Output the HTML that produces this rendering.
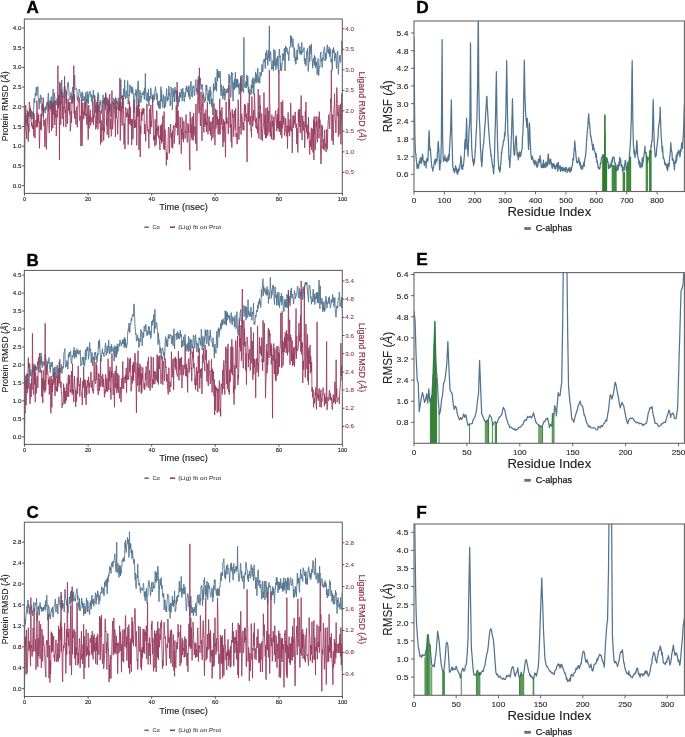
<!DOCTYPE html>
<html><head><meta charset="utf-8"><style>
html,body{margin:0;padding:0;background:#fff;}
svg{display:block;font-family:"Liberation Sans", sans-serif;will-change:transform;}
</style></head><body>
<svg width="685" height="737" viewBox="0 0 685 737">
<rect width="685" height="737" fill="#fff"/>
<defs>
<clipPath id="cl0"><rect x="24.35" y="19.0" width="317.95" height="174.40"/></clipPath>
<clipPath id="cl1"><rect x="24.35" y="270.4" width="317.95" height="174.00"/></clipPath>
<clipPath id="cl2"><rect x="24.35" y="522.2" width="317.95" height="174.30"/></clipPath>
<clipPath id="cr0"><rect x="414.0" y="21.0" width="270.40" height="170.50"/></clipPath>
<clipPath id="cr1"><rect x="414.0" y="272.6" width="270.40" height="170.70"/></clipPath>
<clipPath id="cr2"><rect x="414.0" y="524.0" width="270.40" height="171.30"/></clipPath>
</defs>
<g clip-path="url(#cl0)">
<polyline points="24.50,185.60 24.82,116.64 25.14,113.43 25.45,120.79 25.77,122.60 26.09,124.25 26.41,118.80 26.73,119.28 27.04,114.87 27.36,126.25 27.68,112.90 28.00,115.33 28.32,111.92 28.63,114.34 28.95,116.33 29.27,112.39 29.59,108.32 29.91,111.55 30.22,112.36 30.54,107.90 30.86,113.77 31.18,119.15 31.50,110.90 31.81,112.30 32.13,119.02 32.45,115.64 32.77,111.73 33.09,113.28 33.40,115.03 33.72,107.16 34.04,98.50 34.36,100.07 34.68,102.94 34.99,97.70 35.31,93.03 35.63,95.80 35.95,92.01 36.27,87.12 36.58,91.01 36.90,95.45 37.22,90.73 37.54,90.57 37.86,86.51 38.17,97.90 38.49,100.26 38.81,102.80 39.13,109.25 39.45,102.80 39.76,98.30 40.08,103.56 40.40,95.16 40.72,94.92 41.04,96.39 41.35,98.80 41.67,97.47 41.99,109.59 42.31,105.23 42.63,103.87 42.94,116.42 43.26,111.35 43.58,112.79 43.90,107.21 44.22,111.03 44.53,110.35 44.85,107.95 45.17,113.21 45.49,107.55 45.81,108.59 46.12,105.72 46.44,109.67 46.76,102.71 47.08,101.98 47.40,105.66 47.71,102.84 48.03,98.06 48.35,92.91 48.67,108.38 48.99,102.07 49.30,101.30 49.62,103.77 49.94,109.59 50.26,100.07 50.58,109.11 50.89,103.32 51.21,96.68 51.53,109.07 51.85,107.62 52.17,112.23 52.48,105.90 52.80,96.16 53.12,88.95 53.44,105.90 53.76,106.99 54.07,100.55 54.39,92.86 54.71,95.48 55.03,102.79 55.35,100.39 55.66,100.88 55.98,102.00 56.30,105.23 56.62,100.44 56.94,98.53 57.25,99.64 57.57,100.64 57.89,106.60 58.21,104.83 58.53,94.80 58.84,97.58 59.16,105.33 59.48,93.79 59.80,92.72 60.12,83.62 60.43,90.29 60.75,95.91 61.07,103.54 61.39,91.96 61.71,79.89 62.02,92.44 62.34,96.97 62.66,92.17 62.98,97.48 63.30,96.68 63.61,96.57 63.93,93.44 64.25,87.01 64.57,89.68 64.89,85.90 65.20,91.19 65.52,89.38 65.84,101.61 66.16,103.64 66.48,92.54 66.79,95.02 67.11,89.89 67.43,87.82 67.75,82.74 68.07,83.23 68.38,82.39 68.70,88.10 69.02,93.86 69.34,96.66 69.66,96.65 69.97,100.13 70.29,98.61 70.61,95.51 70.93,92.31 71.25,94.08 71.56,103.42 71.88,97.72 72.20,93.59 72.52,87.15 72.84,87.01 73.15,93.54 73.47,96.95 73.79,83.83 74.11,84.69 74.43,79.34 74.74,75.37 75.06,89.46 75.38,89.37 75.70,89.01 76.02,88.35 76.33,88.20 76.65,90.02 76.97,91.04 77.29,100.58 77.61,97.73 77.92,99.64 78.24,95.85 78.56,97.39 78.88,92.29 79.20,88.97 79.51,90.28 79.83,90.88 80.15,92.41 80.47,96.06 80.79,96.24 81.10,98.15 81.42,94.31 81.74,94.65 82.06,91.80 82.38,100.86 82.69,93.05 83.01,98.48 83.33,100.83 83.65,99.05 83.97,100.27 84.28,96.27 84.60,99.19 84.92,103.23 85.24,103.90 85.56,92.61 85.87,94.42 86.19,101.83 86.51,98.88 86.83,106.04 87.15,91.26 87.46,102.56 87.78,96.88 88.10,94.03 88.42,103.60 88.74,98.52 89.05,92.55 89.37,92.79 89.69,94.09 90.01,91.03 90.33,93.98 90.64,94.43 90.96,97.21 91.28,94.43 91.60,101.76 91.92,95.76 92.23,100.14 92.55,105.35 92.87,99.90 93.19,90.34 93.51,90.06 93.82,98.00 94.14,95.08 94.46,100.07 94.78,100.60 95.10,99.76 95.41,112.47 95.73,104.69 96.05,107.87 96.37,107.58 96.69,111.72 97.00,113.89 97.32,111.84 97.64,101.40 97.96,92.39 98.28,97.66 98.59,94.14 98.91,100.07 99.23,111.82 99.55,106.11 99.87,102.09 100.18,105.19 100.50,102.78 100.82,100.40 101.14,107.27 101.46,113.85 101.77,110.17 102.09,108.62 102.41,108.85 102.73,101.85 103.05,94.86 103.36,103.49 103.68,101.49 104.00,99.44 104.32,99.55 104.64,97.75 104.95,104.70 105.27,101.67 105.59,93.29 105.91,96.11 106.23,105.07 106.54,102.40 106.86,97.61 107.18,100.27 107.50,106.49 107.82,97.82 108.13,109.05 108.45,104.54 108.77,105.30 109.09,112.00 109.41,101.87 109.72,102.01 110.04,110.27 110.36,104.34 110.68,107.25 111.00,116.53 111.31,114.06 111.63,107.74 111.95,102.83 112.27,103.15 112.59,103.90 112.90,101.90 113.22,104.67 113.54,98.32 113.86,100.85 114.18,101.06 114.49,99.67 114.81,107.61 115.13,109.15 115.45,97.53 115.77,98.66 116.08,102.40 116.40,100.55 116.72,104.06 117.04,101.37 117.36,105.16 117.67,101.60 117.99,109.97 118.31,97.75 118.63,102.16 118.95,109.83 119.26,105.75 119.58,104.58 119.90,101.07 120.22,106.43 120.54,100.29 120.85,79.80 121.17,97.18 121.49,96.05 121.81,98.94 122.13,97.36 122.44,107.45 122.76,108.25 123.08,99.69 123.40,98.42 123.72,88.57 124.03,96.78 124.35,95.54 124.67,79.89 124.99,92.80 125.31,99.23 125.62,97.25 125.94,96.27 126.26,90.84 126.58,92.41 126.90,97.96 127.21,95.16 127.53,80.64 127.85,81.58 128.17,104.16 128.49,99.89 128.80,101.97 129.12,94.72 129.44,95.81 129.76,84.79 130.08,85.30 130.39,85.75 130.71,89.81 131.03,92.87 131.35,92.17 131.67,86.63 131.98,88.30 132.30,93.89 132.62,87.51 132.94,90.57 133.26,93.42 133.57,98.61 133.89,99.71 134.21,100.59 134.53,112.80 134.85,97.43 135.16,92.98 135.48,95.25 135.80,89.37 136.12,90.06 136.44,90.73 136.75,106.63 137.07,101.50 137.39,95.00 137.71,86.16 138.03,80.92 138.34,80.84 138.66,94.98 138.98,107.03 139.30,97.33 139.62,95.96 139.93,90.24 140.25,93.67 140.57,93.34 140.89,102.66 141.21,96.19 141.52,98.20 141.84,94.78 142.16,92.66 142.48,94.90 142.80,93.55 143.11,94.79 143.43,91.13 143.75,90.92 144.07,96.61 144.39,99.43 144.70,87.91 145.02,92.89 145.34,73.31 145.66,90.79 145.98,96.81 146.29,100.57 146.61,97.51 146.93,95.41 147.25,92.52 147.57,101.59 147.88,102.01 148.20,99.47 148.52,89.03 148.84,106.15 149.16,98.48 149.47,100.44 149.79,96.01 150.11,99.12 150.43,95.83 150.75,87.78 151.06,90.84 151.38,91.81 151.70,92.61 152.02,99.18 152.34,95.04 152.65,97.34 152.97,101.73 153.29,99.47 153.61,99.52 153.93,94.17 154.24,96.17 154.56,99.78 154.88,90.50 155.20,88.92 155.52,86.68 155.83,89.35 156.15,94.54 156.47,98.60 156.79,99.69 157.11,93.44 157.42,95.26 157.74,104.91 158.06,101.31 158.38,107.31 158.70,101.32 159.01,106.20 159.33,108.76 159.65,102.31 159.97,100.52 160.29,108.48 160.60,98.79 160.92,86.64 161.24,101.33 161.56,89.73 161.88,98.39 162.19,101.24 162.51,100.81 162.83,107.64 163.15,95.58 163.47,94.64 163.78,101.11 164.10,101.43 164.42,108.45 164.74,105.03 165.06,96.34 165.37,107.04 165.69,104.72 166.01,100.40 166.33,93.42 166.65,88.56 166.96,96.31 167.28,101.31 167.60,96.92 167.92,99.39 168.24,100.15 168.55,92.75 168.87,85.99 169.19,90.77 169.51,95.41 169.83,93.21 170.14,105.78 170.46,101.03 170.78,104.62 171.10,87.07 171.42,88.36 171.73,92.10 172.05,95.58 172.37,109.95 172.69,98.48 173.01,88.19 173.32,96.57 173.64,92.46 173.96,90.34 174.28,101.92 174.60,93.30 174.91,87.05 175.23,90.42 175.55,93.51 175.87,90.12 176.19,101.46 176.50,97.44 176.82,90.25 177.14,99.70 177.46,91.53 177.78,95.65 178.09,106.69 178.41,100.66 178.73,102.72 179.05,96.45 179.37,101.86 179.68,91.93 180.00,97.35 180.32,93.68 180.64,97.27 180.96,97.34 181.27,88.92 181.59,90.52 181.91,94.60 182.23,101.15 182.55,90.67 182.86,88.29 183.18,93.07 183.50,92.02 183.82,98.58 184.14,101.42 184.45,101.61 184.77,95.10 185.09,92.46 185.41,97.02 185.73,90.79 186.04,87.69 186.36,89.66 186.68,85.70 187.00,91.12 187.32,92.48 187.63,89.73 187.95,91.20 188.27,87.15 188.59,96.61 188.91,85.84 189.22,93.18 189.54,92.94 189.86,99.48 190.18,91.30 190.50,83.76 190.81,81.38 191.13,81.53 191.45,94.80 191.77,96.35 192.09,95.16 192.40,97.15 192.72,86.47 193.04,86.78 193.36,87.98 193.68,85.56 193.99,92.38 194.31,95.10 194.63,96.07 194.95,88.71 195.27,86.15 195.58,83.58 195.90,79.52 196.22,91.17 196.54,91.86 196.86,88.11 197.17,94.67 197.49,92.96 197.81,83.44 198.13,78.56 198.45,76.40 198.76,81.09 199.08,84.51 199.40,78.74 199.72,84.73 200.04,83.67 200.35,77.90 200.67,84.97 200.99,89.73 201.31,88.73 201.63,85.10 201.94,84.33 202.26,86.03 202.58,84.77 202.90,96.47 203.22,97.82 203.53,92.92 203.85,97.04 204.17,101.42 204.49,102.86 204.81,102.11 205.12,97.85 205.44,100.87 205.76,95.41 206.08,84.80 206.40,90.44 206.71,85.13 207.03,88.37 207.35,97.82 207.67,97.35 207.99,101.31 208.30,93.40 208.62,100.71 208.94,90.24 209.26,89.80 209.58,104.28 209.89,95.19 210.21,86.89 210.53,96.40 210.85,90.84 211.17,104.04 211.48,98.60 211.80,106.99 212.12,98.85 212.44,106.94 212.76,114.84 213.07,100.92 213.39,83.56 213.71,91.43 214.03,86.48 214.35,87.81 214.66,90.35 214.98,85.74 215.30,77.42 215.62,89.33 215.94,84.11 216.25,82.50 216.57,91.22 216.89,77.59 217.21,69.09 217.53,81.08 217.84,70.87 218.16,75.24 218.48,77.95 218.80,70.99 219.12,75.46 219.43,77.37 219.75,71.95 220.07,71.23 220.39,73.56 220.71,87.93 221.02,95.80 221.34,84.61 221.66,91.54 221.98,89.05 222.30,95.24 222.61,93.45 222.93,99.24 223.25,85.92 223.57,95.25 223.89,94.84 224.20,95.47 224.52,88.33 224.84,100.33 225.16,96.99 225.48,96.14 225.79,91.28 226.11,89.09 226.43,93.05 226.75,90.55 227.07,92.55 227.38,88.39 227.70,89.40 228.02,92.64 228.34,90.24 228.66,86.63 228.97,73.97 229.29,83.47 229.61,82.93 229.93,75.85 230.25,92.29 230.56,97.48 230.88,96.36 231.20,89.48 231.52,72.15 231.84,75.85 232.15,72.85 232.47,79.51 232.79,95.10 233.11,101.21 233.43,85.12 233.74,82.52 234.06,89.67 234.38,79.20 234.70,89.42 235.02,78.88 235.33,72.29 235.65,81.78 235.97,87.94 236.29,79.63 236.61,86.79 236.92,78.91 237.24,86.92 237.56,79.16 237.88,80.14 238.20,83.77 238.51,88.24 238.83,84.06 239.15,94.44 239.47,90.19 239.79,89.17 240.10,82.86 240.42,91.16 240.74,78.33 241.06,84.23 241.38,91.77 241.69,81.11 242.01,74.96 242.33,82.88 242.65,90.63 242.97,89.21 243.28,92.78 243.60,92.47 243.92,37.46 244.24,83.65 244.56,85.81 244.87,85.64 245.19,87.86 245.51,83.76 245.83,81.70 246.15,87.85 246.46,87.92 246.78,74.89 247.10,80.30 247.42,86.18 247.74,76.16 248.05,83.20 248.37,92.65 248.69,86.86 249.01,93.17 249.33,93.73 249.64,89.32 249.96,89.90 250.28,93.77 250.60,94.31 250.92,94.79 251.23,85.03 251.55,91.34 251.87,93.34 252.19,79.43 252.51,87.87 252.82,80.08 253.14,77.56 253.46,84.76 253.78,94.40 254.10,87.67 254.41,82.97 254.73,78.74 255.05,81.49 255.37,75.87 255.69,71.84 256.00,83.48 256.32,74.18 256.64,76.69 256.96,81.59 257.28,81.96 257.59,69.21 257.91,68.12 258.23,82.95 258.55,78.55 258.87,77.41 259.18,76.67 259.50,77.82 259.82,83.26 260.14,72.00 260.46,76.69 260.77,75.07 261.09,75.18 261.41,75.46 261.73,66.72 262.05,64.35 262.36,68.81 262.68,71.88 263.00,70.06 263.32,60.58 263.64,60.62 263.95,59.53 264.27,61.75 264.59,61.87 264.91,58.73 265.23,68.56 265.54,52.82 265.86,58.91 266.18,59.92 266.50,49.91 266.82,51.76 267.13,53.62 267.45,58.02 267.77,65.58 268.09,59.02 268.41,50.32 268.72,58.34 269.04,49.05 269.36,26.03 269.68,61.34 270.00,55.29 270.31,55.45 270.63,51.58 270.95,58.01 271.27,62.56 271.59,69.37 271.90,68.65 272.22,67.60 272.54,69.13 272.86,60.31 273.18,62.11 273.49,70.70 273.81,49.25 274.13,58.76 274.45,65.66 274.77,54.73 275.08,50.45 275.40,61.98 275.72,69.22 276.04,69.99 276.36,58.39 276.67,61.62 276.99,66.13 277.31,63.92 277.63,56.09 277.95,67.61 278.26,67.27 278.58,73.04 278.90,55.53 279.22,49.00 279.54,50.75 279.85,57.47 280.17,55.69 280.49,70.41 280.81,63.16 281.13,68.85 281.44,71.08 281.76,68.26 282.08,64.69 282.40,57.53 282.72,53.31 283.03,53.65 283.35,60.43 283.67,53.94 283.99,55.31 284.31,48.21 284.62,56.75 284.94,70.90 285.26,63.90 285.58,45.85 285.90,47.33 286.21,51.76 286.53,47.54 286.85,47.78 287.17,48.10 287.49,53.79 287.80,52.94 288.12,51.80 288.44,56.09 288.76,60.71 289.08,55.55 289.39,48.43 289.71,47.03 290.03,47.24 290.35,47.25 290.67,35.28 290.98,43.19 291.30,42.23 291.62,36.50 291.94,44.82 292.26,47.31 292.57,43.92 292.89,38.67 293.21,44.15 293.53,46.30 293.85,48.79 294.16,57.33 294.48,47.79 294.80,51.33 295.12,61.50 295.44,57.11 295.75,64.30 296.07,63.46 296.39,57.26 296.71,59.93 297.03,49.76 297.34,59.84 297.66,54.49 297.98,50.46 298.30,43.53 298.62,43.57 298.93,47.62 299.25,50.39 299.57,52.51 299.89,46.65 300.21,54.41 300.52,51.19 300.84,53.35 301.16,52.47 301.48,55.04 301.80,42.47 302.11,52.96 302.43,52.51 302.75,52.24 303.07,50.28 303.39,50.38 303.70,50.64 304.02,47.62 304.34,60.66 304.66,58.04 304.98,64.18 305.29,58.66 305.61,64.49 305.93,66.00 306.25,61.65 306.57,51.47 306.88,51.76 307.20,53.67 307.52,48.32 307.84,59.61 308.16,71.46 308.47,67.34 308.79,64.81 309.11,55.11 309.43,45.68 309.75,61.62 310.06,46.98 310.38,45.83 310.70,49.66 311.02,53.90 311.34,43.89 311.65,52.89 311.97,60.10 312.29,59.77 312.61,68.29 312.93,61.46 313.24,61.71 313.56,59.25 313.88,57.93 314.20,65.49 314.52,55.15 314.83,63.92 315.15,56.83 315.47,67.95 315.79,61.56 316.11,65.53 316.42,62.30 316.74,64.82 317.06,74.77 317.38,73.04 317.70,65.38 318.01,58.68 318.33,67.74 318.65,75.57 318.97,71.81 319.29,66.27 319.60,66.17 319.92,67.12 320.24,57.90 320.56,52.98 320.88,51.99 321.19,61.20 321.51,59.40 321.83,60.08 322.15,67.45 322.47,57.33 322.78,57.30 323.10,60.53 323.42,50.89 323.74,50.27 324.06,49.38 324.37,46.92 324.69,48.53 325.01,60.67 325.33,60.99 325.65,52.99 325.96,59.59 326.28,57.82 326.60,54.86 326.92,47.41 327.24,44.81 327.55,45.89 327.87,52.59 328.19,49.15 328.51,49.77 328.83,53.98 329.14,46.99 329.46,48.78 329.78,56.77 330.10,48.64 330.42,53.79 330.73,51.15 331.05,62.23 331.37,58.46 331.69,62.11 332.01,63.89 332.32,70.11 332.64,49.34 332.96,53.29 333.28,52.78 333.60,47.48 333.91,52.21 334.23,50.62 334.55,60.76 334.87,56.26 335.19,57.75 335.50,53.08 335.82,52.81 336.14,61.77 336.46,68.49 336.78,66.62 337.09,55.57 337.41,52.38 337.73,51.05 338.05,64.51 338.37,74.44 338.68,66.87 339.00,61.75 339.32,60.99 339.64,55.05 339.96,55.41 340.27,61.46 340.59,62.37 340.91,56.80 341.23,54.68 341.55,54.56 341.86,40.84 342.18,49.38 342.50,50.96" fill="none" stroke="#52748f" stroke-width="1.0" stroke-opacity="0.9" stroke-linejoin="round"/>
<polyline points="24.50,192.80 24.82,133.23 25.14,127.59 25.45,121.78 25.77,105.09 26.09,129.83 26.41,130.61 26.73,138.97 27.04,126.60 27.36,110.32 27.68,118.30 28.00,114.09 28.32,141.54 28.63,123.91 28.95,131.96 29.27,102.07 29.59,105.08 29.91,105.03 30.22,116.91 30.54,111.86 30.86,110.00 31.18,121.37 31.50,125.97 31.81,122.51 32.13,127.41 32.45,128.44 32.77,124.95 33.09,129.30 33.40,112.58 33.72,136.38 34.04,113.55 34.36,125.40 34.68,127.68 34.99,138.06 35.31,126.59 35.63,125.20 35.95,119.90 36.27,127.44 36.58,122.13 36.90,100.58 37.22,112.19 37.54,127.01 37.86,112.85 38.17,122.41 38.49,116.48 38.81,115.03 39.13,126.83 39.45,148.31 39.76,135.15 40.08,121.45 40.40,129.33 40.72,121.84 41.04,113.81 41.35,130.14 41.67,113.40 41.99,104.84 42.31,109.40 42.63,109.77 42.94,110.93 43.26,97.74 43.58,119.25 43.90,126.01 44.22,120.03 44.53,135.93 44.85,147.02 45.17,141.29 45.49,124.43 45.81,118.48 46.12,140.31 46.44,149.35 46.76,132.47 47.08,126.19 47.40,122.43 47.71,112.40 48.03,102.74 48.35,111.63 48.67,108.78 48.99,127.81 49.30,132.99 49.62,116.98 49.94,107.35 50.26,104.08 50.58,104.62 50.89,102.25 51.21,101.13 51.53,131.02 51.85,126.18 52.17,110.63 52.48,104.83 52.80,128.18 53.12,101.91 53.44,114.25 53.76,114.65 54.07,108.51 54.39,101.10 54.71,124.92 55.03,101.89 55.35,106.73 55.66,117.78 55.98,114.43 56.30,136.04 56.62,123.19 56.94,110.08 57.25,117.33 57.57,114.57 57.89,65.70 58.21,108.58 58.53,96.22 58.84,105.49 59.16,110.54 59.48,160.00 59.80,81.90 60.12,105.47 60.43,101.16 60.75,124.84 61.07,96.02 61.39,96.90 61.71,89.08 62.02,103.59 62.34,118.85 62.66,99.71 62.98,96.45 63.30,114.82 63.61,126.56 63.93,106.62 64.25,108.95 64.57,76.45 64.89,106.56 65.20,113.03 65.52,109.63 65.84,127.18 66.16,122.44 66.48,91.24 66.79,104.56 67.11,113.61 67.43,123.80 67.75,104.41 68.07,98.69 68.38,102.08 68.70,110.64 69.02,104.59 69.34,102.22 69.66,114.29 69.97,101.90 70.29,131.34 70.61,128.95 70.93,116.71 71.25,111.38 71.56,122.63 71.88,107.77 72.20,95.48 72.52,99.63 72.84,103.41 73.15,97.24 73.47,100.78 73.79,65.70 74.11,113.80 74.43,94.55 74.74,118.62 75.06,110.44 75.38,113.81 75.70,121.08 76.02,124.56 76.33,112.53 76.65,107.28 76.97,106.36 77.29,127.26 77.61,119.06 77.92,109.79 78.24,100.64 78.56,101.92 78.88,100.66 79.20,97.50 79.51,100.26 79.83,120.71 80.15,115.77 80.47,123.99 80.79,146.16 81.10,143.69 81.42,98.64 81.74,125.74 82.06,145.81 82.38,131.20 82.69,102.59 83.01,114.06 83.33,111.59 83.65,119.06 83.97,118.75 84.28,102.69 84.60,104.29 84.92,115.21 85.24,106.37 85.56,102.02 85.87,116.33 86.19,114.14 86.51,113.82 86.83,124.73 87.15,105.90 87.46,116.88 87.78,125.03 88.10,139.64 88.42,138.46 88.74,105.08 89.05,128.41 89.37,115.65 89.69,121.96 90.01,113.14 90.33,109.90 90.64,125.49 90.96,123.68 91.28,118.62 91.60,117.21 91.92,118.60 92.23,122.36 92.55,112.15 92.87,101.48 93.19,108.06 93.51,124.95 93.82,115.72 94.14,117.43 94.46,113.14 94.78,95.64 95.10,115.70 95.41,118.31 95.73,129.35 96.05,125.02 96.37,127.26 96.69,102.08 97.00,111.16 97.32,123.83 97.64,97.31 97.96,129.34 98.28,111.36 98.59,105.03 98.91,108.69 99.23,119.52 99.55,120.67 99.87,123.49 100.18,110.79 100.50,144.59 100.82,131.47 101.14,120.31 101.46,126.23 101.77,142.38 102.09,127.73 102.41,130.15 102.73,112.29 103.05,100.74 103.36,113.61 103.68,140.61 104.00,126.73 104.32,131.90 104.64,114.13 104.95,97.71 105.27,109.91 105.59,92.57 105.91,94.42 106.23,104.59 106.54,125.61 106.86,118.17 107.18,134.69 107.50,109.26 107.82,113.73 108.13,99.89 108.45,109.24 108.77,137.97 109.09,114.39 109.41,105.09 109.72,94.05 110.04,122.56 110.36,129.10 110.68,119.01 111.00,129.79 111.31,136.32 111.63,134.64 111.95,90.51 112.27,117.81 112.59,129.28 112.90,125.51 113.22,119.29 113.54,102.49 113.86,102.41 114.18,104.26 114.49,113.57 114.81,114.57 115.13,124.26 115.45,136.98 115.77,98.10 116.08,118.01 116.40,105.55 116.72,118.22 117.04,118.72 117.36,119.61 117.67,134.36 117.99,122.64 118.31,114.27 118.63,106.87 118.95,109.00 119.26,103.30 119.58,110.50 119.90,78.00 120.22,140.51 120.54,129.70 120.85,102.21 121.17,112.34 121.49,106.86 121.81,117.47 122.13,125.61 122.44,95.34 122.76,107.84 123.08,97.46 123.40,106.32 123.72,118.34 124.03,144.48 124.35,123.30 124.67,137.69 124.99,149.06 125.31,110.81 125.62,107.40 125.94,107.51 126.26,114.58 126.58,117.36 126.90,112.61 127.21,114.60 127.53,116.11 127.85,108.54 128.17,144.64 128.49,113.88 128.80,124.33 129.12,109.29 129.44,101.75 129.76,123.86 130.08,109.99 130.39,106.71 130.71,123.73 131.03,125.99 131.35,119.01 131.67,145.14 131.98,130.59 132.30,119.47 132.62,124.25 132.94,139.20 133.26,128.65 133.57,103.40 133.89,99.40 134.21,115.62 134.53,127.87 134.85,121.60 135.16,119.71 135.48,127.51 135.80,125.44 136.12,113.58 136.44,106.96 136.75,145.42 137.07,114.49 137.39,116.80 137.71,105.36 138.03,116.44 138.34,113.79 138.66,98.91 138.98,149.99 139.30,108.63 139.62,114.96 139.93,140.49 140.25,156.94 140.57,125.72 140.89,133.86 141.21,111.81 141.52,115.70 141.84,120.86 142.16,108.79 142.48,115.32 142.80,110.48 143.11,108.24 143.43,113.78 143.75,109.65 144.07,108.67 144.39,134.08 144.70,127.47 145.02,124.04 145.34,126.28 145.66,141.47 145.98,133.36 146.29,120.77 146.61,119.57 146.93,103.67 147.25,125.19 147.57,128.71 147.88,131.46 148.20,129.31 148.52,132.39 148.84,148.41 149.16,126.31 149.47,113.35 149.79,108.75 150.11,134.01 150.43,129.92 150.75,104.85 151.06,122.03 151.38,121.11 151.70,127.03 152.02,114.97 152.34,112.61 152.65,96.09 152.97,113.86 153.29,119.11 153.61,140.36 153.93,136.34 154.24,139.01 154.56,135.45 154.88,146.43 155.20,119.30 155.52,139.63 155.83,129.11 156.15,144.84 156.47,129.84 156.79,110.69 157.11,135.47 157.42,127.75 157.74,131.10 158.06,127.93 158.38,125.67 158.70,137.79 159.01,135.57 159.33,140.03 159.65,144.09 159.97,150.05 160.29,125.66 160.60,139.93 160.92,126.99 161.24,125.22 161.56,143.37 161.88,123.77 162.19,141.68 162.51,128.63 162.83,115.68 163.15,138.40 163.47,146.77 163.78,149.17 164.10,111.48 164.42,133.93 164.74,150.15 165.06,129.60 165.37,136.33 165.69,136.40 166.01,147.94 166.33,165.50 166.65,152.23 166.96,152.75 167.28,159.79 167.60,155.30 167.92,152.62 168.24,131.22 168.55,127.12 168.87,128.43 169.19,141.30 169.51,153.21 169.83,137.79 170.14,132.08 170.46,124.29 170.78,134.64 171.10,137.90 171.42,133.13 171.73,146.22 172.05,147.66 172.37,130.46 172.69,148.35 173.01,138.42 173.32,125.32 173.64,128.13 173.96,126.14 174.28,143.52 174.60,135.77 174.91,135.18 175.23,124.25 175.55,123.30 175.87,127.28 176.19,105.65 176.50,115.94 176.82,127.95 177.14,82.10 177.46,129.71 177.78,135.17 178.09,110.62 178.41,117.45 178.73,129.87 179.05,137.37 179.37,144.50 179.68,137.11 180.00,116.73 180.32,117.51 180.64,128.63 180.96,129.39 181.27,153.67 181.59,128.88 181.91,134.62 182.23,117.41 182.55,131.85 182.86,139.39 183.18,133.27 183.50,142.14 183.82,120.95 184.14,128.32 184.45,129.33 184.77,130.12 185.09,138.60 185.41,130.96 185.73,132.83 186.04,114.65 186.36,130.36 186.68,130.70 187.00,140.77 187.32,142.40 187.63,142.12 187.95,123.16 188.27,132.89 188.59,124.85 188.91,137.58 189.22,142.11 189.54,161.90 189.86,170.25 190.18,111.76 190.50,132.59 190.81,117.34 191.13,119.76 191.45,137.88 191.77,124.51 192.09,140.18 192.40,136.30 192.72,116.59 193.04,123.55 193.36,140.40 193.68,113.23 193.99,135.56 194.31,129.33 194.63,129.27 194.95,126.37 195.27,133.14 195.58,143.44 195.90,103.92 196.22,126.58 196.54,131.45 196.86,150.88 197.17,125.52 197.49,104.71 197.81,97.96 198.13,79.84 198.45,90.09 198.76,105.33 199.08,113.43 199.40,67.75 199.72,111.97 200.04,112.33 200.35,125.90 200.67,116.51 200.99,91.71 201.31,109.54 201.63,108.20 201.94,140.89 202.26,104.35 202.58,106.53 202.90,95.08 203.22,106.27 203.53,122.23 203.85,132.47 204.17,113.14 204.49,114.79 204.81,126.67 205.12,119.09 205.44,124.17 205.76,109.63 206.08,119.61 206.40,131.97 206.71,121.82 207.03,125.12 207.35,102.04 207.67,119.50 207.99,134.22 208.30,123.18 208.62,123.01 208.94,116.98 209.26,116.33 209.58,131.16 209.89,123.48 210.21,122.38 210.53,135.28 210.85,131.27 211.17,121.31 211.48,140.29 211.80,139.21 212.12,131.85 212.44,125.78 212.76,117.32 213.07,137.58 213.39,123.21 213.71,115.94 214.03,103.38 214.35,123.71 214.66,134.85 214.98,145.12 215.30,123.11 215.62,108.82 215.94,128.67 216.25,120.17 216.57,113.03 216.89,110.04 217.21,125.27 217.53,116.58 217.84,122.49 218.16,134.48 218.48,123.05 218.80,118.93 219.12,133.50 219.43,120.41 219.75,98.69 220.07,134.62 220.39,117.49 220.71,110.66 221.02,119.17 221.34,118.03 221.66,124.75 221.98,107.26 222.30,130.13 222.61,126.39 222.93,146.89 223.25,125.24 223.57,119.29 223.89,142.13 224.20,138.36 224.52,121.49 224.84,128.80 225.16,139.23 225.48,157.20 225.79,127.98 226.11,101.84 226.43,123.77 226.75,118.68 227.07,117.62 227.38,123.34 227.70,122.63 228.02,122.25 228.34,133.86 228.66,96.78 228.97,84.87 229.29,110.48 229.61,99.36 229.93,127.52 230.25,127.51 230.56,111.37 230.88,134.45 231.20,141.99 231.52,124.35 231.84,147.48 232.15,109.28 232.47,111.25 232.79,117.67 233.11,114.15 233.43,131.96 233.74,136.76 234.06,116.84 234.38,110.58 234.70,118.43 235.02,122.63 235.33,129.47 235.65,108.24 235.97,137.09 236.29,136.85 236.61,132.99 236.92,143.77 237.24,144.08 237.56,140.61 237.88,115.42 238.20,99.66 238.51,112.93 238.83,139.57 239.15,134.15 239.47,127.16 239.79,126.93 240.10,128.03 240.42,117.72 240.74,75.95 241.06,134.64 241.38,122.78 241.69,113.80 242.01,116.58 242.33,120.36 242.65,123.10 242.97,129.97 243.28,122.65 243.60,124.20 243.92,130.44 244.24,109.27 244.56,104.10 244.87,121.23 245.19,113.69 245.51,104.85 245.83,113.61 246.15,117.39 246.46,113.89 246.78,138.40 247.10,162.05 247.42,119.50 247.74,116.80 248.05,103.11 248.37,121.76 248.69,107.45 249.01,104.29 249.33,92.64 249.64,122.57 249.96,124.70 250.28,117.72 250.60,116.04 250.92,130.56 251.23,129.06 251.55,137.34 251.87,96.54 252.19,114.47 252.51,118.24 252.82,126.31 253.14,120.70 253.46,110.22 253.78,120.84 254.10,119.87 254.41,93.49 254.73,101.66 255.05,111.81 255.37,122.11 255.69,119.92 256.00,127.88 256.32,117.82 256.64,126.47 256.96,129.28 257.28,126.21 257.59,133.31 257.91,120.08 258.23,89.25 258.55,118.78 258.87,138.47 259.18,112.38 259.50,118.47 259.82,95.31 260.14,108.59 260.46,105.48 260.77,125.01 261.09,139.68 261.41,126.73 261.73,113.50 262.05,128.39 262.36,140.85 262.68,132.25 263.00,128.40 263.32,126.15 263.64,122.17 263.95,92.52 264.27,113.18 264.59,124.64 264.91,134.54 265.23,114.76 265.54,138.08 265.86,108.10 266.18,117.88 266.50,138.09 266.82,123.22 267.13,123.09 267.45,107.24 267.77,135.58 268.09,122.58 268.41,121.97 268.72,110.79 269.04,132.37 269.36,69.80 269.68,101.42 270.00,110.13 270.31,136.42 270.63,121.71 270.95,131.25 271.27,132.50 271.59,139.15 271.90,114.77 272.22,126.72 272.54,121.04 272.86,121.11 273.18,140.05 273.49,135.64 273.81,116.71 274.13,139.65 274.45,123.93 274.77,124.21 275.08,115.43 275.40,112.79 275.72,110.52 276.04,119.04 276.36,118.85 276.67,130.21 276.99,131.16 277.31,114.35 277.63,127.90 277.95,112.12 278.26,108.50 278.58,128.89 278.90,69.80 279.22,131.49 279.54,121.25 279.85,131.95 280.17,121.49 280.49,120.87 280.81,135.07 281.13,102.03 281.44,106.69 281.76,138.21 282.08,123.04 282.40,128.44 282.72,100.50 283.03,118.49 283.35,117.65 283.67,124.28 283.99,116.33 284.31,128.19 284.62,135.49 284.94,132.58 285.26,131.02 285.58,118.22 285.90,121.44 286.21,128.57 286.53,129.94 286.85,136.33 287.17,125.60 287.49,148.55 287.80,132.87 288.12,112.33 288.44,125.54 288.76,132.34 289.08,125.80 289.39,135.74 289.71,136.22 290.03,119.30 290.35,130.71 290.67,102.91 290.98,112.79 291.30,122.89 291.62,131.57 291.94,129.48 292.26,152.83 292.57,128.94 292.89,115.37 293.21,115.76 293.53,127.78 293.85,118.42 294.16,115.85 294.48,124.35 294.80,120.82 295.12,111.82 295.44,116.49 295.75,127.60 296.07,125.77 296.39,123.69 296.71,144.01 297.03,128.59 297.34,127.82 297.66,151.82 297.98,152.46 298.30,111.31 298.62,121.36 298.93,109.38 299.25,126.98 299.57,108.98 299.89,116.15 300.21,133.01 300.52,126.04 300.84,109.23 301.16,95.49 301.48,114.49 301.80,130.86 302.11,140.12 302.43,124.26 302.75,115.68 303.07,125.02 303.39,130.53 303.70,121.14 304.02,122.91 304.34,124.68 304.66,147.97 304.98,139.69 305.29,111.42 305.61,127.04 305.93,102.06 306.25,120.14 306.57,132.73 306.88,129.26 307.20,124.68 307.52,139.37 307.84,131.70 308.16,137.73 308.47,117.15 308.79,134.77 309.11,132.49 309.43,151.27 309.75,154.47 310.06,140.26 310.38,146.60 310.70,140.95 311.02,133.38 311.34,127.74 311.65,149.79 311.97,140.93 312.29,128.76 312.61,141.72 312.93,152.51 313.24,148.07 313.56,119.59 313.88,160.00 314.20,116.51 314.52,134.96 314.83,121.93 315.15,150.05 315.47,143.05 315.79,137.37 316.11,116.25 316.42,126.36 316.74,121.30 317.06,138.41 317.38,142.53 317.70,123.45 318.01,116.81 318.33,117.45 318.65,117.87 318.97,138.37 319.29,111.65 319.60,128.47 319.92,119.56 320.24,123.46 320.56,154.11 320.88,163.97 321.19,162.33 321.51,143.43 321.83,124.81 322.15,136.31 322.47,126.19 322.78,148.28 323.10,146.48 323.42,149.27 323.74,138.87 324.06,150.25 324.37,140.61 324.69,129.89 325.01,139.68 325.33,147.21 325.65,143.82 325.96,152.04 326.28,151.83 326.60,129.90 326.92,129.01 327.24,149.25 327.55,139.85 327.87,128.08 328.19,120.30 328.51,119.57 328.83,114.66 329.14,124.85 329.46,126.43 329.78,128.86 330.10,112.80 330.42,110.96 330.73,98.79 331.05,102.93 331.37,69.80 331.69,139.26 332.01,140.84 332.32,134.64 332.64,114.45 332.96,132.70 333.28,144.82 333.60,125.82 333.91,109.21 334.23,105.33 334.55,93.68 334.87,110.97 335.19,121.44 335.50,120.96 335.82,133.03 336.14,128.07 336.46,103.48 336.78,87.55 337.09,93.33 337.41,106.27 337.73,115.84 338.05,112.34 338.37,136.76 338.68,113.45 339.00,105.07 339.32,113.80 339.64,114.06 339.96,134.46 340.27,109.91 340.59,103.66 340.91,144.31 341.23,128.38 341.55,113.26 341.86,93.62 342.18,118.76 342.50,115.12" fill="none" stroke="#963a5c" stroke-width="1.0" stroke-opacity="0.85" stroke-linejoin="round"/>
</g>
<g clip-path="url(#cl1)">
<polyline points="24.50,436.80 24.82,375.11 25.14,387.63 25.45,375.98 25.77,379.07 26.09,383.97 26.41,385.99 26.73,388.07 27.04,384.59 27.36,377.62 27.68,375.51 28.00,374.10 28.32,384.75 28.63,388.73 28.95,374.95 29.27,371.43 29.59,363.68 29.91,364.78 30.22,376.07 30.54,369.59 30.86,369.71 31.18,371.51 31.50,377.16 31.81,375.41 32.13,375.11 32.45,369.62 32.77,370.68 33.09,363.72 33.40,371.95 33.72,369.28 34.04,367.70 34.36,373.44 34.68,377.34 34.99,368.05 35.31,366.06 35.63,368.26 35.95,366.27 36.27,370.39 36.58,367.50 36.90,370.10 37.22,367.12 37.54,361.70 37.86,365.58 38.17,361.28 38.49,368.42 38.81,367.76 39.13,372.57 39.45,368.31 39.76,365.31 40.08,365.13 40.40,365.19 40.72,357.11 41.04,352.87 41.35,363.75 41.67,356.69 41.99,367.57 42.31,367.40 42.63,364.37 42.94,361.41 43.26,365.57 43.58,365.65 43.90,361.92 44.22,364.03 44.53,364.72 44.85,358.60 45.17,354.54 45.49,357.59 45.81,358.58 46.12,359.21 46.44,361.63 46.76,363.00 47.08,367.11 47.40,361.15 47.71,362.57 48.03,363.97 48.35,363.43 48.67,362.05 48.99,357.55 49.30,364.35 49.62,368.54 49.94,367.95 50.26,372.52 50.58,364.21 50.89,362.22 51.21,362.51 51.53,366.70 51.85,364.41 52.17,361.89 52.48,363.52 52.80,368.14 53.12,377.18 53.44,368.35 53.76,370.82 54.07,374.39 54.39,367.52 54.71,367.20 55.03,375.74 55.35,373.15 55.66,372.86 55.98,366.58 56.30,378.01 56.62,375.80 56.94,373.66 57.25,365.10 57.57,373.62 57.89,386.66 58.21,384.94 58.53,376.12 58.84,369.53 59.16,362.09 59.48,365.36 59.80,372.82 60.12,367.94 60.43,370.22 60.75,372.25 61.07,372.15 61.39,364.43 61.71,370.87 62.02,373.58 62.34,369.30 62.66,366.58 62.98,368.25 63.30,368.53 63.61,361.68 63.93,353.08 64.25,351.50 64.57,351.45 64.89,348.60 65.20,363.18 65.52,367.31 65.84,365.14 66.16,366.51 66.48,366.05 66.79,360.56 67.11,364.69 67.43,362.34 67.75,369.09 68.07,366.81 68.38,354.30 68.70,357.89 69.02,355.18 69.34,352.03 69.66,356.47 69.97,353.15 70.29,353.40 70.61,351.09 70.93,356.56 71.25,362.93 71.56,363.69 71.88,361.68 72.20,355.36 72.52,356.11 72.84,357.36 73.15,356.79 73.47,350.19 73.79,355.41 74.11,347.44 74.43,357.29 74.74,358.54 75.06,351.93 75.38,350.57 75.70,356.40 76.02,355.15 76.33,357.34 76.65,350.45 76.97,348.69 77.29,353.86 77.61,350.53 77.92,352.59 78.24,351.87 78.56,350.67 78.88,354.65 79.20,352.26 79.51,351.71 79.83,352.32 80.15,349.94 80.47,356.34 80.79,365.87 81.10,365.96 81.42,363.30 81.74,363.67 82.06,359.99 82.38,356.92 82.69,359.79 83.01,360.75 83.33,365.20 83.65,356.96 83.97,359.34 84.28,364.15 84.60,366.17 84.92,363.34 85.24,351.54 85.56,349.48 85.87,360.10 86.19,356.56 86.51,352.47 86.83,348.25 87.15,347.15 87.46,350.91 87.78,346.83 88.10,349.15 88.42,359.25 88.74,356.40 89.05,355.16 89.37,346.68 89.69,342.51 90.01,351.12 90.33,349.14 90.64,348.81 90.96,356.32 91.28,362.89 91.60,356.34 91.92,352.42 92.23,354.40 92.55,365.85 92.87,357.96 93.19,357.26 93.51,358.62 93.82,356.60 94.14,359.80 94.46,353.08 94.78,352.57 95.10,355.12 95.41,352.09 95.73,352.24 96.05,359.59 96.37,356.10 96.69,356.04 97.00,362.29 97.32,359.72 97.64,353.22 97.96,355.41 98.28,346.39 98.59,340.86 98.91,348.21 99.23,347.25 99.55,339.70 99.87,347.71 100.18,354.07 100.50,354.56 100.82,359.43 101.14,361.46 101.46,354.68 101.77,354.67 102.09,351.37 102.41,348.67 102.73,353.58 103.05,352.95 103.36,353.00 103.68,354.96 104.00,356.63 104.32,351.68 104.64,351.67 104.95,349.30 105.27,344.91 105.59,342.84 105.91,352.34 106.23,355.32 106.54,353.68 106.86,351.03 107.18,345.80 107.50,352.77 107.82,353.29 108.13,350.12 108.45,343.83 108.77,340.23 109.09,350.31 109.41,350.91 109.72,354.08 110.04,347.32 110.36,346.22 110.68,349.65 111.00,352.41 111.31,349.16 111.63,344.29 111.95,350.67 112.27,351.32 112.59,349.44 112.90,349.02 113.22,347.23 113.54,352.97 113.86,353.50 114.18,361.09 114.49,353.85 114.81,345.55 115.13,357.16 115.45,355.32 115.77,346.91 116.08,348.20 116.40,357.35 116.72,346.35 117.04,354.11 117.36,343.80 117.67,348.73 117.99,351.50 118.31,349.08 118.63,348.19 118.95,344.68 119.26,343.53 119.58,346.16 119.90,340.06 120.22,340.17 120.54,342.29 120.85,343.82 121.17,345.55 121.49,346.14 121.81,342.65 122.13,341.92 122.44,343.64 122.76,339.51 123.08,343.84 123.40,342.25 123.72,339.35 124.03,347.67 124.35,347.12 124.67,337.27 124.99,345.65 125.31,338.95 125.62,346.72 125.94,342.91 126.26,348.32 126.58,347.44 126.90,345.20 127.21,344.38 127.53,335.70 127.85,331.99 128.17,329.48 128.49,331.03 128.80,323.96 129.12,323.11 129.44,325.54 129.76,332.73 130.08,326.77 130.39,323.60 130.71,324.25 131.03,320.85 131.35,317.98 131.67,321.06 131.98,317.32 132.30,315.83 132.62,314.45 132.94,316.18 133.26,316.67 133.57,313.15 133.89,304.23 134.21,303.86 134.53,312.72 134.85,323.69 135.16,326.88 135.48,332.50 135.80,334.73 136.12,333.48 136.44,341.13 136.75,338.83 137.07,338.34 137.39,336.13 137.71,335.23 138.03,340.44 138.34,338.13 138.66,347.61 138.98,347.07 139.30,346.35 139.62,343.72 139.93,338.67 140.25,342.05 140.57,332.55 140.89,329.45 141.21,331.60 141.52,331.00 141.84,336.80 142.16,345.87 142.48,338.97 142.80,333.87 143.11,332.02 143.43,337.70 143.75,337.07 144.07,325.96 144.39,325.99 144.70,326.56 145.02,331.35 145.34,328.37 145.66,324.34 145.98,325.11 146.29,331.17 146.61,330.50 146.93,335.91 147.25,335.53 147.57,330.96 147.88,334.42 148.20,334.49 148.52,326.37 148.84,329.84 149.16,326.43 149.47,329.72 149.79,334.90 150.11,331.24 150.43,330.99 150.75,338.55 151.06,337.60 151.38,332.96 151.70,321.20 152.02,325.54 152.34,324.44 152.65,320.32 152.97,319.73 153.29,322.14 153.61,315.02 153.93,314.38 154.24,333.33 154.56,326.05 154.88,309.25 155.20,324.05 155.52,328.50 155.83,327.70 156.15,322.75 156.47,322.36 156.79,322.60 157.11,327.09 157.42,330.54 157.74,332.78 158.06,344.64 158.38,332.96 158.70,337.74 159.01,339.56 159.33,341.48 159.65,340.71 159.97,353.13 160.29,347.34 160.60,352.14 160.92,353.03 161.24,357.79 161.56,359.35 161.88,348.90 162.19,349.55 162.51,348.06 162.83,347.82 163.15,352.65 163.47,352.71 163.78,355.54 164.10,352.28 164.42,360.24 164.74,354.37 165.06,345.12 165.37,339.26 165.69,336.69 166.01,338.45 166.33,346.34 166.65,340.30 166.96,339.23 167.28,339.74 167.60,346.96 167.92,342.12 168.24,334.71 168.55,334.40 168.87,338.76 169.19,336.69 169.51,338.16 169.83,337.72 170.14,334.02 170.46,334.56 170.78,335.88 171.10,335.06 171.42,340.53 171.73,343.81 172.05,337.99 172.37,340.60 172.69,336.09 173.01,345.74 173.32,335.18 173.64,336.73 173.96,328.74 174.28,345.35 174.60,348.89 174.91,335.34 175.23,335.29 175.55,334.50 175.87,334.96 176.19,334.95 176.50,333.04 176.82,339.70 177.14,338.53 177.46,331.22 177.78,333.61 178.09,338.79 178.41,337.82 178.73,332.94 179.05,337.03 179.37,338.95 179.68,336.75 180.00,334.20 180.32,330.18 180.64,336.42 180.96,337.09 181.27,334.19 181.59,347.48 181.91,343.65 182.23,340.56 182.55,342.04 182.86,346.65 183.18,341.89 183.50,336.73 183.82,340.81 184.14,344.61 184.45,345.03 184.77,336.59 185.09,334.34 185.41,339.24 185.73,347.05 186.04,351.42 186.36,348.80 186.68,347.61 187.00,344.26 187.32,349.62 187.63,347.14 187.95,342.84 188.27,351.80 188.59,336.36 188.91,337.86 189.22,338.81 189.54,348.23 189.86,351.14 190.18,342.46 190.50,339.23 190.81,354.09 191.13,343.20 191.45,340.43 191.77,339.72 192.09,347.94 192.40,344.95 192.72,347.88 193.04,343.49 193.36,335.09 193.68,337.13 193.99,336.13 194.31,342.13 194.63,348.25 194.95,345.85 195.27,339.67 195.58,334.70 195.90,339.90 196.22,340.63 196.54,344.10 196.86,352.07 197.17,346.73 197.49,342.97 197.81,344.96 198.13,344.60 198.45,352.36 198.76,346.67 199.08,337.53 199.40,340.25 199.72,338.37 200.04,338.20 200.35,343.96 200.67,341.74 200.99,345.72 201.31,329.10 201.63,334.87 201.94,343.76 202.26,349.88 202.58,337.71 202.90,336.24 203.22,336.44 203.53,344.98 203.85,344.69 204.17,347.57 204.49,337.31 204.81,340.47 205.12,329.65 205.44,331.50 205.76,336.27 206.08,330.05 206.40,343.94 206.71,343.78 207.03,341.40 207.35,332.90 207.67,329.68 207.99,332.04 208.30,343.83 208.62,343.28 208.94,346.11 209.26,336.10 209.58,340.16 209.89,337.19 210.21,329.89 210.53,336.35 210.85,335.73 211.17,341.03 211.48,341.56 211.80,342.08 212.12,342.72 212.44,343.60 212.76,346.86 213.07,337.81 213.39,346.70 213.71,346.89 214.03,348.33 214.35,358.17 214.66,346.25 214.98,344.07 215.30,350.52 215.62,349.79 215.94,353.36 216.25,345.17 216.57,334.76 216.89,331.30 217.21,341.64 217.53,347.95 217.84,339.26 218.16,329.20 218.48,332.26 218.80,327.66 219.12,336.83 219.43,333.85 219.75,329.02 220.07,330.24 220.39,329.10 220.71,323.32 221.02,326.37 221.34,328.77 221.66,320.50 221.98,319.73 222.30,325.38 222.61,320.80 222.93,323.53 223.25,318.76 223.57,319.70 223.89,321.40 224.20,324.45 224.52,320.94 224.84,320.48 225.16,310.64 225.48,315.64 225.79,324.20 226.11,311.15 226.43,325.38 226.75,313.54 227.07,320.48 227.38,312.43 227.70,316.46 228.02,314.59 228.34,316.27 228.66,317.67 228.97,315.15 229.29,319.69 229.61,316.17 229.93,322.21 230.25,323.16 230.56,322.45 230.88,320.07 231.20,312.48 231.52,319.11 231.84,322.17 232.15,324.80 232.47,322.40 232.79,316.52 233.11,320.26 233.43,319.66 233.74,320.80 234.06,317.96 234.38,326.96 234.70,319.65 235.02,315.53 235.33,323.13 235.65,323.57 235.97,328.69 236.29,322.38 236.61,322.15 236.92,311.68 237.24,323.04 237.56,332.23 237.88,332.32 238.20,335.40 238.51,328.78 238.83,324.50 239.15,318.77 239.47,317.94 239.79,320.80 240.10,312.89 240.42,312.05 240.74,309.64 241.06,318.96 241.38,321.44 241.69,321.55 242.01,320.32 242.33,328.54 242.65,315.51 242.97,316.54 243.28,311.74 243.60,309.89 243.92,305.45 244.24,307.93 244.56,309.95 244.87,316.29 245.19,314.84 245.51,306.09 245.83,319.40 246.15,320.13 246.46,315.58 246.78,306.87 247.10,316.24 247.42,317.48 247.74,315.15 248.05,299.67 248.37,312.33 248.69,314.62 249.01,311.31 249.33,317.03 249.64,314.33 249.96,313.07 250.28,316.40 250.60,314.49 250.92,306.97 251.23,311.53 251.55,316.39 251.87,320.25 252.19,317.27 252.51,312.04 252.82,314.17 253.14,314.42 253.46,303.12 253.78,316.17 254.10,324.39 254.41,322.22 254.73,324.44 255.05,322.35 255.37,315.33 255.69,315.32 256.00,316.85 256.32,312.84 256.64,310.02 256.96,310.39 257.28,311.75 257.59,305.07 257.91,305.15 258.23,308.65 258.55,301.49 258.87,303.79 259.18,304.53 259.50,298.62 259.82,302.62 260.14,301.05 260.46,303.90 260.77,307.48 261.09,299.76 261.41,289.68 261.73,296.70 262.05,289.46 262.36,286.28 262.68,282.30 263.00,278.71 263.32,295.81 263.64,285.92 263.95,289.84 264.27,291.41 264.59,288.62 264.91,287.87 265.23,293.26 265.54,294.05 265.86,290.27 266.18,290.40 266.50,295.39 266.82,287.80 267.13,286.52 267.45,291.71 267.77,295.21 268.09,289.59 268.41,303.46 268.72,297.36 269.04,298.08 269.36,298.83 269.68,291.55 270.00,291.13 270.31,277.46 270.63,287.39 270.95,289.02 271.27,298.45 271.59,290.90 271.90,295.39 272.22,293.44 272.54,287.31 272.86,285.35 273.18,287.99 273.49,285.46 273.81,292.92 274.13,298.82 274.45,304.52 274.77,297.03 275.08,286.90 275.40,293.73 275.72,295.31 276.04,297.77 276.36,295.09 276.67,305.38 276.99,297.01 277.31,292.28 277.63,298.95 277.95,303.72 278.26,305.38 278.58,299.25 278.90,292.25 279.22,301.05 279.54,307.77 279.85,302.76 280.17,299.75 280.49,296.29 280.81,301.66 281.13,297.14 281.44,293.35 281.76,305.15 282.08,303.94 282.40,298.98 282.72,296.05 283.03,301.27 283.35,310.51 283.67,309.02 283.99,311.57 284.31,308.36 284.62,299.35 284.94,303.52 285.26,301.93 285.58,307.45 285.90,299.38 286.21,303.35 286.53,307.15 286.85,294.51 287.17,296.30 287.49,295.35 287.80,308.03 288.12,296.89 288.44,290.39 288.76,296.53 289.08,300.06 289.39,302.98 289.71,296.10 290.03,305.96 290.35,301.04 290.67,290.57 290.98,294.95 291.30,287.85 291.62,294.18 291.94,298.33 292.26,294.02 292.57,296.73 292.89,296.90 293.21,299.26 293.53,304.07 293.85,301.62 294.16,295.33 294.48,290.47 294.80,293.74 295.12,293.15 295.44,298.76 295.75,297.39 296.07,296.47 296.39,295.77 296.71,294.28 297.03,291.98 297.34,286.48 297.66,286.02 297.98,286.86 298.30,295.80 298.62,297.73 298.93,294.33 299.25,292.47 299.57,288.48 299.89,298.83 300.21,293.91 300.52,291.90 300.84,293.19 301.16,295.93 301.48,292.10 301.80,292.20 302.11,289.09 302.43,299.78 302.75,299.11 303.07,287.09 303.39,288.12 303.70,293.56 304.02,293.86 304.34,298.86 304.66,287.86 304.98,282.94 305.29,283.49 305.61,282.24 305.93,285.35 306.25,282.67 306.57,284.88 306.88,282.14 307.20,288.00 307.52,291.02 307.84,294.77 308.16,296.08 308.47,302.16 308.79,290.77 309.11,285.36 309.43,286.28 309.75,285.47 310.06,288.94 310.38,289.30 310.70,298.52 311.02,296.56 311.34,304.25 311.65,302.29 311.97,299.59 312.29,298.61 312.61,301.92 312.93,292.07 313.24,289.16 313.56,295.36 313.88,301.67 314.20,301.00 314.52,293.85 314.83,304.61 315.15,296.33 315.47,297.26 315.79,299.09 316.11,293.10 316.42,295.38 316.74,298.32 317.06,291.98 317.38,303.01 317.70,292.46 318.01,299.80 318.33,303.15 318.65,292.95 318.97,279.98 319.29,284.45 319.60,296.64 319.92,308.77 320.24,285.89 320.56,300.96 320.88,303.22 321.19,302.12 321.51,304.40 321.83,298.12 322.15,299.92 322.47,301.42 322.78,311.90 323.10,304.77 323.42,309.99 323.74,301.67 324.06,301.74 324.37,311.54 324.69,307.76 325.01,310.28 325.33,302.95 325.65,300.23 325.96,296.10 326.28,303.20 326.60,300.29 326.92,308.14 327.24,303.44 327.55,304.09 327.87,302.16 328.19,302.55 328.51,297.75 328.83,302.30 329.14,303.61 329.46,296.54 329.78,300.56 330.10,304.50 330.42,308.03 330.73,305.10 331.05,303.98 331.37,300.12 331.69,302.30 332.01,299.05 332.32,302.18 332.64,294.48 332.96,298.97 333.28,297.40 333.60,298.07 333.91,306.62 334.23,298.97 334.55,302.56 334.87,297.59 335.19,309.54 335.50,314.16 335.82,316.91 336.14,317.13 336.46,310.52 336.78,305.88 337.09,308.46 337.41,306.57 337.73,307.43 338.05,300.94 338.37,298.21 338.68,299.04 339.00,297.77 339.32,292.05 339.64,294.73 339.96,306.55 340.27,305.53 340.59,305.56 340.91,300.19 341.23,299.48 341.55,297.33 341.86,308.14 342.18,298.74 342.50,302.09" fill="none" stroke="#52748f" stroke-width="1.0" stroke-opacity="0.9" stroke-linejoin="round"/>
<polyline points="24.50,444.60 24.82,410.34 25.14,413.04 25.45,405.41 25.77,380.52 26.09,405.33 26.41,383.54 26.73,373.59 27.04,387.04 27.36,392.92 27.68,380.87 28.00,370.32 28.32,357.70 28.63,367.82 28.95,362.89 29.27,383.17 29.59,392.66 29.91,403.90 30.22,400.68 30.54,391.48 30.86,383.24 31.18,397.03 31.50,377.94 31.81,382.82 32.13,389.67 32.45,333.40 32.77,363.90 33.09,376.20 33.40,390.49 33.72,394.59 34.04,366.10 34.36,384.42 34.68,370.29 34.99,364.22 35.31,402.21 35.63,372.85 35.95,381.92 36.27,393.37 36.58,390.47 36.90,378.03 37.22,376.84 37.54,375.94 37.86,387.80 38.17,369.56 38.49,362.58 38.81,357.28 39.13,364.70 39.45,357.06 39.76,352.99 40.08,366.58 40.40,368.05 40.72,371.70 41.04,373.01 41.35,370.12 41.67,396.62 41.99,388.70 42.31,378.23 42.63,403.08 42.94,402.35 43.26,370.30 43.58,390.26 43.90,389.05 44.22,379.97 44.53,386.75 44.85,392.59 45.17,323.40 45.49,389.10 45.81,390.44 46.12,382.80 46.44,365.90 46.76,374.98 47.08,363.94 47.40,370.60 47.71,371.32 48.03,374.21 48.35,384.35 48.67,379.36 48.99,379.44 49.30,394.47 49.62,378.67 49.94,376.60 50.26,378.37 50.58,388.69 50.89,413.25 51.21,376.19 51.53,383.24 51.85,407.33 52.17,383.60 52.48,391.99 52.80,379.54 53.12,384.84 53.44,373.20 53.76,379.89 54.07,381.16 54.39,382.93 54.71,372.05 55.03,396.08 55.35,376.08 55.66,376.31 55.98,389.58 56.30,387.15 56.62,391.32 56.94,387.11 57.25,376.84 57.57,391.45 57.89,380.18 58.21,375.36 58.53,377.44 58.84,368.28 59.16,383.33 59.48,379.10 59.80,359.29 60.12,380.28 60.43,387.38 60.75,387.72 61.07,381.75 61.39,393.06 61.71,392.03 62.02,407.80 62.34,404.38 62.66,403.31 62.98,404.56 63.30,397.37 63.61,383.62 63.93,391.60 64.25,403.58 64.57,390.11 64.89,387.56 65.20,403.57 65.52,391.26 65.84,401.14 66.16,399.01 66.48,399.65 66.79,383.42 67.11,396.80 67.43,394.87 67.75,389.15 68.07,378.80 68.38,374.69 68.70,396.95 69.02,379.31 69.34,384.13 69.66,375.80 69.97,375.13 70.29,391.63 70.61,389.65 70.93,392.59 71.25,386.20 71.56,371.01 71.88,384.02 72.20,394.77 72.52,363.64 72.84,393.01 73.15,389.78 73.47,389.06 73.79,402.06 74.11,383.46 74.43,375.88 74.74,385.99 75.06,386.97 75.38,389.47 75.70,406.89 76.02,390.00 76.33,401.40 76.65,401.15 76.97,386.72 77.29,377.47 77.61,393.99 77.92,376.86 78.24,365.89 78.56,379.91 78.88,385.96 79.20,384.45 79.51,390.38 79.83,396.56 80.15,382.23 80.47,377.79 80.79,389.47 81.10,391.31 81.42,393.99 81.74,395.42 82.06,398.53 82.38,404.91 82.69,381.04 83.01,388.22 83.33,385.53 83.65,366.64 83.97,385.84 84.28,379.39 84.60,397.99 84.92,394.96 85.24,380.25 85.56,386.57 85.87,400.39 86.19,404.87 86.51,386.27 86.83,394.88 87.15,380.06 87.46,380.55 87.78,386.84 88.10,385.69 88.42,376.77 88.74,382.01 89.05,393.53 89.37,382.92 89.69,387.39 90.01,387.16 90.33,378.65 90.64,378.99 90.96,371.81 91.28,382.51 91.60,387.93 91.92,388.00 92.23,380.48 92.55,390.83 92.87,388.72 93.19,393.16 93.51,393.48 93.82,387.27 94.14,358.73 94.46,380.55 94.78,379.35 95.10,380.70 95.41,383.80 95.73,382.41 96.05,362.09 96.37,379.94 96.69,365.10 97.00,371.23 97.32,388.41 97.64,390.40 97.96,388.92 98.28,394.98 98.59,373.41 98.91,375.57 99.23,374.89 99.55,390.72 99.87,379.26 100.18,386.70 100.50,357.97 100.82,376.73 101.14,377.54 101.46,376.35 101.77,385.18 102.09,386.50 102.41,386.83 102.73,374.07 103.05,387.11 103.36,384.49 103.68,378.78 104.00,384.92 104.32,396.26 104.64,397.29 104.95,389.53 105.27,393.24 105.59,374.30 105.91,379.29 106.23,380.94 106.54,391.43 106.86,378.27 107.18,384.02 107.50,391.53 107.82,390.18 108.13,358.81 108.45,381.63 108.77,389.98 109.09,371.32 109.41,370.88 109.72,381.24 110.04,366.74 110.36,392.25 110.68,388.50 111.00,399.44 111.31,371.34 111.63,377.87 111.95,353.38 112.27,369.06 112.59,372.80 112.90,390.18 113.22,395.05 113.54,389.18 113.86,373.50 114.18,389.51 114.49,407.25 114.81,378.62 115.13,370.84 115.45,387.66 115.77,377.98 116.08,368.60 116.40,365.75 116.72,393.10 117.04,383.23 117.36,389.34 117.67,373.09 117.99,377.96 118.31,392.52 118.63,382.71 118.95,375.23 119.26,395.38 119.58,398.41 119.90,392.25 120.22,386.87 120.54,388.23 120.85,401.57 121.17,402.17 121.49,386.60 121.81,378.04 122.13,389.26 122.44,381.16 122.76,361.42 123.08,377.97 123.40,384.43 123.72,388.71 124.03,377.59 124.35,377.22 124.67,376.83 124.99,383.12 125.31,376.51 125.62,374.76 125.94,380.01 126.26,367.84 126.58,392.72 126.90,375.47 127.21,379.74 127.53,370.77 127.85,357.51 128.17,373.24 128.49,379.59 128.80,379.36 129.12,364.72 129.44,359.36 129.76,372.16 130.08,370.34 130.39,357.91 130.71,367.75 131.03,391.24 131.35,389.99 131.67,386.18 131.98,376.09 132.30,383.41 132.62,364.96 132.94,379.65 133.26,362.11 133.57,380.76 133.89,364.63 134.21,372.56 134.53,361.72 134.85,353.38 135.16,353.43 135.48,360.75 135.80,381.14 136.12,386.87 136.44,412.90 136.75,371.01 137.07,362.65 137.39,363.06 137.71,385.56 138.03,350.65 138.34,377.61 138.66,368.28 138.98,391.85 139.30,387.23 139.62,366.86 139.93,363.80 140.25,385.07 140.57,379.98 140.89,366.11 141.21,393.58 141.52,373.21 141.84,392.34 142.16,374.36 142.48,379.19 142.80,367.43 143.11,380.21 143.43,381.75 143.75,382.22 144.07,388.71 144.39,383.31 144.70,389.74 145.02,386.64 145.34,372.88 145.66,379.91 145.98,367.00 146.29,367.55 146.61,366.36 146.93,386.64 147.25,375.37 147.57,361.74 147.88,363.87 148.20,360.98 148.52,357.13 148.84,387.90 149.16,373.70 149.47,370.31 149.79,377.21 150.11,390.59 150.43,378.59 150.75,378.75 151.06,356.57 151.38,357.70 151.70,375.98 152.02,387.26 152.34,387.85 152.65,379.58 152.97,384.52 153.29,357.34 153.61,383.74 153.93,378.70 154.24,374.90 154.56,371.05 154.88,384.10 155.20,379.93 155.52,374.54 155.83,371.59 156.15,380.33 156.47,379.54 156.79,373.76 157.11,354.48 157.42,382.27 157.74,369.21 158.06,356.59 158.38,384.55 158.70,361.64 159.01,356.23 159.33,368.85 159.65,362.49 159.97,355.37 160.29,370.59 160.60,370.32 160.92,383.78 161.24,383.07 161.56,374.82 161.88,374.35 162.19,356.30 162.51,370.92 162.83,384.86 163.15,366.30 163.47,361.22 163.78,365.38 164.10,371.94 164.42,380.35 164.74,380.90 165.06,358.25 165.37,360.29 165.69,367.84 166.01,366.36 166.33,373.94 166.65,381.85 166.96,379.04 167.28,373.93 167.60,389.25 167.92,390.99 168.24,394.43 168.55,381.91 168.87,367.67 169.19,384.53 169.51,386.71 169.83,392.14 170.14,381.59 170.46,386.55 170.78,385.88 171.10,386.66 171.42,351.69 171.73,367.43 172.05,377.20 172.37,377.45 172.69,363.59 173.01,358.96 173.32,365.10 173.64,389.95 173.96,365.17 174.28,358.01 174.60,359.18 174.91,362.55 175.23,367.45 175.55,356.83 175.87,369.81 176.19,358.87 176.50,371.98 176.82,374.16 177.14,375.24 177.46,376.61 177.78,376.17 178.09,362.93 178.41,351.13 178.73,371.80 179.05,380.41 179.37,358.50 179.68,369.52 180.00,365.80 180.32,366.10 180.64,358.16 180.96,374.86 181.27,357.73 181.59,356.99 181.91,388.10 182.23,374.46 182.55,373.28 182.86,364.93 183.18,367.41 183.50,375.17 183.82,372.86 184.14,364.98 184.45,366.21 184.77,368.55 185.09,344.27 185.41,355.84 185.73,375.93 186.04,368.00 186.36,363.82 186.68,376.53 187.00,368.11 187.32,375.98 187.63,392.37 187.95,369.59 188.27,360.88 188.59,358.78 188.91,366.22 189.22,372.71 189.54,365.64 189.86,361.84 190.18,355.73 190.50,349.76 190.81,353.78 191.13,369.23 191.45,367.58 191.77,381.24 192.09,362.44 192.40,359.14 192.72,351.89 193.04,357.38 193.36,347.40 193.68,368.54 193.99,363.06 194.31,367.72 194.63,368.56 194.95,384.94 195.27,378.35 195.58,389.70 195.90,375.22 196.22,375.43 196.54,366.94 196.86,385.32 197.17,376.43 197.49,371.53 197.81,391.81 198.13,355.86 198.45,359.02 198.76,372.91 199.08,348.80 199.40,348.41 199.72,388.31 200.04,375.66 200.35,375.96 200.67,369.13 200.99,377.88 201.31,372.92 201.63,368.22 201.94,394.01 202.26,373.15 202.58,354.59 202.90,363.37 203.22,354.89 203.53,348.24 203.85,360.14 204.17,362.06 204.49,362.41 204.81,371.20 205.12,345.19 205.44,357.84 205.76,359.81 206.08,356.21 206.40,349.84 206.71,378.01 207.03,381.60 207.35,370.32 207.67,363.59 207.99,380.10 208.30,385.99 208.62,365.10 208.94,360.45 209.26,369.88 209.58,372.35 209.89,376.79 210.21,383.93 210.53,382.64 210.85,370.83 211.17,371.85 211.48,359.10 211.80,382.05 212.12,392.41 212.44,368.77 212.76,380.60 213.07,376.29 213.39,371.15 213.71,385.52 214.03,396.16 214.35,379.41 214.66,414.96 214.98,384.95 215.30,410.34 215.62,386.56 215.94,389.48 216.25,390.49 216.57,387.51 216.89,391.49 217.21,412.77 217.53,388.89 217.84,392.35 218.16,388.77 218.48,411.27 218.80,399.93 219.12,384.54 219.43,380.45 219.75,389.48 220.07,412.41 220.39,408.24 220.71,416.40 221.02,385.94 221.34,383.55 221.66,386.70 221.98,387.99 222.30,394.40 222.61,370.28 222.93,389.14 223.25,388.36 223.57,363.65 223.89,360.44 224.20,369.81 224.52,389.75 224.84,394.54 225.16,364.20 225.48,363.43 225.79,346.54 226.11,371.18 226.43,371.39 226.75,384.06 227.07,348.56 227.38,389.09 227.70,364.88 228.02,343.89 228.34,376.66 228.66,391.93 228.97,389.24 229.29,394.60 229.61,369.49 229.93,369.64 230.25,381.69 230.56,375.25 230.88,346.85 231.20,365.83 231.52,372.61 231.84,339.36 232.15,373.09 232.47,375.10 232.79,346.67 233.11,360.82 233.43,393.24 233.74,385.78 234.06,404.47 234.38,385.19 234.70,365.34 235.02,389.19 235.33,347.28 235.65,340.33 235.97,344.94 236.29,368.46 236.61,362.45 236.92,352.59 237.24,343.56 237.56,335.98 237.88,384.93 238.20,374.99 238.51,378.69 238.83,366.83 239.15,355.15 239.47,320.51 239.79,347.07 240.10,338.20 240.42,347.34 240.74,351.29 241.06,325.09 241.38,360.77 241.69,342.42 242.01,316.37 242.33,289.07 242.65,340.68 242.97,359.28 243.28,368.32 243.60,357.36 243.92,320.37 244.24,345.88 244.56,328.91 244.87,346.52 245.19,341.68 245.51,370.29 245.83,362.83 246.15,353.59 246.46,384.70 246.78,355.44 247.10,336.92 247.42,344.59 247.74,344.64 248.05,348.20 248.37,367.16 248.69,353.53 249.01,359.47 249.33,351.35 249.64,349.88 249.96,349.02 250.28,370.61 250.60,357.34 250.92,327.13 251.23,331.99 251.55,350.98 251.87,363.44 252.19,341.01 252.51,350.54 252.82,379.78 253.14,367.42 253.46,332.62 253.78,374.55 254.10,358.80 254.41,367.22 254.73,359.07 255.05,362.34 255.37,370.22 255.69,397.74 256.00,369.27 256.32,358.49 256.64,358.36 256.96,372.38 257.28,369.17 257.59,325.83 257.91,365.29 258.23,363.21 258.55,376.59 258.87,364.55 259.18,354.46 259.50,337.44 259.82,348.08 260.14,354.05 260.46,350.15 260.77,346.12 261.09,354.16 261.41,355.96 261.73,337.68 262.05,362.31 262.36,359.00 262.68,370.79 263.00,320.37 263.32,336.85 263.64,362.14 263.95,350.22 264.27,323.20 264.59,340.34 264.91,354.97 265.23,367.94 265.54,397.79 265.86,381.41 266.18,376.92 266.50,347.49 266.82,344.05 267.13,373.14 267.45,351.59 267.77,365.10 268.09,331.39 268.41,328.10 268.72,339.31 269.04,357.99 269.36,330.02 269.68,336.23 270.00,333.39 270.31,341.78 270.63,355.67 270.95,343.25 271.27,364.34 271.59,345.14 271.90,349.46 272.22,378.11 272.54,418.24 272.86,354.96 273.18,360.46 273.49,357.28 273.81,343.51 274.13,368.84 274.45,374.20 274.77,348.46 275.08,350.24 275.40,379.44 275.72,358.99 276.04,381.23 276.36,350.82 276.67,349.49 276.99,346.10 277.31,375.60 277.63,371.89 277.95,346.26 278.26,373.86 278.58,352.01 278.90,357.61 279.22,353.37 279.54,366.78 279.85,348.59 280.17,346.91 280.49,339.43 280.81,312.93 281.13,346.49 281.44,350.34 281.76,367.94 282.08,311.28 282.40,351.94 282.72,340.27 283.03,365.76 283.35,358.64 283.67,343.80 283.99,341.72 284.31,352.27 284.62,337.02 284.94,344.68 285.26,332.24 285.58,348.27 285.90,338.73 286.21,352.92 286.53,330.04 286.85,343.21 287.17,345.45 287.49,355.25 287.80,333.75 288.12,340.98 288.44,290.07 288.76,326.84 289.08,352.55 289.39,332.64 289.71,319.78 290.03,364.76 290.35,336.56 290.67,334.66 290.98,339.27 291.30,337.96 291.62,361.10 291.94,341.24 292.26,340.36 292.57,365.88 292.89,352.88 293.21,364.85 293.53,348.37 293.85,359.03 294.16,346.78 294.48,366.77 294.80,358.51 295.12,354.58 295.44,350.66 295.75,329.50 296.07,308.67 296.39,358.77 296.71,336.01 297.03,346.94 297.34,349.85 297.66,350.84 297.98,348.77 298.30,347.25 298.62,333.08 298.93,322.89 299.25,334.00 299.57,341.34 299.89,335.30 300.21,336.29 300.52,315.48 300.84,351.51 301.16,280.98 301.48,354.34 301.80,342.77 302.11,347.76 302.43,342.52 302.75,382.99 303.07,366.34 303.39,360.74 303.70,369.55 304.02,360.89 304.34,285.52 304.66,343.44 304.98,361.29 305.29,377.53 305.61,351.91 305.93,323.87 306.25,343.89 306.57,350.15 306.88,368.93 307.20,356.69 307.52,334.29 307.84,380.99 308.16,350.78 308.47,384.83 308.79,347.67 309.11,348.45 309.43,363.68 309.75,360.86 310.06,345.02 310.38,373.19 310.70,355.92 311.02,361.40 311.34,371.27 311.65,362.17 311.97,391.66 312.29,387.06 312.61,397.54 312.93,392.82 313.24,389.67 313.56,407.30 313.88,400.32 314.20,397.85 314.52,403.27 314.83,401.11 315.15,392.48 315.47,395.67 315.79,387.35 316.11,403.83 316.42,409.37 316.74,393.81 317.06,321.88 317.38,393.17 317.70,398.11 318.01,394.59 318.33,400.73 318.65,392.67 318.97,388.62 319.29,388.42 319.60,393.31 319.92,407.05 320.24,394.65 320.56,397.48 320.88,389.77 321.19,407.39 321.51,398.27 321.83,402.09 322.15,400.20 322.47,393.47 322.78,392.12 323.10,387.61 323.42,393.08 323.74,393.86 324.06,395.62 324.37,406.15 324.69,393.46 325.01,403.35 325.33,403.71 325.65,397.26 325.96,403.29 326.28,403.35 326.60,341.58 326.92,409.77 327.24,409.56 327.55,406.21 327.87,397.35 328.19,400.75 328.51,400.68 328.83,398.96 329.14,392.28 329.46,390.11 329.78,394.09 330.10,399.63 330.42,393.21 330.73,399.72 331.05,400.55 331.37,397.39 331.69,402.05 332.01,407.37 332.32,409.64 332.64,403.80 332.96,398.77 333.28,394.50 333.60,403.08 333.91,398.33 334.23,398.31 334.55,401.48 334.87,381.88 335.19,399.18 335.50,404.08 335.82,398.57 336.14,359.76 336.46,397.67 336.78,388.50 337.09,402.18 337.41,401.29 337.73,399.60 338.05,399.54 338.37,397.33 338.68,397.73 339.00,398.43 339.32,403.88 339.64,392.21 339.96,390.13 340.27,386.06 340.59,376.45 340.91,343.10 341.23,376.04 341.55,365.78 341.86,373.61 342.18,380.99 342.50,373.97" fill="none" stroke="#963a5c" stroke-width="1.0" stroke-opacity="0.85" stroke-linejoin="round"/>
</g>
<g clip-path="url(#cl2)">
<polyline points="24.50,688.60 24.82,622.96 25.14,619.10 25.45,624.33 25.77,617.20 26.09,615.67 26.41,611.50 26.73,611.29 27.04,605.92 27.36,613.05 27.68,601.95 28.00,599.98 28.32,607.73 28.63,604.69 28.95,604.10 29.27,614.41 29.59,607.15 29.91,609.45 30.22,608.54 30.54,609.59 30.86,608.91 31.18,606.49 31.50,605.35 31.81,613.11 32.13,610.29 32.45,614.42 32.77,615.98 33.09,612.18 33.40,604.58 33.72,602.35 34.04,607.54 34.36,610.47 34.68,612.44 34.99,608.59 35.31,603.00 35.63,605.10 35.95,602.78 36.27,603.67 36.58,598.26 36.90,613.29 37.22,620.75 37.54,614.33 37.86,607.24 38.17,609.16 38.49,605.81 38.81,612.16 39.13,615.37 39.45,614.05 39.76,605.66 40.08,602.54 40.40,608.04 40.72,606.02 41.04,609.14 41.35,607.16 41.67,611.82 41.99,608.56 42.31,610.43 42.63,607.78 42.94,609.52 43.26,611.08 43.58,607.07 43.90,608.03 44.22,606.94 44.53,608.90 44.85,604.91 45.17,610.47 45.49,605.37 45.81,600.55 46.12,606.57 46.44,599.55 46.76,595.25 47.08,601.43 47.40,613.40 47.71,620.32 48.03,616.56 48.35,605.45 48.67,606.67 48.99,606.56 49.30,611.77 49.62,616.82 49.94,613.82 50.26,619.08 50.58,616.63 50.89,611.74 51.21,611.60 51.53,608.83 51.85,612.11 52.17,608.12 52.48,607.00 52.80,616.38 53.12,617.31 53.44,615.86 53.76,608.08 54.07,606.05 54.39,604.94 54.71,604.70 55.03,602.01 55.35,598.98 55.66,604.76 55.98,612.21 56.30,604.08 56.62,605.01 56.94,604.14 57.25,604.86 57.57,609.83 57.89,614.04 58.21,603.67 58.53,598.37 58.84,596.78 59.16,599.65 59.48,600.64 59.80,604.50 60.12,603.82 60.43,605.84 60.75,607.46 61.07,604.47 61.39,595.73 61.71,609.54 62.02,603.44 62.34,600.33 62.66,608.30 62.98,604.23 63.30,603.41 63.61,605.80 63.93,606.99 64.25,611.99 64.57,598.77 64.89,589.61 65.20,589.21 65.52,598.28 65.84,599.47 66.16,599.51 66.48,605.39 66.79,605.24 67.11,601.21 67.43,604.08 67.75,611.96 68.07,613.03 68.38,605.92 68.70,605.61 69.02,605.23 69.34,596.77 69.66,599.19 69.97,604.19 70.29,603.13 70.61,591.56 70.93,602.56 71.25,593.00 71.56,590.34 71.88,597.01 72.20,600.81 72.52,593.75 72.84,596.32 73.15,601.25 73.47,591.73 73.79,595.54 74.11,596.41 74.43,598.18 74.74,600.59 75.06,599.49 75.38,601.38 75.70,598.06 76.02,593.93 76.33,591.99 76.65,590.67 76.97,588.64 77.29,591.44 77.61,599.53 77.92,595.49 78.24,606.68 78.56,607.15 78.88,602.46 79.20,610.20 79.51,598.12 79.83,605.09 80.15,610.68 80.47,609.62 80.79,609.23 81.10,605.46 81.42,604.50 81.74,598.24 82.06,601.64 82.38,601.66 82.69,607.64 83.01,603.14 83.33,607.61 83.65,615.62 83.97,603.30 84.28,609.64 84.60,612.84 84.92,613.41 85.24,606.29 85.56,614.04 85.87,612.14 86.19,606.64 86.51,597.81 86.83,604.86 87.15,606.51 87.46,612.01 87.78,600.56 88.10,606.11 88.42,607.73 88.74,607.23 89.05,612.09 89.37,609.60 89.69,614.49 90.01,602.87 90.33,605.58 90.64,606.69 90.96,600.39 91.28,609.19 91.60,599.99 91.92,595.06 92.23,604.01 92.55,600.62 92.87,602.81 93.19,598.75 93.51,600.91 93.82,606.36 94.14,601.05 94.46,602.67 94.78,601.19 95.10,596.36 95.41,592.78 95.73,593.86 96.05,604.29 96.37,598.29 96.69,600.30 97.00,594.19 97.32,597.50 97.64,590.74 97.96,592.01 98.28,594.90 98.59,594.54 98.91,604.36 99.23,596.97 99.55,595.71 99.87,600.93 100.18,595.61 100.50,593.43 100.82,592.05 101.14,593.29 101.46,589.01 101.77,586.66 102.09,588.76 102.41,590.10 102.73,592.30 103.05,593.62 103.36,587.88 103.68,590.67 104.00,595.87 104.32,589.62 104.64,582.19 104.95,585.32 105.27,580.72 105.59,580.20 105.91,586.99 106.23,583.10 106.54,583.12 106.86,578.85 107.18,593.75 107.50,582.05 107.82,576.79 108.13,582.25 108.45,574.40 108.77,576.48 109.09,575.32 109.41,570.99 109.72,566.23 110.04,569.47 110.36,567.94 110.68,568.03 111.00,573.43 111.31,563.69 111.63,563.16 111.95,565.58 112.27,561.64 112.59,562.07 112.90,567.26 113.22,561.44 113.54,563.04 113.86,561.61 114.18,559.44 114.49,558.65 114.81,553.80 115.13,560.10 115.45,564.88 115.77,569.94 116.08,571.86 116.40,566.45 116.72,542.16 117.04,571.38 117.36,572.98 117.67,572.99 117.99,563.23 118.31,571.31 118.63,568.67 118.95,577.48 119.26,574.65 119.58,565.52 119.90,574.61 120.22,565.64 120.54,576.07 120.85,570.57 121.17,573.26 121.49,568.54 121.81,566.93 122.13,560.41 122.44,559.59 122.76,559.15 123.08,561.90 123.40,557.65 123.72,561.34 124.03,561.64 124.35,561.13 124.67,554.42 124.99,542.43 125.31,547.98 125.62,540.07 125.94,550.48 126.26,552.51 126.58,547.84 126.90,545.01 127.21,542.69 127.53,537.32 127.85,543.42 128.17,539.51 128.49,541.59 128.80,557.46 129.12,555.23 129.44,531.70 129.76,548.39 130.08,545.58 130.39,549.01 130.71,543.43 131.03,552.93 131.35,553.24 131.67,549.42 131.98,558.54 132.30,551.58 132.62,550.67 132.94,556.76 133.26,559.54 133.57,562.10 133.89,563.58 134.21,559.05 134.53,561.49 134.85,572.82 135.16,579.59 135.48,572.90 135.80,586.73 136.12,588.62 136.44,585.59 136.75,582.18 137.07,574.71 137.39,578.03 137.71,563.89 138.03,574.70 138.34,577.26 138.66,578.49 138.98,585.46 139.30,582.91 139.62,583.68 139.93,585.95 140.25,591.41 140.57,593.00 140.89,587.81 141.21,589.73 141.52,588.57 141.84,588.19 142.16,588.78 142.48,590.49 142.80,588.57 143.11,586.65 143.43,583.24 143.75,586.17 144.07,592.90 144.39,596.62 144.70,591.95 145.02,600.68 145.34,599.78 145.66,591.15 145.98,593.83 146.29,596.42 146.61,588.05 146.93,603.27 147.25,597.17 147.57,596.09 147.88,595.54 148.20,588.18 148.52,581.73 148.84,580.42 149.16,582.14 149.47,584.16 149.79,587.66 150.11,587.81 150.43,595.69 150.75,593.58 151.06,586.90 151.38,587.21 151.70,582.46 152.02,591.61 152.34,590.46 152.65,591.76 152.97,581.83 153.29,583.50 153.61,584.05 153.93,588.52 154.24,586.62 154.56,587.91 154.88,585.96 155.20,571.18 155.52,580.60 155.83,580.07 156.15,582.60 156.47,572.52 156.79,578.88 157.11,580.86 157.42,575.31 157.74,566.08 158.06,568.61 158.38,575.57 158.70,589.38 159.01,601.73 159.33,590.66 159.65,586.03 159.97,579.10 160.29,580.37 160.60,585.41 160.92,580.92 161.24,577.56 161.56,588.68 161.88,586.73 162.19,585.40 162.51,595.35 162.83,594.12 163.15,597.38 163.47,593.75 163.78,593.31 164.10,609.94 164.42,608.92 164.74,599.84 165.06,600.03 165.37,607.71 165.69,608.47 166.01,611.73 166.33,606.28 166.65,611.90 166.96,601.93 167.28,599.30 167.60,593.99 167.92,594.58 168.24,595.12 168.55,595.87 168.87,597.89 169.19,611.18 169.51,604.85 169.83,608.62 170.14,618.27 170.46,602.96 170.78,603.91 171.10,612.21 171.42,606.32 171.73,602.96 172.05,602.57 172.37,595.99 172.69,605.74 173.01,600.11 173.32,606.79 173.64,602.55 173.96,599.70 174.28,603.95 174.60,590.91 174.91,606.42 175.23,611.72 175.55,609.00 175.87,609.82 176.19,600.06 176.50,604.12 176.82,596.38 177.14,601.62 177.46,597.33 177.78,595.14 178.09,597.26 178.41,594.95 178.73,595.43 179.05,586.62 179.37,581.05 179.68,591.74 180.00,592.12 180.32,588.71 180.64,589.79 180.96,583.04 181.27,576.39 181.59,596.01 181.91,597.46 182.23,588.49 182.55,588.14 182.86,593.85 183.18,593.79 183.50,591.63 183.82,584.11 184.14,594.10 184.45,593.24 184.77,587.00 185.09,586.75 185.41,592.96 185.73,596.90 186.04,606.59 186.36,611.01 186.68,609.33 187.00,600.47 187.32,597.03 187.63,593.51 187.95,594.28 188.27,595.81 188.59,599.87 188.91,606.93 189.22,600.53 189.54,606.01 189.86,616.04 190.18,609.23 190.50,608.11 190.81,596.12 191.13,604.26 191.45,605.02 191.77,612.97 192.09,607.59 192.40,607.39 192.72,612.81 193.04,610.15 193.36,615.87 193.68,608.95 193.99,610.72 194.31,607.16 194.63,611.58 194.95,612.60 195.27,609.76 195.58,603.24 195.90,603.52 196.22,615.82 196.54,605.93 196.86,605.08 197.17,600.70 197.49,595.88 197.81,595.04 198.13,602.11 198.45,603.18 198.76,599.08 199.08,594.42 199.40,600.89 199.72,602.71 200.04,604.93 200.35,598.64 200.67,601.05 200.99,586.64 201.31,587.19 201.63,585.33 201.94,587.00 202.26,593.38 202.58,605.61 202.90,590.82 203.22,589.52 203.53,599.52 203.85,580.13 204.17,581.43 204.49,577.43 204.81,584.45 205.12,594.86 205.44,594.24 205.76,585.76 206.08,596.97 206.40,594.29 206.71,584.85 207.03,581.13 207.35,584.55 207.67,599.40 207.99,594.76 208.30,585.09 208.62,582.95 208.94,588.45 209.26,587.20 209.58,585.81 209.89,590.15 210.21,593.96 210.53,595.64 210.85,597.24 211.17,594.29 211.48,592.93 211.80,589.35 212.12,587.86 212.44,590.68 212.76,601.91 213.07,593.54 213.39,597.00 213.71,585.46 214.03,590.41 214.35,579.97 214.66,583.25 214.98,579.57 215.30,585.26 215.62,586.24 215.94,591.34 216.25,593.88 216.57,595.02 216.89,589.47 217.21,596.28 217.53,588.68 217.84,591.63 218.16,588.54 218.48,595.16 218.80,590.60 219.12,596.03 219.43,591.92 219.75,586.56 220.07,586.92 220.39,581.91 220.71,576.65 221.02,572.90 221.34,580.73 221.66,574.33 221.98,572.07 222.30,574.21 222.61,575.73 222.93,562.11 223.25,561.36 223.57,560.25 223.89,558.76 224.20,568.66 224.52,569.73 224.84,577.72 225.16,571.61 225.48,579.28 225.79,576.83 226.11,568.45 226.43,565.70 226.75,572.00 227.07,574.42 227.38,564.60 227.70,564.43 228.02,569.06 228.34,568.20 228.66,568.05 228.97,574.08 229.29,574.34 229.61,582.30 229.93,574.40 230.25,571.77 230.56,565.99 230.88,563.58 231.20,569.99 231.52,562.83 231.84,571.31 232.15,566.99 232.47,572.42 232.79,575.51 233.11,580.13 233.43,576.50 233.74,563.52 234.06,568.23 234.38,568.92 234.70,573.41 235.02,571.38 235.33,570.02 235.65,570.28 235.97,566.09 236.29,571.28 236.61,571.56 236.92,566.23 237.24,568.54 237.56,546.34 237.88,570.24 238.20,570.69 238.51,578.21 238.83,581.60 239.15,581.36 239.47,575.34 239.79,575.21 240.10,572.06 240.42,563.44 240.74,563.33 241.06,570.94 241.38,578.06 241.69,570.93 242.01,577.99 242.33,581.37 242.65,579.46 242.97,576.49 243.28,577.67 243.60,575.48 243.92,588.99 244.24,583.42 244.56,578.78 244.87,573.20 245.19,572.33 245.51,574.64 245.83,562.05 246.15,563.73 246.46,566.14 246.78,568.59 247.10,568.82 247.42,575.38 247.74,579.35 248.05,574.92 248.37,581.96 248.69,574.29 249.01,575.71 249.33,570.92 249.64,571.68 249.96,576.71 250.28,578.37 250.60,577.67 250.92,568.85 251.23,564.51 251.55,570.33 251.87,571.34 252.19,576.42 252.51,567.75 252.82,569.64 253.14,574.90 253.46,580.55 253.78,574.31 254.10,564.93 254.41,569.68 254.73,576.85 255.05,580.10 255.37,580.23 255.69,588.87 256.00,577.20 256.32,579.38 256.64,586.75 256.96,595.69 257.28,583.64 257.59,579.01 257.91,571.07 258.23,569.76 258.55,576.28 258.87,585.85 259.18,580.76 259.50,582.49 259.82,580.14 260.14,587.92 260.46,585.39 260.77,584.25 261.09,589.33 261.41,594.30 261.73,599.21 262.05,590.42 262.36,581.23 262.68,583.61 263.00,597.62 263.32,591.76 263.64,597.55 263.95,591.02 264.27,581.05 264.59,583.77 264.91,599.91 265.23,589.52 265.54,588.75 265.86,581.07 266.18,584.81 266.50,585.26 266.82,597.80 267.13,587.47 267.45,596.03 267.77,603.73 268.09,594.70 268.41,589.53 268.72,583.65 269.04,582.45 269.36,585.80 269.68,587.49 270.00,585.62 270.31,587.26 270.63,587.52 270.95,599.98 271.27,596.05 271.59,595.56 271.90,591.00 272.22,595.41 272.54,588.81 272.86,586.40 273.18,594.37 273.49,592.03 273.81,588.19 274.13,594.32 274.45,603.46 274.77,596.62 275.08,590.88 275.40,589.21 275.72,582.95 276.04,583.82 276.36,577.48 276.67,585.23 276.99,577.48 277.31,583.41 277.63,581.94 277.95,592.86 278.26,592.09 278.58,581.78 278.90,582.49 279.22,583.27 279.54,589.66 279.85,582.61 280.17,588.32 280.49,578.69 280.81,578.56 281.13,584.34 281.44,588.21 281.76,588.50 282.08,584.15 282.40,582.83 282.72,591.50 283.03,585.65 283.35,590.07 283.67,577.61 283.99,590.50 284.31,582.27 284.62,589.15 284.94,584.42 285.26,578.32 285.58,579.23 285.90,587.90 286.21,593.68 286.53,581.36 286.85,587.25 287.17,582.06 287.49,577.74 287.80,590.05 288.12,577.61 288.44,582.53 288.76,585.18 289.08,590.35 289.39,586.70 289.71,583.88 290.03,579.85 290.35,578.17 290.67,577.54 290.98,582.99 291.30,585.43 291.62,585.50 291.94,585.16 292.26,579.65 292.57,578.89 292.89,583.94 293.21,589.98 293.53,597.63 293.85,592.65 294.16,589.23 294.48,597.10 294.80,593.12 295.12,588.28 295.44,586.29 295.75,593.49 296.07,593.03 296.39,596.75 296.71,586.95 297.03,585.39 297.34,573.14 297.66,583.54 297.98,577.68 298.30,581.78 298.62,583.00 298.93,578.38 299.25,590.78 299.57,592.33 299.89,579.17 300.21,575.46 300.52,569.13 300.84,572.41 301.16,578.70 301.48,574.54 301.80,578.74 302.11,578.44 302.43,578.21 302.75,581.44 303.07,567.71 303.39,568.11 303.70,570.85 304.02,570.43 304.34,574.67 304.66,575.89 304.98,573.99 305.29,572.12 305.61,583.67 305.93,571.55 306.25,582.84 306.57,582.52 306.88,584.51 307.20,577.95 307.52,584.31 307.84,573.48 308.16,570.09 308.47,567.38 308.79,566.81 309.11,572.16 309.43,571.72 309.75,577.52 310.06,577.51 310.38,573.19 310.70,579.69 311.02,577.56 311.34,577.46 311.65,570.35 311.97,568.79 312.29,572.76 312.61,568.26 312.93,560.43 313.24,560.94 313.56,566.00 313.88,567.96 314.20,574.15 314.52,574.67 314.83,570.68 315.15,568.25 315.47,557.85 315.79,578.42 316.11,579.29 316.42,579.17 316.74,576.42 317.06,572.67 317.38,576.84 317.70,576.69 318.01,583.34 318.33,578.07 318.65,573.72 318.97,576.05 319.29,582.52 319.60,566.15 319.92,575.14 320.24,573.36 320.56,585.85 320.88,584.74 321.19,580.21 321.51,579.62 321.83,578.57 322.15,578.94 322.47,583.46 322.78,586.62 323.10,584.88 323.42,586.78 323.74,587.73 324.06,583.52 324.37,582.90 324.69,586.38 325.01,580.69 325.33,584.18 325.65,586.99 325.96,583.30 326.28,584.88 326.60,595.02 326.92,589.80 327.24,598.06 327.55,595.75 327.87,592.07 328.19,588.97 328.51,595.65 328.83,596.35 329.14,591.37 329.46,583.35 329.78,580.33 330.10,584.48 330.42,582.41 330.73,592.54 331.05,595.67 331.37,592.10 331.69,590.64 332.01,601.67 332.32,593.40 332.64,599.87 332.96,599.23 333.28,604.24 333.60,602.68 333.91,595.11 334.23,603.52 334.55,604.18 334.87,601.44 335.19,597.45 335.50,590.25 335.82,594.98 336.14,592.66 336.46,604.28 336.78,604.36 337.09,613.52 337.41,600.03 337.73,602.47 338.05,597.62 338.37,603.61 338.68,606.46 339.00,607.22 339.32,606.02 339.64,603.40 339.96,609.15 340.27,602.75 340.59,597.42 340.91,606.76 341.23,609.57 341.55,608.79 341.86,607.22 342.18,593.33 342.50,591.91" fill="none" stroke="#52748f" stroke-width="1.0" stroke-opacity="0.9" stroke-linejoin="round"/>
<polyline points="24.50,696.20 24.82,636.22 25.14,644.58 25.45,637.05 25.77,653.66 26.09,674.52 26.41,629.98 26.73,635.90 27.04,673.44 27.36,668.54 27.68,661.08 28.00,645.59 28.32,627.73 28.63,637.73 28.95,650.73 29.27,641.21 29.59,648.61 29.91,644.72 30.22,655.79 30.54,666.23 30.86,597.56 31.18,648.08 31.50,645.50 31.81,655.06 32.13,656.65 32.45,654.34 32.77,639.41 33.09,627.73 33.40,634.39 33.72,651.62 34.04,608.40 34.36,625.35 34.68,628.12 34.99,649.95 35.31,651.10 35.63,639.30 35.95,669.66 36.27,663.56 36.58,645.38 36.90,612.16 37.22,632.19 37.54,657.92 37.86,666.91 38.17,638.00 38.49,656.17 38.81,654.09 39.13,620.83 39.45,639.51 39.76,650.10 40.08,658.79 40.40,631.09 40.72,624.23 41.04,650.79 41.35,667.93 41.67,653.86 41.99,629.10 42.31,635.97 42.63,661.38 42.94,645.75 43.26,635.70 43.58,644.52 43.90,643.94 44.22,646.12 44.53,653.84 44.85,658.03 45.17,669.09 45.49,669.41 45.81,677.16 46.12,648.26 46.44,640.45 46.76,644.56 47.08,640.28 47.40,644.63 47.71,657.36 48.03,647.11 48.35,614.00 48.67,651.44 48.99,678.07 49.30,662.72 49.62,645.38 49.94,682.50 50.26,660.81 50.58,674.06 50.89,663.87 51.21,631.68 51.53,652.54 51.85,633.98 52.17,651.05 52.48,633.53 52.80,651.71 53.12,643.19 53.44,637.28 53.76,636.23 54.07,658.00 54.39,654.89 54.71,661.54 55.03,652.72 55.35,653.20 55.66,652.27 55.98,639.75 56.30,660.11 56.62,661.74 56.94,659.14 57.25,653.67 57.57,660.29 57.89,643.35 58.21,661.77 58.53,625.90 58.84,641.31 59.16,629.19 59.48,658.20 59.80,654.58 60.12,647.34 60.43,622.28 60.75,639.52 61.07,592.08 61.39,651.55 61.71,626.98 62.02,651.83 62.34,673.68 62.66,681.98 62.98,653.22 63.30,652.06 63.61,645.25 63.93,648.12 64.25,640.92 64.57,622.99 64.89,644.51 65.20,643.09 65.52,652.23 65.84,673.54 66.16,658.30 66.48,629.23 66.79,654.87 67.11,617.00 67.43,582.22 67.75,637.47 68.07,631.94 68.38,643.66 68.70,646.19 69.02,628.52 69.34,653.27 69.66,651.30 69.97,665.60 70.29,650.81 70.61,605.43 70.93,620.51 71.25,654.48 71.56,674.81 71.88,646.90 72.20,586.60 72.52,654.33 72.84,630.83 73.15,637.95 73.47,635.54 73.79,634.24 74.11,629.11 74.43,649.77 74.74,658.59 75.06,631.56 75.38,646.23 75.70,665.19 76.02,647.47 76.33,654.87 76.65,645.54 76.97,602.84 77.29,611.74 77.61,645.67 77.92,665.27 78.24,652.90 78.56,663.30 78.88,649.01 79.20,644.68 79.51,638.44 79.83,646.25 80.15,667.84 80.47,655.68 80.79,649.72 81.10,645.99 81.42,631.26 81.74,659.39 82.06,654.02 82.38,659.00 82.69,663.79 83.01,644.19 83.33,657.19 83.65,624.30 83.97,679.09 84.28,636.13 84.60,650.10 84.92,667.79 85.24,652.36 85.56,649.26 85.87,636.48 86.19,629.43 86.51,656.34 86.83,652.22 87.15,646.46 87.46,647.12 87.78,654.93 88.10,632.87 88.42,642.17 88.74,667.44 89.05,650.89 89.37,654.14 89.69,655.39 90.01,639.57 90.33,638.20 90.64,642.83 90.96,641.96 91.28,635.22 91.60,654.54 91.92,649.16 92.23,631.19 92.55,652.96 92.87,656.46 93.19,659.47 93.51,636.47 93.82,652.31 94.14,634.16 94.46,650.64 94.78,645.97 95.10,643.08 95.41,654.19 95.73,663.59 96.05,638.00 96.37,650.77 96.69,640.94 97.00,636.35 97.32,664.91 97.64,633.97 97.96,641.75 98.28,649.75 98.59,652.62 98.91,654.76 99.23,644.76 99.55,616.10 99.87,639.80 100.18,659.91 100.50,652.66 100.82,617.37 101.14,636.91 101.46,615.17 101.77,648.02 102.09,656.31 102.41,663.58 102.73,662.48 103.05,649.61 103.36,643.71 103.68,668.86 104.00,664.85 104.32,660.60 104.64,653.87 104.95,627.44 105.27,618.77 105.59,632.08 105.91,630.80 106.23,653.21 106.54,642.49 106.86,669.58 107.18,652.52 107.50,643.32 107.82,633.36 108.13,644.69 108.45,647.51 108.77,660.93 109.09,682.17 109.41,664.76 109.72,678.63 110.04,660.57 110.36,654.92 110.68,668.96 111.00,678.64 111.31,657.76 111.63,658.37 111.95,643.98 112.27,633.97 112.59,621.00 112.90,626.84 113.22,655.06 113.54,650.00 113.86,617.88 114.18,652.00 114.49,653.24 114.81,629.60 115.13,633.97 115.45,652.27 115.77,643.12 116.08,654.22 116.40,635.70 116.72,645.44 117.04,645.45 117.36,643.25 117.67,673.70 117.99,655.33 118.31,642.65 118.63,644.14 118.95,653.00 119.26,648.70 119.58,625.63 119.90,631.03 120.22,650.97 120.54,631.68 120.85,637.90 121.17,650.67 121.49,672.21 121.81,644.10 122.13,661.18 122.44,644.64 122.76,629.69 123.08,631.84 123.40,659.37 123.72,662.22 124.03,640.40 124.35,628.89 124.67,641.35 124.99,646.73 125.31,619.94 125.62,615.48 125.94,634.26 126.26,647.77 126.58,636.64 126.90,660.67 127.21,646.18 127.53,642.03 127.85,627.04 128.17,632.87 128.49,668.01 128.80,624.57 129.12,631.86 129.44,670.52 129.76,673.78 130.08,642.75 130.39,663.59 130.71,638.57 131.03,659.02 131.35,671.82 131.67,629.73 131.98,617.17 132.30,642.81 132.62,621.92 132.94,634.74 133.26,635.77 133.57,645.85 133.89,636.05 134.21,621.97 134.53,618.11 134.85,608.35 135.16,609.35 135.48,626.13 135.80,646.75 136.12,632.32 136.44,631.50 136.75,646.40 137.07,660.60 137.39,659.36 137.71,669.45 138.03,662.65 138.34,645.53 138.66,626.01 138.98,637.36 139.30,649.49 139.62,651.47 139.93,647.75 140.25,626.90 140.57,637.63 140.89,667.59 141.21,649.75 141.52,670.19 141.84,660.82 142.16,647.09 142.48,657.71 142.80,649.77 143.11,629.05 143.43,652.55 143.75,631.70 144.07,629.03 144.39,631.16 144.70,653.76 145.02,631.58 145.34,636.03 145.66,632.18 145.98,641.06 146.29,625.74 146.61,659.02 146.93,642.51 147.25,632.86 147.57,602.48 147.88,656.24 148.20,664.44 148.52,652.85 148.84,643.03 149.16,655.88 149.47,637.59 149.79,646.64 150.11,644.30 150.43,664.41 150.75,644.64 151.06,644.09 151.38,624.42 151.70,629.40 152.02,620.88 152.34,635.17 152.65,654.15 152.97,638.47 153.29,666.03 153.61,671.33 153.93,662.05 154.24,639.30 154.56,630.36 154.88,667.81 155.20,657.51 155.52,633.48 155.83,650.41 156.15,671.99 156.47,653.55 156.79,630.49 157.11,652.58 157.42,657.54 157.74,621.63 158.06,631.57 158.38,659.91 158.70,639.09 159.01,628.29 159.33,647.34 159.65,644.76 159.97,634.73 160.29,639.76 160.60,623.53 160.92,622.27 161.24,627.52 161.56,619.96 161.88,644.38 162.19,657.53 162.51,668.76 162.83,660.41 163.15,666.08 163.47,655.03 163.78,634.97 164.10,622.27 164.42,630.42 164.74,633.67 165.06,638.63 165.37,636.60 165.69,650.69 166.01,656.10 166.33,665.66 166.65,655.47 166.96,643.82 167.28,647.85 167.60,644.16 167.92,618.95 168.24,633.13 168.55,634.59 168.87,642.86 169.19,637.46 169.51,658.34 169.83,641.17 170.14,635.03 170.46,630.44 170.78,663.26 171.10,653.74 171.42,629.54 171.73,631.72 172.05,662.43 172.37,662.55 172.69,666.71 173.01,646.23 173.32,634.48 173.64,647.52 173.96,670.85 174.28,650.95 174.60,676.34 174.91,640.58 175.23,659.12 175.55,664.64 175.87,667.79 176.19,653.23 176.50,648.00 176.82,641.92 177.14,648.01 177.46,649.11 177.78,633.16 178.09,624.24 178.41,637.14 178.73,635.81 179.05,631.80 179.37,644.65 179.68,653.38 180.00,665.98 180.32,656.78 180.64,624.90 180.96,649.23 181.27,663.18 181.59,651.74 181.91,642.33 182.23,638.01 182.55,654.90 182.86,640.34 183.18,649.25 183.50,650.44 183.82,648.24 184.14,657.42 184.45,654.87 184.77,636.67 185.09,656.88 185.41,652.12 185.73,638.91 186.04,639.41 186.36,639.37 186.68,659.14 187.00,665.77 187.32,652.91 187.63,654.88 187.95,671.92 188.27,652.42 188.59,641.08 188.91,623.79 189.22,641.17 189.54,646.72 189.86,543.86 190.18,644.56 190.50,649.04 190.81,617.83 191.13,648.09 191.45,627.63 191.77,643.15 192.09,660.47 192.40,642.89 192.72,639.65 193.04,621.95 193.36,628.35 193.68,639.59 193.99,649.13 194.31,655.04 194.63,648.45 194.95,642.44 195.27,655.24 195.58,657.98 195.90,643.27 196.22,657.07 196.54,649.69 196.86,650.23 197.17,656.65 197.49,629.47 197.81,627.63 198.13,640.59 198.45,661.50 198.76,645.92 199.08,647.63 199.40,647.13 199.72,645.49 200.04,652.80 200.35,615.40 200.67,629.03 200.99,643.50 201.31,640.21 201.63,649.65 201.94,656.69 202.26,659.88 202.58,643.12 202.90,628.03 203.22,620.50 203.53,634.28 203.85,636.98 204.17,665.47 204.49,675.98 204.81,657.50 205.12,634.91 205.44,623.51 205.76,597.56 206.08,660.37 206.40,652.02 206.71,647.28 207.03,658.39 207.35,651.31 207.67,634.06 207.99,650.13 208.30,647.33 208.62,619.49 208.94,631.68 209.26,634.35 209.58,648.55 209.89,633.18 210.21,662.27 210.53,630.22 210.85,640.83 211.17,655.40 211.48,656.34 211.80,650.07 212.12,678.40 212.44,658.50 212.76,649.90 213.07,667.06 213.39,648.50 213.71,633.11 214.03,666.03 214.35,663.41 214.66,643.93 214.98,617.69 215.30,646.05 215.62,643.50 215.94,654.67 216.25,646.27 216.57,638.31 216.89,651.43 217.21,637.59 217.53,597.83 217.84,610.71 218.16,637.37 218.48,640.31 218.80,663.89 219.12,654.10 219.43,655.75 219.75,662.34 220.07,679.32 220.39,635.01 220.71,638.65 221.02,662.83 221.34,642.08 221.66,637.04 221.98,664.20 222.30,635.31 222.61,677.70 222.93,644.64 223.25,662.93 223.57,647.83 223.89,675.59 224.20,654.27 224.52,635.65 224.84,629.13 225.16,643.36 225.48,645.97 225.79,660.34 226.11,659.67 226.43,653.09 226.75,669.88 227.07,651.37 227.38,655.91 227.70,646.92 228.02,639.32 228.34,651.49 228.66,665.82 228.97,649.20 229.29,659.59 229.61,654.17 229.93,651.12 230.25,667.62 230.56,646.23 230.88,666.51 231.20,655.95 231.52,640.64 231.84,639.94 232.15,642.67 232.47,622.81 232.79,642.17 233.11,642.61 233.43,631.51 233.74,666.30 234.06,656.88 234.38,637.38 234.70,637.33 235.02,652.83 235.33,641.06 235.65,637.13 235.97,643.80 236.29,630.12 236.61,659.30 236.92,641.28 237.24,647.97 237.56,651.11 237.88,674.92 238.20,622.95 238.51,678.04 238.83,654.84 239.15,653.49 239.47,624.86 239.79,651.44 240.10,652.97 240.42,647.82 240.74,611.26 241.06,631.07 241.38,635.64 241.69,676.19 242.01,664.95 242.33,643.34 242.65,638.33 242.97,630.75 243.28,652.86 243.60,652.35 243.92,647.35 244.24,635.61 244.56,627.83 244.87,642.70 245.19,627.88 245.51,639.94 245.83,636.94 246.15,664.73 246.46,666.97 246.78,634.47 247.10,589.34 247.42,627.06 247.74,626.45 248.05,661.50 248.37,653.87 248.69,647.47 249.01,654.08 249.33,681.02 249.64,653.47 249.96,653.21 250.28,670.90 250.60,660.52 250.92,659.83 251.23,623.57 251.55,638.07 251.87,659.44 252.19,653.97 252.51,678.05 252.82,648.06 253.14,650.62 253.46,632.74 253.78,645.78 254.10,628.03 254.41,622.76 254.73,658.60 255.05,655.11 255.37,648.47 255.69,649.39 256.00,660.06 256.32,653.38 256.64,651.03 256.96,636.88 257.28,647.94 257.59,644.95 257.91,628.95 258.23,634.72 258.55,650.77 258.87,663.10 259.18,649.27 259.50,661.41 259.82,643.21 260.14,651.31 260.46,671.98 260.77,644.62 261.09,659.83 261.41,643.62 261.73,644.75 262.05,641.12 262.36,672.09 262.68,662.23 263.00,654.29 263.32,613.76 263.64,626.23 263.95,635.61 264.27,624.62 264.59,641.54 264.91,645.57 265.23,656.42 265.54,644.97 265.86,678.00 266.18,679.78 266.50,640.16 266.82,630.99 267.13,639.71 267.45,650.17 267.77,592.08 268.09,627.63 268.41,657.34 268.72,645.11 269.04,634.26 269.36,648.86 269.68,673.47 270.00,657.30 270.31,642.75 270.63,635.98 270.95,592.08 271.27,643.11 271.59,646.19 271.90,637.98 272.22,661.33 272.54,660.43 272.86,642.01 273.18,631.09 273.49,641.44 273.81,635.69 274.13,639.06 274.45,654.80 274.77,625.72 275.08,652.53 275.40,661.79 275.72,648.36 276.04,635.46 276.36,639.01 276.67,655.50 276.99,667.61 277.31,645.45 277.63,643.65 277.95,658.92 278.26,657.98 278.58,631.63 278.90,630.66 279.22,677.24 279.54,663.90 279.85,633.25 280.17,651.21 280.49,677.59 280.81,670.93 281.13,637.89 281.44,658.07 281.76,640.04 282.08,662.03 282.40,638.02 282.72,649.46 283.03,643.99 283.35,645.78 283.67,653.68 283.99,687.40 284.31,644.19 284.62,633.62 284.94,634.97 285.26,630.07 285.58,652.34 285.90,640.72 286.21,668.08 286.53,675.44 286.85,597.56 287.17,678.06 287.49,645.39 287.80,649.70 288.12,647.08 288.44,658.53 288.76,645.89 289.08,636.67 289.39,662.87 289.71,662.91 290.03,643.85 290.35,664.90 290.67,643.48 290.98,660.42 291.30,656.64 291.62,641.44 291.94,636.72 292.26,660.49 292.57,626.26 292.89,647.35 293.21,656.84 293.53,638.51 293.85,642.48 294.16,618.11 294.48,648.15 294.80,671.83 295.12,685.91 295.44,664.77 295.75,649.13 296.07,638.83 296.39,634.62 296.71,626.12 297.03,644.12 297.34,655.02 297.66,604.65 297.98,598.94 298.30,638.80 298.62,639.62 298.93,646.79 299.25,617.16 299.57,618.90 299.89,667.51 300.21,648.61 300.52,653.50 300.84,641.95 301.16,597.56 301.48,643.69 301.80,655.75 302.11,632.41 302.43,647.59 302.75,629.25 303.07,658.74 303.39,639.88 303.70,633.96 304.02,637.76 304.34,645.99 304.66,659.74 304.98,655.37 305.29,662.37 305.61,636.07 305.93,636.82 306.25,633.06 306.57,628.45 306.88,655.86 307.20,655.54 307.52,654.63 307.84,658.52 308.16,661.40 308.47,665.71 308.79,656.29 309.11,617.54 309.43,632.02 309.75,636.10 310.06,638.28 310.38,660.76 310.70,644.97 311.02,648.99 311.34,645.59 311.65,654.68 311.97,621.79 312.29,662.93 312.61,656.02 312.93,659.60 313.24,656.71 313.56,629.93 313.88,620.41 314.20,633.55 314.52,659.62 314.83,637.32 315.15,646.00 315.47,675.20 315.79,646.85 316.11,651.42 316.42,649.58 316.74,637.21 317.06,624.63 317.38,659.25 317.70,646.83 318.01,641.92 318.33,642.48 318.65,646.81 318.97,626.16 319.29,652.71 319.60,651.02 319.92,620.91 320.24,582.76 320.56,631.27 320.88,614.32 321.19,647.10 321.51,668.43 321.83,691.41 322.15,658.77 322.47,649.15 322.78,654.39 323.10,638.28 323.42,623.03 323.74,633.46 324.06,649.93 324.37,669.39 324.69,652.52 325.01,644.07 325.33,627.85 325.65,658.42 325.96,664.22 326.28,684.60 326.60,665.63 326.92,638.21 327.24,627.46 327.55,643.33 327.87,662.16 328.19,645.20 328.51,660.51 328.83,661.45 329.14,614.17 329.46,652.16 329.78,648.19 330.10,650.37 330.42,637.41 330.73,657.84 331.05,656.03 331.37,633.46 331.69,654.87 332.01,661.50 332.32,663.52 332.64,675.41 332.96,684.83 333.28,651.17 333.60,667.39 333.91,664.55 334.23,639.01 334.55,641.13 334.87,663.67 335.19,642.54 335.50,647.02 335.82,658.30 336.14,622.53 336.46,648.74 336.78,652.95 337.09,644.91 337.41,644.26 337.73,644.47 338.05,651.57 338.37,652.90 338.68,643.38 339.00,653.15 339.32,651.53 339.64,637.18 339.96,634.13 340.27,647.70 340.59,656.38 340.91,627.50 341.23,664.82 341.55,647.73 341.86,643.36 342.18,668.29 342.50,671.65" fill="none" stroke="#963a5c" stroke-width="1.0" stroke-opacity="0.85" stroke-linejoin="round"/>
</g>
<g clip-path="url(#cr0)">
<polyline points="414.00,37.31 414.30,77.80 414.61,117.31 414.91,137.67 415.22,146.90 415.52,153.07 415.82,153.64 416.13,157.73 416.43,161.30 416.74,163.54 417.04,168.49 417.34,164.28 417.65,167.92 417.95,164.61 418.25,165.29 418.56,168.06 418.86,165.69 419.17,161.12 419.47,163.15 419.77,163.21 420.08,160.26 420.38,157.61 420.69,157.79 420.99,159.61 421.29,163.57 421.60,161.66 421.90,159.73 422.21,156.25 422.51,154.03 422.81,155.93 423.12,160.54 423.42,160.67 423.72,162.04 424.03,161.54 424.33,165.41 424.64,161.22 424.94,162.61 425.24,161.91 425.55,162.21 425.85,163.91 426.16,167.99 426.46,159.69 426.76,159.96 427.07,158.39 427.37,160.93 427.68,161.40 427.98,159.32 428.28,151.98 428.59,142.01 428.89,135.44 429.07,130.52 429.19,132.26 429.50,142.49 429.80,150.14 430.11,149.94 430.41,148.42 430.71,154.78 431.02,156.74 431.32,161.99 431.63,165.23 431.93,167.91 432.23,167.63 432.54,167.60 432.84,171.24 433.15,168.92 433.45,168.43 433.75,165.93 434.06,164.09 434.36,162.07 434.67,160.66 434.97,159.89 435.27,159.27 435.58,164.22 435.88,159.10 436.18,161.30 436.49,160.25 436.79,161.45 437.10,159.96 437.40,152.42 437.70,151.52 438.01,144.05 438.31,141.26 438.62,146.99 438.92,151.16 439.22,159.73 439.53,169.06 439.83,170.04 440.14,163.78 440.44,160.49 440.74,162.72 441.05,152.01 441.35,141.45 441.65,97.38 441.96,60.88 442.11,39.59 442.26,69.05 442.57,132.92 442.87,146.81 443.17,157.73 443.48,161.43 443.78,160.97 444.09,159.24 444.39,158.02 444.69,159.10 445.00,155.35 445.30,160.30 445.61,158.48 445.91,161.01 446.21,159.77 446.52,161.49 446.82,161.77 447.13,157.84 447.43,160.94 447.73,156.94 448.04,160.91 448.34,158.96 448.64,154.70 448.95,159.57 449.25,156.67 449.56,148.53 449.86,142.56 450.16,137.24 450.47,133.68 450.77,124.86 451.08,110.03 451.38,99.92 451.68,121.86 451.99,138.84 452.29,147.55 452.60,162.33 452.90,167.13 453.20,168.22 453.51,170.57 453.81,169.67 454.11,169.03 454.42,172.70 454.72,172.56 455.03,168.46 455.33,167.86 455.63,165.65 455.94,169.59 456.24,170.16 456.55,168.11 456.85,173.10 457.15,171.30 457.46,172.47 457.76,174.20 458.07,169.49 458.37,171.42 458.67,171.57 458.98,170.21 459.28,167.51 459.58,168.82 459.89,165.58 460.19,164.17 460.50,163.49 460.80,155.79 461.10,157.62 461.41,160.71 461.71,168.69 462.02,165.77 462.32,166.24 462.62,169.47 462.93,165.02 463.23,166.53 463.54,164.49 463.84,161.11 464.14,157.96 464.45,155.53 464.75,144.05 465.06,139.74 465.36,143.66 465.66,148.98 465.97,134.27 466.27,130.20 466.57,118.13 466.88,128.67 467.18,147.01 467.49,149.32 467.79,151.37 468.09,156.10 468.40,144.66 468.70,140.83 469.01,131.23 469.31,127.25 469.61,123.25 469.92,116.67 470.22,82.11 470.53,42.88 470.83,88.33 471.13,128.54 471.44,133.90 471.74,148.62 472.04,152.87 472.35,156.81 472.65,159.40 472.96,162.03 473.26,159.46 473.56,165.41 473.87,162.18 474.17,163.77 474.48,161.74 474.78,157.50 475.08,152.47 475.39,148.88 475.69,144.62 476.00,135.55 476.30,131.65 476.60,124.99 476.91,118.28 477.21,103.82 477.52,88.66 477.82,59.55 478.12,28.24 478.31,7.96 478.43,29.10 478.73,83.08 479.03,98.83 479.34,117.62 479.64,123.03 479.95,130.85 480.25,141.31 480.55,149.65 480.86,152.30 481.16,161.31 481.47,161.66 481.77,166.73 482.07,162.45 482.38,157.87 482.68,150.74 482.99,148.99 483.29,144.11 483.59,144.23 483.90,138.12 484.20,137.14 484.50,130.89 484.81,126.39 485.11,123.67 485.42,118.18 485.72,113.04 486.02,107.74 486.33,104.13 486.63,97.59 486.94,96.30 487.24,105.87 487.54,109.10 487.85,115.62 488.15,119.85 488.46,126.16 488.76,130.91 489.06,134.87 489.37,138.77 489.67,143.10 489.98,147.03 490.28,149.28 490.58,149.95 490.89,155.75 491.19,154.48 491.49,158.40 491.80,159.76 492.10,163.99 492.41,164.40 492.71,166.88 493.01,166.15 493.32,171.55 493.62,173.88 493.93,167.95 494.23,165.76 494.53,154.14 494.84,139.40 495.14,130.71 495.45,121.17 495.75,102.72 496.05,88.26 496.36,71.70 496.66,93.88 496.96,118.57 497.27,128.50 497.57,145.21 497.88,152.41 498.18,160.20 498.48,163.67 498.79,169.49 499.09,168.17 499.40,167.24 499.70,171.99 500.00,171.50 500.31,169.88 500.61,165.45 500.92,160.91 501.22,157.85 501.52,152.24 501.83,153.44 502.13,147.90 502.43,147.55 502.74,146.83 503.04,144.40 503.35,141.32 503.65,140.10 503.95,140.83 504.26,139.43 504.56,132.78 504.87,136.49 505.17,133.70 505.47,122.64 505.78,117.14 506.08,97.07 506.39,81.95 506.69,60.71 506.99,79.98 507.30,101.69 507.60,120.32 507.91,133.65 508.21,138.41 508.51,143.62 508.82,155.40 509.12,159.64 509.42,160.58 509.73,167.60 510.03,164.36 510.34,156.28 510.64,156.68 510.94,148.05 511.25,138.26 511.55,134.21 511.86,120.76 512.16,113.28 512.46,98.75 512.77,112.83 513.07,124.35 513.38,137.95 513.68,148.45 513.98,152.56 514.29,155.10 514.59,155.22 514.89,151.12 515.20,144.38 515.50,142.13 515.81,137.91 516.11,135.79 516.41,138.35 516.72,146.94 517.02,151.93 517.33,155.38 517.63,152.68 517.93,156.36 518.24,159.78 518.54,157.66 518.85,155.13 519.15,152.73 519.45,156.60 519.76,151.87 520.06,153.10 520.37,156.49 520.67,156.48 520.97,153.24 521.28,152.95 521.58,150.53 521.88,149.70 522.19,148.10 522.49,137.64 522.80,134.76 523.10,127.80 523.40,120.42 523.71,97.95 524.01,77.66 524.32,60.11 524.62,78.23 524.92,97.64 525.23,102.70 525.53,111.39 525.84,115.93 526.14,120.04 526.44,121.83 526.75,127.11 527.05,120.59 527.35,118.36 527.66,124.84 527.96,133.12 528.27,143.40 528.57,149.59 528.87,141.28 529.18,134.59 529.48,122.84 529.79,128.73 530.09,140.52 530.39,145.20 530.70,151.04 531.00,155.31 531.31,157.24 531.61,159.38 531.91,156.67 532.22,156.14 532.52,157.98 532.82,157.82 533.13,160.06 533.43,162.01 533.74,160.78 534.04,163.30 534.34,164.23 534.65,164.96 534.95,160.15 535.26,163.19 535.56,163.04 535.86,162.43 536.17,161.54 536.47,166.78 536.78,163.49 537.08,164.80 537.38,167.05 537.69,166.33 537.99,164.04 538.30,159.72 538.60,162.99 538.90,159.57 539.21,158.76 539.51,162.17 539.81,158.31 540.12,155.50 540.42,160.39 540.73,159.61 541.03,165.93 541.33,167.35 541.64,166.27 541.94,165.07 542.25,167.65 542.55,164.23 542.85,167.48 543.16,164.68 543.46,160.12 543.77,167.62 544.07,163.47 544.37,166.32 544.68,166.80 544.98,165.77 545.28,167.49 545.59,162.96 545.89,163.28 546.20,161.86 546.50,164.21 546.80,166.67 547.11,164.34 547.41,165.50 547.72,162.40 548.02,154.71 548.32,154.16 548.63,157.93 548.93,158.74 549.24,164.52 549.54,161.50 549.84,162.50 550.15,160.18 550.45,160.54 550.75,159.15 551.06,164.13 551.36,162.13 551.67,164.39 551.97,167.85 552.27,168.53 552.58,166.71 552.88,163.94 553.19,165.75 553.49,163.36 553.79,166.63 554.10,164.44 554.40,166.50 554.71,168.56 555.01,165.68 555.31,168.26 555.62,169.15 555.92,167.69 556.23,166.75 556.53,165.32 556.83,163.96 557.14,165.13 557.44,163.23 557.74,171.15 558.05,168.73 558.35,162.45 558.66,166.22 558.96,166.52 559.26,167.00 559.57,168.76 559.87,169.28 560.18,165.63 560.48,171.47 560.78,170.52 561.09,167.07 561.39,169.35 561.70,169.11 562.00,170.19 562.30,167.67 562.61,170.97 562.91,167.29 563.21,169.01 563.52,169.79 563.82,170.65 564.13,168.24 564.43,169.57 564.73,170.74 565.04,169.72 565.34,171.67 565.65,167.42 565.95,167.12 566.25,167.67 566.56,169.29 566.86,169.01 567.17,172.45 567.47,170.80 567.77,170.52 568.08,170.27 568.38,168.85 568.69,170.69 568.99,171.16 569.29,167.43 569.60,169.82 569.90,170.11 570.20,172.25 570.51,170.80 570.81,168.50 571.12,167.32 571.42,170.67 571.72,167.25 572.03,166.34 572.33,165.76 572.64,162.71 572.94,158.25 573.24,160.01 573.55,159.62 573.85,153.69 574.16,150.97 574.46,145.89 574.76,140.97 575.07,144.45 575.37,149.29 575.67,151.21 575.98,155.99 576.28,157.76 576.59,161.90 576.89,161.84 577.19,163.03 577.50,161.93 577.80,162.36 578.11,161.28 578.41,160.04 578.71,157.54 579.02,161.14 579.32,160.69 579.63,165.08 579.93,164.51 580.23,162.11 580.54,164.12 580.84,168.31 581.14,165.53 581.45,166.28 581.75,168.31 582.06,169.69 582.36,168.63 582.66,168.47 582.97,164.95 583.27,164.82 583.58,164.34 583.88,162.09 584.18,166.38 584.49,161.54 584.79,158.98 585.10,158.56 585.40,156.27 585.70,154.37 586.01,150.45 586.31,146.43 586.62,139.74 586.92,136.80 587.22,132.70 587.53,129.19 587.83,126.61 588.13,121.08 588.44,116.60 588.74,113.98 589.05,119.94 589.35,123.96 589.65,123.99 589.96,128.81 590.26,132.56 590.57,136.55 590.87,135.68 591.17,137.68 591.48,140.88 591.78,140.88 592.09,144.99 592.39,144.99 592.69,149.85 593.00,148.29 593.30,144.42 593.60,148.50 593.91,147.68 594.21,150.05 594.52,151.02 594.82,151.41 595.12,152.87 595.43,152.71 595.73,157.13 596.04,157.59 596.34,153.74 596.64,159.72 596.95,162.55 597.25,160.93 597.56,163.15 597.86,165.36 598.16,167.85 598.47,167.15 598.77,168.63 599.08,168.74 599.38,169.13 599.68,167.83 599.99,168.52 600.29,164.47 600.59,162.71 600.90,164.07 601.20,158.93 601.51,158.68 601.81,156.89 602.11,158.52 602.42,156.08 602.72,154.86 603.03,155.55 603.33,154.52 603.63,158.02 603.94,158.87 604.24,160.36 604.55,160.08 604.85,158.67 605.15,162.45 605.46,161.92 605.76,161.81 606.06,158.45 606.37,157.46 606.67,158.18 606.98,159.17 607.28,158.64 607.58,162.48 607.89,161.51 608.19,162.40 608.50,168.54 608.80,164.37 609.10,165.29 609.41,165.44 609.71,167.79 610.02,167.83 610.32,167.06 610.62,164.45 610.93,164.57 611.23,162.00 611.53,166.21 611.84,161.17 612.14,159.04 612.45,161.53 612.75,157.18 613.05,157.62 613.36,157.21 613.66,157.12 613.97,157.06 614.27,159.20 614.57,162.27 614.88,162.36 615.18,164.85 615.49,163.04 615.79,170.03 616.09,170.05 616.40,170.02 616.70,170.62 617.01,170.79 617.31,164.86 617.61,169.11 617.92,166.53 618.22,169.58 618.52,167.16 618.83,163.22 619.13,161.85 619.44,165.51 619.74,157.34 620.04,159.03 620.35,159.84 620.65,159.44 620.96,163.34 621.26,166.70 621.56,164.78 621.87,164.71 622.17,165.36 622.48,171.51 622.78,170.49 623.08,169.39 623.39,167.38 623.69,167.21 623.99,170.66 624.30,169.95 624.60,164.45 624.91,164.18 625.21,160.30 625.51,161.10 625.82,163.87 626.12,168.83 626.43,169.62 626.73,170.49 627.03,166.69 627.34,166.34 627.64,169.63 627.95,167.98 628.25,168.00 628.55,165.79 628.86,164.17 629.16,161.24 629.47,154.38 629.77,151.08 630.07,148.81 630.38,142.83 630.68,137.22 630.98,126.42 631.29,120.19 631.59,99.82 631.90,76.61 632.20,60.62 632.50,89.21 632.81,120.66 633.11,134.07 633.42,144.99 633.72,147.85 634.02,153.72 634.33,149.87 634.63,152.04 634.94,157.54 635.24,156.09 635.54,154.60 635.85,154.10 636.15,153.36 636.45,145.65 636.76,140.71 637.06,142.67 637.37,149.11 637.67,155.79 637.97,157.64 638.28,158.87 638.58,159.49 638.89,164.18 639.19,162.27 639.49,161.07 639.80,166.89 640.10,162.25 640.41,166.54 640.71,166.29 641.01,167.83 641.32,165.27 641.62,164.15 641.92,163.20 642.23,157.90 642.53,166.55 642.84,161.79 643.14,162.18 643.44,158.18 643.75,157.12 644.05,154.33 644.36,151.94 644.66,151.01 644.96,146.24 645.27,152.63 645.57,152.85 645.88,153.78 646.18,152.29 646.48,158.26 646.79,159.04 647.09,158.00 647.40,161.03 647.70,163.32 648.00,158.07 648.31,159.22 648.61,159.31 648.91,158.34 649.22,156.56 649.52,156.43 649.83,154.17 650.13,153.18 650.43,153.83 650.74,152.72 651.04,144.99 651.35,146.90 651.65,140.82 651.95,141.73 652.26,139.50 652.56,126.77 652.87,112.95 653.17,99.55 653.47,111.39 653.78,129.31 654.08,137.98 654.38,145.83 654.69,149.63 654.99,154.10 655.30,157.19 655.60,156.01 655.90,156.20 656.21,155.66 656.51,151.71 656.82,147.70 657.12,146.47 657.42,142.53 657.73,139.12 658.03,137.90 658.34,130.39 658.64,126.04 658.94,124.10 659.25,122.32 659.55,120.31 659.86,117.51 660.16,107.01 660.46,116.41 660.77,125.52 661.07,134.51 661.37,139.49 661.68,141.90 661.98,147.44 662.29,151.86 662.59,146.47 662.89,152.94 663.20,158.15 663.50,157.12 663.81,159.05 664.11,159.19 664.41,160.58 664.72,164.22 665.02,162.01 665.33,164.90 665.63,163.93 665.93,164.99 666.24,164.42 666.54,166.32 666.84,168.43 667.15,164.15 667.45,170.65 667.76,169.22 668.06,166.26 668.36,164.73 668.67,162.85 668.97,166.27 669.28,163.68 669.58,157.72 669.88,156.28 670.19,153.31 670.49,149.49 670.80,142.60 671.10,146.95 671.40,150.49 671.71,151.45 672.01,153.21 672.32,160.22 672.62,157.90 672.92,158.63 673.23,160.49 673.53,161.94 673.83,164.63 674.14,164.83 674.44,169.93 674.75,162.35 675.05,163.33 675.35,160.04 675.66,162.72 675.96,162.89 676.27,155.04 676.57,160.76 676.87,158.32 677.18,153.97 677.48,152.05 677.79,155.13 678.09,153.38 678.39,152.58 678.70,150.25 679.00,151.95 679.30,151.40 679.61,153.04 679.91,156.99 680.22,155.16 680.52,149.68 680.82,151.81 681.13,150.67 681.43,145.50 681.74,142.81 682.04,147.25 682.34,148.72 682.65,145.32 682.95,140.82 683.26,135.73 683.56,130.21 683.86,122.60 684.17,110.80 684.47,103.98 684.77,102.03" fill="none" stroke="#52748f" stroke-width="1.25" stroke-opacity="1.0" stroke-linejoin="round"/>
<line x1="602.72" y1="192" x2="602.72" y2="159.6" stroke="#2f7d2f" stroke-width="0.9"/>
<line x1="603.03" y1="192" x2="603.03" y2="156.66" stroke="#2f7d2f" stroke-width="0.9"/>
<line x1="603.33" y1="192" x2="603.33" y2="158.13" stroke="#2f7d2f" stroke-width="0.9"/>
<line x1="603.63" y1="192" x2="603.63" y2="162.55" stroke="#2f7d2f" stroke-width="0.9"/>
<line x1="603.94" y1="192" x2="603.94" y2="159.6" stroke="#2f7d2f" stroke-width="0.9"/>
<line x1="604.24" y1="192" x2="604.24" y2="156.66" stroke="#2f7d2f" stroke-width="0.9"/>
<line x1="604.55" y1="192" x2="604.55" y2="144.88" stroke="#2f7d2f" stroke-width="0.9"/>
<line x1="604.7" y1="192" x2="604.7" y2="114.84" stroke="#2f7d2f" stroke-width="0.9"/>
<line x1="604.85" y1="192" x2="604.85" y2="114.84" stroke="#2f7d2f" stroke-width="0.9"/>
<line x1="605.06" y1="192" x2="605.06" y2="114.84" stroke="#2f7d2f" stroke-width="0.9"/>
<line x1="605.24" y1="192" x2="605.24" y2="133.1" stroke="#2f7d2f" stroke-width="0.9"/>
<line x1="605.46" y1="192" x2="605.46" y2="156.66" stroke="#2f7d2f" stroke-width="0.9"/>
<line x1="605.76" y1="192" x2="605.76" y2="162.55" stroke="#2f7d2f" stroke-width="0.9"/>
<line x1="606.06" y1="192" x2="606.06" y2="159.6" stroke="#2f7d2f" stroke-width="0.9"/>
<line x1="606.37" y1="192" x2="606.37" y2="159.6" stroke="#2f7d2f" stroke-width="0.9"/>
<line x1="606.67" y1="192" x2="606.67" y2="162.55" stroke="#2f7d2f" stroke-width="0.9"/>
<line x1="612.14" y1="192" x2="612.14" y2="165.5" stroke="#2f7d2f" stroke-width="0.9"/>
<line x1="612.75" y1="192" x2="612.75" y2="164.91" stroke="#2f7d2f" stroke-width="0.9"/>
<line x1="613.36" y1="192" x2="613.36" y2="164.91" stroke="#2f7d2f" stroke-width="0.9"/>
<line x1="613.97" y1="192" x2="613.97" y2="165.5" stroke="#2f7d2f" stroke-width="0.9"/>
<line x1="614.57" y1="192" x2="614.57" y2="166.08" stroke="#2f7d2f" stroke-width="0.9"/>
<line x1="615.18" y1="192" x2="615.18" y2="165.5" stroke="#2f7d2f" stroke-width="0.9"/>
<line x1="615.79" y1="192" x2="615.79" y2="166.08" stroke="#2f7d2f" stroke-width="0.9"/>
<line x1="616.09" y1="192" x2="616.09" y2="166.97" stroke="#2f7d2f" stroke-width="0.9"/>
<line x1="623.08" y1="192" x2="623.08" y2="171.97" stroke="#2f7d2f" stroke-width="0.9"/>
<line x1="623.69" y1="192" x2="623.69" y2="171.97" stroke="#2f7d2f" stroke-width="0.9"/>
<line x1="624.3" y1="192" x2="624.3" y2="171.97" stroke="#2f7d2f" stroke-width="0.9"/>
<line x1="624.6" y1="192" x2="624.6" y2="172.56" stroke="#2f7d2f" stroke-width="0.9"/>
<line x1="626.73" y1="192" x2="626.73" y2="168.44" stroke="#2f7d2f" stroke-width="0.9"/>
<line x1="627.34" y1="192" x2="627.34" y2="162.55" stroke="#2f7d2f" stroke-width="0.9"/>
<line x1="627.95" y1="192" x2="627.95" y2="161.08" stroke="#2f7d2f" stroke-width="0.9"/>
<line x1="628.55" y1="192" x2="628.55" y2="162.55" stroke="#2f7d2f" stroke-width="0.9"/>
<line x1="629.16" y1="192" x2="629.16" y2="159.6" stroke="#2f7d2f" stroke-width="0.9"/>
<line x1="629.77" y1="192" x2="629.77" y2="158.13" stroke="#2f7d2f" stroke-width="0.9"/>
<line x1="630.38" y1="192" x2="630.38" y2="156.66" stroke="#2f7d2f" stroke-width="0.9"/>
<line x1="630.68" y1="192" x2="630.68" y2="156.66" stroke="#2f7d2f" stroke-width="0.9"/>
<line x1="646.18" y1="192" x2="646.18" y2="154.89" stroke="#2f7d2f" stroke-width="0.9"/>
<line x1="646.79" y1="192" x2="646.79" y2="154.89" stroke="#2f7d2f" stroke-width="0.9"/>
<line x1="647.4" y1="192" x2="647.4" y2="156.66" stroke="#2f7d2f" stroke-width="0.9"/>
<line x1="649.52" y1="192" x2="649.52" y2="150.18" stroke="#2f7d2f" stroke-width="0.9"/>
<line x1="650.13" y1="192" x2="650.13" y2="150.18" stroke="#2f7d2f" stroke-width="0.9"/>
<line x1="650.74" y1="192" x2="650.74" y2="150.18" stroke="#2f7d2f" stroke-width="0.9"/>
<line x1="651.04" y1="192" x2="651.04" y2="150.77" stroke="#2f7d2f" stroke-width="0.9"/>
</g>
<g clip-path="url(#cr1)">
<polyline points="414.00,311.00 415.06,320.35 416.12,355.62 417.17,379.68 418.23,383.25 419.29,411.40 420.35,403.93 421.41,397.68 422.46,392.50 423.52,396.95 424.58,402.41 425.64,399.77 426.70,393.57 427.75,403.06 428.81,388.88 429.87,401.79 430.93,399.01 431.99,395.10 433.04,374.26 434.10,342.07 434.84,321.31 435.16,332.00 435.69,352.20 436.22,368.73 437.28,379.57 438.33,400.72 439.39,414.45 440.45,410.76 441.51,400.40 442.57,394.94 443.62,383.14 444.68,381.27 445.74,373.66 446.80,364.10 447.86,341.40 448.91,367.43 449.97,389.40 451.03,391.77 452.09,393.29 453.15,403.38 454.20,409.44 455.26,406.13 456.32,407.91 457.38,414.08 458.44,417.20 459.49,419.89 460.55,417.66 461.61,419.36 462.67,417.39 463.73,413.83 464.78,417.25 465.84,414.89 466.90,420.48 467.96,425.36 469.02,424.75 470.07,423.80 471.13,423.76 472.19,423.54 473.25,419.44 474.31,418.17 475.36,415.47 476.42,410.70 477.48,400.74 478.54,393.35 479.60,360.47 480.65,387.96 481.71,414.09 482.77,416.27 483.83,418.94 484.89,420.85 485.94,422.53 487.00,420.63 488.06,420.12 489.12,417.03 489.75,414.89 490.18,415.76 491.23,417.22 492.29,421.87 492.72,425.73 493.35,423.71 494.41,422.19 495.47,421.74 496.52,423.79 497.58,421.65 498.64,418.34 499.38,416.90 499.70,417.14 500.76,415.92 501.81,414.43 502.87,408.76 503.30,407.37 503.93,408.49 504.99,411.01 506.05,416.82 506.36,418.59 507.10,419.57 508.16,424.14 509.22,425.12 509.54,427.51 510.28,427.01 511.34,427.42 512.39,428.32 513.45,429.32 514.51,429.51 514.72,428.63 515.57,430.33 516.63,429.86 517.68,428.77 518.74,427.45 519.80,427.20 520.86,426.83 521.92,425.02 522.97,424.54 524.03,421.15 524.14,421.60 525.09,419.77 526.15,420.57 527.21,417.71 527.74,416.31 528.26,417.29 529.32,417.05 530.38,416.10 531.44,417.97 532.50,415.80 533.55,412.74 534.61,417.49 535.67,421.10 535.78,421.88 536.73,423.37 537.79,424.23 538.63,424.58 538.84,425.42 539.90,425.62 540.96,426.75 542.02,426.05 543.08,424.30 544.13,421.22 544.45,421.64 545.19,421.03 545.72,419.59 546.25,418.69 547.31,419.33 547.41,417.83 548.37,421.09 549.42,427.56 549.64,426.13 550.48,424.43 551.54,426.28 551.86,425.83 552.60,417.91 553.02,415.12 553.66,414.17 554.08,412.94 554.71,405.64 555.77,410.49 556.41,415.83 556.83,409.80 557.89,396.91 558.21,392.54 558.95,395.40 560.00,395.82 561.06,386.90 561.70,383.23 562.12,356.49 562.65,324.54 563.18,277.13 563.39,257.10 564.24,258.63 565.29,258.77 566.35,258.79 566.88,258.73 567.41,307.83 567.73,336.63 568.47,381.74 568.57,387.01 569.53,397.92 570.37,405.29 570.58,405.78 571.64,417.54 572.07,419.50 572.70,419.41 573.76,422.32 574.82,418.17 575.56,414.75 575.87,414.20 576.93,410.52 577.25,410.06 577.99,406.59 579.05,403.91 580.11,401.09 581.16,405.05 582.22,405.97 582.54,406.02 583.28,409.30 584.23,415.30 584.34,414.61 585.40,417.76 586.45,422.29 586.98,422.89 587.51,424.37 588.57,426.62 589.42,426.95 589.63,425.95 590.69,427.18 591.74,427.98 592.80,427.81 593.86,427.75 594.92,428.01 595.98,429.50 597.03,429.89 597.99,429.02 598.09,426.32 599.15,426.57 600.21,427.85 601.27,425.43 602.32,426.66 603.17,424.95 603.38,424.04 604.44,423.28 605.50,420.94 606.56,419.29 606.66,421.20 607.61,414.91 608.67,408.91 609.73,398.77 610.15,395.09 610.79,394.81 611.85,399.07 612.90,395.46 613.54,393.14 613.96,389.98 615.02,382.78 615.34,382.25 616.08,385.15 617.03,390.06 617.14,391.03 618.19,396.45 618.72,399.22 619.25,402.51 620.31,407.86 620.52,407.15 621.37,404.05 622.21,402.23 622.43,403.79 623.48,405.23 623.91,406.53 624.54,410.48 625.60,415.62 626.66,420.39 627.40,423.10 627.72,423.73 628.77,419.62 629.09,419.80 629.83,418.54 630.89,418.22 631.95,418.37 632.58,418.14 633.01,418.62 634.06,420.23 635.12,421.49 636.07,422.04 636.18,422.99 637.24,422.24 638.30,422.73 639.35,423.77 639.46,423.08 640.41,423.40 641.47,423.70 642.53,425.17 642.95,424.21 643.59,425.25 644.64,424.44 645.70,423.30 646.44,423.35 646.76,422.18 647.82,415.92 648.14,413.34 648.88,412.02 649.93,407.70 650.99,408.14 651.63,407.19 652.05,406.51 653.11,415.01 653.32,415.25 654.17,418.49 655.12,423.48 655.22,423.35 656.28,423.45 657.34,423.90 658.40,426.64 658.50,426.64 659.46,426.23 660.51,425.38 661.57,424.27 662.00,423.34 662.63,423.56 663.69,422.39 664.75,422.44 665.49,422.54 665.80,420.86 666.86,417.12 667.92,413.64 668.98,409.90 670.04,413.43 670.67,417.47 671.09,414.85 672.15,413.91 672.36,413.11 673.21,413.63 674.16,415.70 674.27,418.10 675.33,418.52 675.86,418.80 676.38,417.05 677.44,409.51 677.65,406.66 678.50,379.30 679.35,347.46 679.56,342.61 680.62,305.66 681.04,290.94 681.67,289.45 682.73,286.17 682.84,286.21 683.79,273.78 684.53,263.93 684.85,264.17 685.91,259.33" fill="none" stroke="#52748f" stroke-width="1.25" stroke-opacity="1.0" stroke-linejoin="round"/>
<line x1="430.4" y1="443.5" x2="430.4" y2="401.26" stroke="#2f7d2f" stroke-width="0.9"/>
<line x1="430.93" y1="443.5" x2="430.93" y2="398.62" stroke="#2f7d2f" stroke-width="0.9"/>
<line x1="431.46" y1="443.5" x2="431.46" y2="396.51" stroke="#2f7d2f" stroke-width="0.9"/>
<line x1="431.99" y1="443.5" x2="431.99" y2="394.4" stroke="#2f7d2f" stroke-width="0.9"/>
<line x1="432.51" y1="443.5" x2="432.51" y2="385.42" stroke="#2f7d2f" stroke-width="0.9"/>
<line x1="433.04" y1="443.5" x2="433.04" y2="374.86" stroke="#2f7d2f" stroke-width="0.9"/>
<line x1="433.57" y1="443.5" x2="433.57" y2="359.02" stroke="#2f7d2f" stroke-width="0.9"/>
<line x1="434.1" y1="443.5" x2="434.1" y2="343.18" stroke="#2f7d2f" stroke-width="0.9"/>
<line x1="434.63" y1="443.5" x2="434.63" y2="327.34" stroke="#2f7d2f" stroke-width="0.9"/>
<line x1="434.95" y1="443.5" x2="434.95" y2="321" stroke="#2f7d2f" stroke-width="0.9"/>
<line x1="435.48" y1="443.5" x2="435.48" y2="337.9" stroke="#2f7d2f" stroke-width="0.9"/>
<line x1="436.01" y1="443.5" x2="436.01" y2="364.3" stroke="#2f7d2f" stroke-width="0.9"/>
<line x1="436.43" y1="443.5" x2="436.43" y2="377.5" stroke="#2f7d2f" stroke-width="0.9"/>
<line x1="439.07" y1="443.5" x2="439.07" y2="411.82" stroke="#2f7d2f" stroke-width="0.9"/>
<line x1="469.55" y1="443.5" x2="469.55" y2="423.44" stroke="#2f7d2f" stroke-width="0.9"/>
<line x1="485.31" y1="443.5" x2="485.31" y2="420.53" stroke="#2f7d2f" stroke-width="0.9"/>
<line x1="486.68" y1="443.5" x2="486.68" y2="420.53" stroke="#2f7d2f" stroke-width="0.9"/>
<line x1="487.74" y1="443.5" x2="487.74" y2="419.74" stroke="#2f7d2f" stroke-width="0.9"/>
<line x1="488.27" y1="443.5" x2="488.27" y2="419.74" stroke="#2f7d2f" stroke-width="0.9"/>
<line x1="488.59" y1="443.5" x2="488.59" y2="419.74" stroke="#2f7d2f" stroke-width="0.9"/>
<line x1="492.4" y1="443.5" x2="492.4" y2="424.23" stroke="#2f7d2f" stroke-width="0.9"/>
<line x1="495.25" y1="443.5" x2="495.25" y2="422.64" stroke="#2f7d2f" stroke-width="0.9"/>
<line x1="495.89" y1="443.5" x2="495.89" y2="422.64" stroke="#2f7d2f" stroke-width="0.9"/>
<line x1="496.52" y1="443.5" x2="496.52" y2="422.64" stroke="#2f7d2f" stroke-width="0.9"/>
<line x1="538.84" y1="443.5" x2="538.84" y2="425.02" stroke="#2f7d2f" stroke-width="0.9"/>
<line x1="539.9" y1="443.5" x2="539.9" y2="425.02" stroke="#2f7d2f" stroke-width="0.9"/>
<line x1="540.96" y1="443.5" x2="540.96" y2="426.08" stroke="#2f7d2f" stroke-width="0.9"/>
<line x1="542.02" y1="443.5" x2="542.02" y2="426.08" stroke="#2f7d2f" stroke-width="0.9"/>
<line x1="542.55" y1="443.5" x2="542.55" y2="426.08" stroke="#2f7d2f" stroke-width="0.9"/>
<line x1="552.28" y1="443.5" x2="552.28" y2="413.14" stroke="#2f7d2f" stroke-width="0.9"/>
<line x1="553.13" y1="443.5" x2="553.13" y2="413.14" stroke="#2f7d2f" stroke-width="0.9"/>
<line x1="553.97" y1="443.5" x2="553.97" y2="413.14" stroke="#2f7d2f" stroke-width="0.9"/>
</g>
<g clip-path="url(#cr2)">
<polyline points="414.76,520.24 414.84,529.27 415.52,578.66 415.69,589.97 416.11,610.78 416.53,623.04 417.38,635.88 418.22,646.26 419.06,650.43 419.91,656.26 420.75,655.62 421.60,657.52 422.44,654.55 423.28,655.30 424.13,655.54 424.97,655.03 425.82,651.79 426.66,647.37 427.50,634.62 428.35,635.25 429.19,644.58 430.04,645.12 430.88,655.92 431.72,664.89 432.57,666.32 433.41,665.00 434.26,666.86 435.10,659.47 435.94,653.96 436.79,643.69 437.63,631.21 438.48,636.43 439.32,642.86 440.16,654.01 441.01,662.69 441.85,667.67 442.70,671.72 443.54,672.04 444.38,666.95 445.23,657.41 446.07,644.40 446.92,642.13 447.76,644.51 448.60,655.89 449.45,672.22 450.29,671.72 451.14,669.44 451.98,666.90 452.82,670.27 453.67,668.11 454.51,669.51 455.36,669.46 456.20,666.28 457.04,669.26 457.89,670.99 458.73,672.69 459.58,674.63 460.42,678.25 461.26,672.61 462.11,669.89 462.95,668.05 463.80,670.97 464.64,670.64 465.48,665.42 466.33,664.64 467.17,654.40 468.02,639.13 468.86,589.13 469.70,547.40 470.55,601.06 471.39,648.02 472.24,658.08 473.08,669.04 473.92,674.81 474.77,674.67 475.61,675.17 476.46,672.87 477.30,670.40 478.14,671.55 478.99,675.24 479.83,672.68 480.68,674.59 481.52,671.87 482.36,670.78 483.21,671.37 484.05,667.62 484.90,665.49 485.74,660.08 486.58,654.74 487.43,652.46 488.27,646.07 489.12,636.89 489.96,630.38 490.80,628.72 491.65,630.84 492.49,636.09 493.34,639.44 494.18,648.37 495.02,660.87 495.87,672.30 496.71,674.93 497.56,674.10 498.40,677.24 499.24,676.88 500.09,675.89 500.93,677.87 501.78,678.47 502.62,679.14 503.46,678.09 504.31,679.46 505.15,679.50 506.00,677.53 506.84,675.29 507.68,676.67 508.53,675.37 509.37,675.18 510.22,677.19 511.06,671.73 511.90,667.75 512.75,666.54 513.59,668.83 514.44,674.42 515.28,676.23 516.12,672.82 516.97,671.90 517.81,667.81 518.66,676.01 519.50,677.41 520.34,676.21 521.19,672.07 522.03,675.32 522.88,676.18 523.72,673.73 524.56,667.35 525.41,660.91 526.25,659.52 527.10,663.04 527.94,667.78 528.78,671.63 529.63,674.31 530.22,676.47 530.47,674.69 531.32,676.71 531.91,677.27 532.16,676.99 533.00,678.71 533.51,678.83 533.85,678.16 534.69,673.12 535.20,674.39 535.54,673.31 536.38,676.09 536.80,674.52 537.22,671.90 538.07,668.47 538.49,664.56 538.91,655.86 539.76,634.99 540.09,625.44 540.60,610.14 541.44,586.91 541.78,577.93 542.29,593.29 543.13,617.58 543.39,627.84 543.98,639.81 544.82,656.96 545.07,659.95 545.66,662.35 546.51,666.28 546.68,666.61 547.35,666.55 548.20,668.02 548.36,668.77 549.04,669.92 549.88,670.94 549.97,671.57 550.73,671.59 551.57,672.68 551.66,673.15 552.42,672.74 553.26,673.66 554.10,674.70 554.95,670.63 555.79,669.72 556.55,668.78 556.64,666.68 557.48,665.50 558.16,663.79 558.32,665.33 559.17,664.41 559.84,667.12 560.01,668.15 560.86,664.45 561.45,666.78 561.70,664.48 562.54,667.37 563.13,668.36 563.39,669.23 564.23,672.02 564.74,673.41 565.08,673.01 565.92,676.04 566.43,679.26 566.76,677.93 567.61,681.51 568.03,680.17 568.45,680.97 569.30,680.16 569.72,678.34 570.14,681.31 570.98,675.49 571.32,674.08 571.83,675.72 572.67,675.39 573.01,676.41 573.52,673.43 574.36,673.12 574.61,672.71 575.20,672.13 576.05,668.09 576.30,668.20 576.89,669.51 577.74,666.33 577.90,667.32 578.58,665.59 579.42,668.51 579.59,667.77 580.27,664.93 581.11,663.11 581.20,663.99 581.96,657.63 582.80,652.52 583.64,651.09 584.49,653.27 585.33,659.67 586.18,662.45 587.02,659.46 587.78,661.90 587.86,663.23 588.71,664.39 589.47,667.31 589.55,666.72 590.40,667.06 591.07,664.08 591.24,666.11 592.08,670.22 592.76,671.00 592.93,670.62 593.77,666.39 594.36,664.12 594.62,664.03 595.46,664.19 596.05,662.38 596.30,662.74 597.15,658.60 597.65,660.63 597.99,658.66 598.84,656.38 599.34,655.40 599.68,654.23 600.52,655.29 600.95,655.89 601.37,655.69 602.21,660.53 602.63,660.67 603.06,662.30 603.90,664.58 604.24,667.29 604.74,658.41 605.59,641.50 605.93,637.86 606.43,630.19 607.28,621.15 607.53,620.89 608.12,589.69 608.54,568.29 608.96,521.57 609.22,493.74 609.81,495.20 610.65,495.12 611.50,494.71 611.92,569.53 612.34,625.27 612.42,635.57 613.18,649.42 614.03,660.77 614.87,662.91 615.72,661.37 616.56,663.52 617.32,665.13 617.40,666.66 618.25,663.71 619.01,660.78 619.09,660.55 619.94,654.68 620.61,651.97 620.78,652.00 621.62,652.48 622.30,649.67 622.47,650.31 623.31,659.04 623.90,663.20 624.16,663.09 625.00,668.72 625.59,670.09 625.84,670.80 626.69,673.30 627.19,673.56 627.53,672.99 628.38,674.58 628.88,670.76 629.22,675.15 630.06,674.63 630.49,676.44 630.91,676.83 631.75,676.90 632.17,678.00 632.60,676.92 633.44,675.04 633.78,675.27 634.28,673.49 635.13,674.02 635.47,671.85 635.97,672.26 636.82,668.18 637.07,668.26 637.66,668.35 638.50,674.25 638.76,672.85 639.35,675.10 640.19,677.19 640.36,674.04 641.04,674.47 641.88,673.69 642.72,676.00 643.57,674.53 643.65,673.84 644.41,674.53 645.26,670.73 646.10,673.26 646.94,671.05 647.79,674.71 648.63,676.16 649.48,673.27 650.24,670.72 650.32,669.87 651.16,664.68 651.92,663.17 652.01,660.19 652.85,655.60 653.53,652.69 653.70,652.19 654.54,653.94 655.22,656.74 655.38,659.51 656.23,661.20 656.82,662.99 657.07,659.29 657.92,655.27 658.51,651.77 658.76,650.26 659.60,650.48 660.11,646.19 660.45,646.57 661.29,650.44 661.80,654.83 662.14,652.27 662.98,659.41 663.40,662.77 663.82,663.19 664.67,663.09 665.09,664.59 665.51,663.73 666.36,661.20 666.69,662.36 667.20,658.84 668.04,658.16 668.38,655.64 668.89,658.06 669.73,663.78 669.99,665.00 670.58,662.87 671.42,658.43 671.67,654.98 672.26,651.99 673.11,646.66 673.28,645.11 673.95,649.94 674.80,654.17 674.96,655.48 675.64,653.16 676.48,654.23 676.57,652.80 677.33,655.88 678.17,661.30 678.26,659.44 679.02,661.11 679.86,665.34 680.70,658.38 681.55,647.06 682.39,639.06 683.15,625.16 683.24,625.88 684.08,620.15 684.84,616.14 684.92,615.98 685.77,606.75" fill="none" stroke="#52748f" stroke-width="1.25" stroke-opacity="1.0" stroke-linejoin="round"/>
<line x1="424.97" y1="695.2" x2="424.97" y2="657.19" stroke="#2f7d2f" stroke-width="0.9"/>
<line x1="425.82" y1="695.2" x2="425.82" y2="651.76" stroke="#2f7d2f" stroke-width="0.9"/>
<line x1="426.66" y1="695.2" x2="426.66" y2="647.05" stroke="#2f7d2f" stroke-width="0.9"/>
<line x1="427.5" y1="695.2" x2="427.5" y2="635.11" stroke="#2f7d2f" stroke-width="0.9"/>
<line x1="428.35" y1="695.2" x2="428.35" y2="634.75" stroke="#2f7d2f" stroke-width="0.9"/>
<line x1="429.19" y1="695.2" x2="429.19" y2="643.43" stroke="#2f7d2f" stroke-width="0.9"/>
<line x1="430.04" y1="695.2" x2="430.04" y2="644.52" stroke="#2f7d2f" stroke-width="0.9"/>
<line x1="431.72" y1="695.2" x2="431.72" y2="666.6" stroke="#2f7d2f" stroke-width="0.9"/>
<line x1="442.7" y1="695.2" x2="442.7" y2="671.31" stroke="#2f7d2f" stroke-width="0.9"/>
<line x1="443.54" y1="695.2" x2="443.54" y2="672.39" stroke="#2f7d2f" stroke-width="0.9"/>
<line x1="444.38" y1="695.2" x2="444.38" y2="671.31" stroke="#2f7d2f" stroke-width="0.9"/>
<line x1="461.26" y1="695.2" x2="461.26" y2="674.2" stroke="#2f7d2f" stroke-width="0.9"/>
<line x1="476.46" y1="695.2" x2="476.46" y2="672.39" stroke="#2f7d2f" stroke-width="0.9"/>
<line x1="477.3" y1="695.2" x2="477.3" y2="670.22" stroke="#2f7d2f" stroke-width="0.9"/>
<line x1="478.14" y1="695.2" x2="478.14" y2="673.48" stroke="#2f7d2f" stroke-width="0.9"/>
<line x1="478.99" y1="695.2" x2="478.99" y2="673.48" stroke="#2f7d2f" stroke-width="0.9"/>
<line x1="479.83" y1="695.2" x2="479.83" y2="672.39" stroke="#2f7d2f" stroke-width="0.9"/>
<line x1="519.5" y1="695.2" x2="519.5" y2="677.1" stroke="#2f7d2f" stroke-width="0.9"/>
<line x1="520.34" y1="695.2" x2="520.34" y2="674.93" stroke="#2f7d2f" stroke-width="0.9"/>
<line x1="521.19" y1="695.2" x2="521.19" y2="673.48" stroke="#2f7d2f" stroke-width="0.9"/>
<line x1="522.03" y1="695.2" x2="522.03" y2="674.93" stroke="#2f7d2f" stroke-width="0.9"/>
<line x1="522.88" y1="695.2" x2="522.88" y2="677.1" stroke="#2f7d2f" stroke-width="0.9"/>
<line x1="523.72" y1="695.2" x2="523.72" y2="675.29" stroke="#2f7d2f" stroke-width="0.9"/>
<line x1="533.17" y1="695.2" x2="533.17" y2="677.46" stroke="#2f7d2f" stroke-width="0.9"/>
<line x1="533.76" y1="695.2" x2="533.76" y2="677.46" stroke="#2f7d2f" stroke-width="0.9"/>
</g>
<rect x="24.35" y="19.0" width="317.95" height="174.40" fill="none" stroke="#606060" stroke-width="1.05"/>
<line x1="22.15" y1="185.6" x2="24.35" y2="185.6" stroke="#444" stroke-width="0.9"/>
<text x="21.35" y="187.62" font-size="5.6" text-anchor="end" fill="#222222" stroke="#222222" stroke-width="0.12" textLength="8.6" lengthAdjust="spacingAndGlyphs">0.0</text>
<line x1="22.15" y1="165.9" x2="24.35" y2="165.9" stroke="#444" stroke-width="0.9"/>
<text x="21.35" y="167.92" font-size="5.6" text-anchor="end" fill="#222222" stroke="#222222" stroke-width="0.12" textLength="8.6" lengthAdjust="spacingAndGlyphs">0.5</text>
<line x1="22.15" y1="146.2" x2="24.35" y2="146.2" stroke="#444" stroke-width="0.9"/>
<text x="21.35" y="148.22" font-size="5.6" text-anchor="end" fill="#222222" stroke="#222222" stroke-width="0.12" textLength="8.6" lengthAdjust="spacingAndGlyphs">1.0</text>
<line x1="22.15" y1="126.5" x2="24.35" y2="126.5" stroke="#444" stroke-width="0.9"/>
<text x="21.35" y="128.52" font-size="5.6" text-anchor="end" fill="#222222" stroke="#222222" stroke-width="0.12" textLength="8.6" lengthAdjust="spacingAndGlyphs">1.5</text>
<line x1="22.15" y1="106.8" x2="24.35" y2="106.8" stroke="#444" stroke-width="0.9"/>
<text x="21.35" y="108.82" font-size="5.6" text-anchor="end" fill="#222222" stroke="#222222" stroke-width="0.12" textLength="8.6" lengthAdjust="spacingAndGlyphs">2.0</text>
<line x1="22.15" y1="87.1" x2="24.35" y2="87.1" stroke="#444" stroke-width="0.9"/>
<text x="21.35" y="89.12" font-size="5.6" text-anchor="end" fill="#222222" stroke="#222222" stroke-width="0.12" textLength="8.6" lengthAdjust="spacingAndGlyphs">2.5</text>
<line x1="22.15" y1="67.4" x2="24.35" y2="67.4" stroke="#444" stroke-width="0.9"/>
<text x="21.35" y="69.42" font-size="5.6" text-anchor="end" fill="#222222" stroke="#222222" stroke-width="0.12" textLength="8.6" lengthAdjust="spacingAndGlyphs">3.0</text>
<line x1="22.15" y1="47.7" x2="24.35" y2="47.7" stroke="#444" stroke-width="0.9"/>
<text x="21.35" y="49.72" font-size="5.6" text-anchor="end" fill="#222222" stroke="#222222" stroke-width="0.12" textLength="8.6" lengthAdjust="spacingAndGlyphs">3.5</text>
<line x1="22.15" y1="28" x2="24.35" y2="28" stroke="#444" stroke-width="0.9"/>
<text x="21.35" y="30.02" font-size="5.6" text-anchor="end" fill="#222222" stroke="#222222" stroke-width="0.12" textLength="8.6" lengthAdjust="spacingAndGlyphs">4.0</text>
<line x1="342.3" y1="172.3" x2="344.5" y2="172.3" stroke="#444" stroke-width="0.9"/>
<text x="345.3" y="174.32" font-size="5.6" text-anchor="start" fill="#963a5c" stroke="#963a5c" stroke-width="0.12" textLength="8.6" lengthAdjust="spacingAndGlyphs">0.5</text>
<line x1="342.3" y1="151.8" x2="344.5" y2="151.8" stroke="#444" stroke-width="0.9"/>
<text x="345.3" y="153.82" font-size="5.6" text-anchor="start" fill="#963a5c" stroke="#963a5c" stroke-width="0.12" textLength="8.6" lengthAdjust="spacingAndGlyphs">1.0</text>
<line x1="342.3" y1="131.3" x2="344.5" y2="131.3" stroke="#444" stroke-width="0.9"/>
<text x="345.3" y="133.32" font-size="5.6" text-anchor="start" fill="#963a5c" stroke="#963a5c" stroke-width="0.12" textLength="8.6" lengthAdjust="spacingAndGlyphs">1.5</text>
<line x1="342.3" y1="110.8" x2="344.5" y2="110.8" stroke="#444" stroke-width="0.9"/>
<text x="345.3" y="112.82" font-size="5.6" text-anchor="start" fill="#963a5c" stroke="#963a5c" stroke-width="0.12" textLength="8.6" lengthAdjust="spacingAndGlyphs">2.0</text>
<line x1="342.3" y1="90.3" x2="344.5" y2="90.3" stroke="#444" stroke-width="0.9"/>
<text x="345.3" y="92.32" font-size="5.6" text-anchor="start" fill="#963a5c" stroke="#963a5c" stroke-width="0.12" textLength="8.6" lengthAdjust="spacingAndGlyphs">2.5</text>
<line x1="342.3" y1="69.8" x2="344.5" y2="69.8" stroke="#444" stroke-width="0.9"/>
<text x="345.3" y="71.82" font-size="5.6" text-anchor="start" fill="#963a5c" stroke="#963a5c" stroke-width="0.12" textLength="8.6" lengthAdjust="spacingAndGlyphs">3.0</text>
<line x1="342.3" y1="49.3" x2="344.5" y2="49.3" stroke="#444" stroke-width="0.9"/>
<text x="345.3" y="51.32" font-size="5.6" text-anchor="start" fill="#963a5c" stroke="#963a5c" stroke-width="0.12" textLength="8.6" lengthAdjust="spacingAndGlyphs">3.5</text>
<line x1="342.3" y1="28.8" x2="344.5" y2="28.8" stroke="#444" stroke-width="0.9"/>
<text x="345.3" y="30.82" font-size="5.6" text-anchor="start" fill="#963a5c" stroke="#963a5c" stroke-width="0.12" textLength="8.6" lengthAdjust="spacingAndGlyphs">4.0</text>
<line x1="24.5" y1="193.4" x2="24.5" y2="195.6" stroke="#444" stroke-width="0.9"/>
<text x="24.5" y="201.3" font-size="5.6" text-anchor="middle" fill="#222222" stroke="#222222" stroke-width="0.12" textLength="3.2" lengthAdjust="spacingAndGlyphs">0</text>
<line x1="88.1" y1="193.4" x2="88.1" y2="195.6" stroke="#444" stroke-width="0.9"/>
<text x="88.1" y="201.3" font-size="5.6" text-anchor="middle" fill="#222222" stroke="#222222" stroke-width="0.12" textLength="6.4" lengthAdjust="spacingAndGlyphs">20</text>
<line x1="151.7" y1="193.4" x2="151.7" y2="195.6" stroke="#444" stroke-width="0.9"/>
<text x="151.7" y="201.3" font-size="5.6" text-anchor="middle" fill="#222222" stroke="#222222" stroke-width="0.12" textLength="6.4" lengthAdjust="spacingAndGlyphs">40</text>
<line x1="215.3" y1="193.4" x2="215.3" y2="195.6" stroke="#444" stroke-width="0.9"/>
<text x="215.3" y="201.3" font-size="5.6" text-anchor="middle" fill="#222222" stroke="#222222" stroke-width="0.12" textLength="6.4" lengthAdjust="spacingAndGlyphs">60</text>
<line x1="278.9" y1="193.4" x2="278.9" y2="195.6" stroke="#444" stroke-width="0.9"/>
<text x="278.9" y="201.3" font-size="5.6" text-anchor="middle" fill="#222222" stroke="#222222" stroke-width="0.12" textLength="6.4" lengthAdjust="spacingAndGlyphs">80</text>
<line x1="342.5" y1="193.4" x2="342.5" y2="195.6" stroke="#444" stroke-width="0.9"/>
<text x="342.5" y="201.3" font-size="5.6" text-anchor="middle" fill="#222222" stroke="#222222" stroke-width="0.12" textLength="9.6" lengthAdjust="spacingAndGlyphs">100</text>
<text x="8.4" y="106.2" font-size="8.8" text-anchor="middle" fill="#222222" stroke="#222222" stroke-width="0.12" textLength="70" lengthAdjust="spacingAndGlyphs" transform="rotate(-90 8.4 106.2)">Protein RMSD (<tspan font-style="italic">Å</tspan>)</text>
<text x="359" y="106.2" font-size="8.8" text-anchor="middle" fill="#8c2d52" stroke="#8c2d52" stroke-width="0.15" textLength="69.5" lengthAdjust="spacingAndGlyphs" transform="rotate(90 359 106.2)">Ligand RMSD (<tspan font-style="italic">Å</tspan>)</text>
<text x="183.5" y="210.4" font-size="8.7" text-anchor="middle" fill="#222222" stroke="#222222" stroke-width="0.15" textLength="48.5" lengthAdjust="spacingAndGlyphs">Time (nsec)</text>
<line x1="144.4" y1="227.2" x2="148.8" y2="227.2" stroke="#52748f" stroke-width="1.6"/>
<text x="152.4" y="229.3" font-size="6" text-anchor="start" fill="#222222" textLength="7.3" lengthAdjust="spacingAndGlyphs">Cα</text>
<line x1="170" y1="227.2" x2="175" y2="227.2" stroke="#963a5c" stroke-width="1.6"/>
<text x="178.2" y="229.3" font-size="6" text-anchor="start" fill="#222222" textLength="42.8" lengthAdjust="spacingAndGlyphs">(Lig) fit on Prot</text>
<text x="26.6" y="13.3" font-size="17" text-anchor="start" fill="#000" stroke="#000" stroke-width="0.35" font-weight="bold">A</text>
<rect x="24.35" y="270.4" width="317.95" height="174.00" fill="none" stroke="#606060" stroke-width="1.05"/>
<line x1="22.15" y1="436.8" x2="24.35" y2="436.8" stroke="#444" stroke-width="0.9"/>
<text x="21.35" y="438.82" font-size="5.6" text-anchor="end" fill="#222222" stroke="#222222" stroke-width="0.12" textLength="8.6" lengthAdjust="spacingAndGlyphs">0.0</text>
<line x1="22.15" y1="418.84" x2="24.35" y2="418.84" stroke="#444" stroke-width="0.9"/>
<text x="21.35" y="420.85" font-size="5.6" text-anchor="end" fill="#222222" stroke="#222222" stroke-width="0.12" textLength="8.6" lengthAdjust="spacingAndGlyphs">0.5</text>
<line x1="22.15" y1="400.87" x2="24.35" y2="400.87" stroke="#444" stroke-width="0.9"/>
<text x="21.35" y="402.89" font-size="5.6" text-anchor="end" fill="#222222" stroke="#222222" stroke-width="0.12" textLength="8.6" lengthAdjust="spacingAndGlyphs">1.0</text>
<line x1="22.15" y1="382.91" x2="24.35" y2="382.91" stroke="#444" stroke-width="0.9"/>
<text x="21.35" y="384.92" font-size="5.6" text-anchor="end" fill="#222222" stroke="#222222" stroke-width="0.12" textLength="8.6" lengthAdjust="spacingAndGlyphs">1.5</text>
<line x1="22.15" y1="364.94" x2="24.35" y2="364.94" stroke="#444" stroke-width="0.9"/>
<text x="21.35" y="366.96" font-size="5.6" text-anchor="end" fill="#222222" stroke="#222222" stroke-width="0.12" textLength="8.6" lengthAdjust="spacingAndGlyphs">2.0</text>
<line x1="22.15" y1="346.98" x2="24.35" y2="346.98" stroke="#444" stroke-width="0.9"/>
<text x="21.35" y="348.99" font-size="5.6" text-anchor="end" fill="#222222" stroke="#222222" stroke-width="0.12" textLength="8.6" lengthAdjust="spacingAndGlyphs">2.5</text>
<line x1="22.15" y1="329.01" x2="24.35" y2="329.01" stroke="#444" stroke-width="0.9"/>
<text x="21.35" y="331.03" font-size="5.6" text-anchor="end" fill="#222222" stroke="#222222" stroke-width="0.12" textLength="8.6" lengthAdjust="spacingAndGlyphs">3.0</text>
<line x1="22.15" y1="311.05" x2="24.35" y2="311.05" stroke="#444" stroke-width="0.9"/>
<text x="21.35" y="313.06" font-size="5.6" text-anchor="end" fill="#222222" stroke="#222222" stroke-width="0.12" textLength="8.6" lengthAdjust="spacingAndGlyphs">3.5</text>
<line x1="22.15" y1="293.08" x2="24.35" y2="293.08" stroke="#444" stroke-width="0.9"/>
<text x="21.35" y="295.1" font-size="5.6" text-anchor="end" fill="#222222" stroke="#222222" stroke-width="0.12" textLength="8.6" lengthAdjust="spacingAndGlyphs">4.0</text>
<line x1="22.15" y1="275.12" x2="24.35" y2="275.12" stroke="#444" stroke-width="0.9"/>
<text x="21.35" y="277.13" font-size="5.6" text-anchor="end" fill="#222222" stroke="#222222" stroke-width="0.12" textLength="8.6" lengthAdjust="spacingAndGlyphs">4.5</text>
<line x1="342.3" y1="426.42" x2="344.5" y2="426.42" stroke="#444" stroke-width="0.9"/>
<text x="345.3" y="428.44" font-size="5.6" text-anchor="start" fill="#963a5c" stroke="#963a5c" stroke-width="0.12" textLength="8.6" lengthAdjust="spacingAndGlyphs">0.6</text>
<line x1="342.3" y1="408.24" x2="344.5" y2="408.24" stroke="#444" stroke-width="0.9"/>
<text x="345.3" y="410.26" font-size="5.6" text-anchor="start" fill="#963a5c" stroke="#963a5c" stroke-width="0.12" textLength="8.6" lengthAdjust="spacingAndGlyphs">1.2</text>
<line x1="342.3" y1="390.06" x2="344.5" y2="390.06" stroke="#444" stroke-width="0.9"/>
<text x="345.3" y="392.08" font-size="5.6" text-anchor="start" fill="#963a5c" stroke="#963a5c" stroke-width="0.12" textLength="8.6" lengthAdjust="spacingAndGlyphs">1.8</text>
<line x1="342.3" y1="371.88" x2="344.5" y2="371.88" stroke="#444" stroke-width="0.9"/>
<text x="345.3" y="373.9" font-size="5.6" text-anchor="start" fill="#963a5c" stroke="#963a5c" stroke-width="0.12" textLength="8.6" lengthAdjust="spacingAndGlyphs">2.4</text>
<line x1="342.3" y1="353.7" x2="344.5" y2="353.7" stroke="#444" stroke-width="0.9"/>
<text x="345.3" y="355.72" font-size="5.6" text-anchor="start" fill="#963a5c" stroke="#963a5c" stroke-width="0.12" textLength="8.6" lengthAdjust="spacingAndGlyphs">3.0</text>
<line x1="342.3" y1="335.52" x2="344.5" y2="335.52" stroke="#444" stroke-width="0.9"/>
<text x="345.3" y="337.54" font-size="5.6" text-anchor="start" fill="#963a5c" stroke="#963a5c" stroke-width="0.12" textLength="8.6" lengthAdjust="spacingAndGlyphs">3.6</text>
<line x1="342.3" y1="317.34" x2="344.5" y2="317.34" stroke="#444" stroke-width="0.9"/>
<text x="345.3" y="319.36" font-size="5.6" text-anchor="start" fill="#963a5c" stroke="#963a5c" stroke-width="0.12" textLength="8.6" lengthAdjust="spacingAndGlyphs">4.2</text>
<line x1="342.3" y1="299.16" x2="344.5" y2="299.16" stroke="#444" stroke-width="0.9"/>
<text x="345.3" y="301.18" font-size="5.6" text-anchor="start" fill="#963a5c" stroke="#963a5c" stroke-width="0.12" textLength="8.6" lengthAdjust="spacingAndGlyphs">4.8</text>
<line x1="342.3" y1="280.98" x2="344.5" y2="280.98" stroke="#444" stroke-width="0.9"/>
<text x="345.3" y="283" font-size="5.6" text-anchor="start" fill="#963a5c" stroke="#963a5c" stroke-width="0.12" textLength="8.6" lengthAdjust="spacingAndGlyphs">5.4</text>
<line x1="24.5" y1="444.4" x2="24.5" y2="446.6" stroke="#444" stroke-width="0.9"/>
<text x="24.5" y="452.3" font-size="5.6" text-anchor="middle" fill="#222222" stroke="#222222" stroke-width="0.12" textLength="3.2" lengthAdjust="spacingAndGlyphs">0</text>
<line x1="88.1" y1="444.4" x2="88.1" y2="446.6" stroke="#444" stroke-width="0.9"/>
<text x="88.1" y="452.3" font-size="5.6" text-anchor="middle" fill="#222222" stroke="#222222" stroke-width="0.12" textLength="6.4" lengthAdjust="spacingAndGlyphs">20</text>
<line x1="151.7" y1="444.4" x2="151.7" y2="446.6" stroke="#444" stroke-width="0.9"/>
<text x="151.7" y="452.3" font-size="5.6" text-anchor="middle" fill="#222222" stroke="#222222" stroke-width="0.12" textLength="6.4" lengthAdjust="spacingAndGlyphs">40</text>
<line x1="215.3" y1="444.4" x2="215.3" y2="446.6" stroke="#444" stroke-width="0.9"/>
<text x="215.3" y="452.3" font-size="5.6" text-anchor="middle" fill="#222222" stroke="#222222" stroke-width="0.12" textLength="6.4" lengthAdjust="spacingAndGlyphs">60</text>
<line x1="278.9" y1="444.4" x2="278.9" y2="446.6" stroke="#444" stroke-width="0.9"/>
<text x="278.9" y="452.3" font-size="5.6" text-anchor="middle" fill="#222222" stroke="#222222" stroke-width="0.12" textLength="6.4" lengthAdjust="spacingAndGlyphs">80</text>
<line x1="342.5" y1="444.4" x2="342.5" y2="446.6" stroke="#444" stroke-width="0.9"/>
<text x="342.5" y="452.3" font-size="5.6" text-anchor="middle" fill="#222222" stroke="#222222" stroke-width="0.12" textLength="9.6" lengthAdjust="spacingAndGlyphs">100</text>
<text x="8.4" y="357.4" font-size="8.8" text-anchor="middle" fill="#222222" stroke="#222222" stroke-width="0.12" textLength="70" lengthAdjust="spacingAndGlyphs" transform="rotate(-90 8.4 357.4)">Protein RMSD (<tspan font-style="italic">Å</tspan>)</text>
<text x="359" y="357.4" font-size="8.8" text-anchor="middle" fill="#8c2d52" stroke="#8c2d52" stroke-width="0.15" textLength="69.5" lengthAdjust="spacingAndGlyphs" transform="rotate(90 359 357.4)">Ligand RMSD (<tspan font-style="italic">Å</tspan>)</text>
<text x="183.5" y="461.4" font-size="8.7" text-anchor="middle" fill="#222222" stroke="#222222" stroke-width="0.15" textLength="48.5" lengthAdjust="spacingAndGlyphs">Time (nsec)</text>
<line x1="144.4" y1="478.2" x2="148.8" y2="478.2" stroke="#52748f" stroke-width="1.6"/>
<text x="152.4" y="480.3" font-size="6" text-anchor="start" fill="#222222" textLength="7.3" lengthAdjust="spacingAndGlyphs">Cα</text>
<line x1="170" y1="478.2" x2="175" y2="478.2" stroke="#963a5c" stroke-width="1.6"/>
<text x="178.2" y="480.3" font-size="6" text-anchor="start" fill="#222222" textLength="42.8" lengthAdjust="spacingAndGlyphs">(Lig) fit on Prot</text>
<text x="26.6" y="265.5" font-size="17" text-anchor="start" fill="#000" stroke="#000" stroke-width="0.35" font-weight="bold">B</text>
<rect x="24.35" y="522.2" width="317.95" height="174.30" fill="none" stroke="#606060" stroke-width="1.05"/>
<line x1="22.15" y1="688.6" x2="24.35" y2="688.6" stroke="#444" stroke-width="0.9"/>
<text x="21.35" y="690.62" font-size="5.6" text-anchor="end" fill="#222222" stroke="#222222" stroke-width="0.12" textLength="8.6" lengthAdjust="spacingAndGlyphs">0.0</text>
<line x1="22.15" y1="667.68" x2="24.35" y2="667.68" stroke="#444" stroke-width="0.9"/>
<text x="21.35" y="669.7" font-size="5.6" text-anchor="end" fill="#222222" stroke="#222222" stroke-width="0.12" textLength="8.6" lengthAdjust="spacingAndGlyphs">0.4</text>
<line x1="22.15" y1="646.76" x2="24.35" y2="646.76" stroke="#444" stroke-width="0.9"/>
<text x="21.35" y="648.78" font-size="5.6" text-anchor="end" fill="#222222" stroke="#222222" stroke-width="0.12" textLength="8.6" lengthAdjust="spacingAndGlyphs">0.8</text>
<line x1="22.15" y1="625.84" x2="24.35" y2="625.84" stroke="#444" stroke-width="0.9"/>
<text x="21.35" y="627.86" font-size="5.6" text-anchor="end" fill="#222222" stroke="#222222" stroke-width="0.12" textLength="8.6" lengthAdjust="spacingAndGlyphs">1.2</text>
<line x1="22.15" y1="604.92" x2="24.35" y2="604.92" stroke="#444" stroke-width="0.9"/>
<text x="21.35" y="606.94" font-size="5.6" text-anchor="end" fill="#222222" stroke="#222222" stroke-width="0.12" textLength="8.6" lengthAdjust="spacingAndGlyphs">1.6</text>
<line x1="22.15" y1="584" x2="24.35" y2="584" stroke="#444" stroke-width="0.9"/>
<text x="21.35" y="586.02" font-size="5.6" text-anchor="end" fill="#222222" stroke="#222222" stroke-width="0.12" textLength="8.6" lengthAdjust="spacingAndGlyphs">2.0</text>
<line x1="22.15" y1="563.08" x2="24.35" y2="563.08" stroke="#444" stroke-width="0.9"/>
<text x="21.35" y="565.1" font-size="5.6" text-anchor="end" fill="#222222" stroke="#222222" stroke-width="0.12" textLength="8.6" lengthAdjust="spacingAndGlyphs">2.4</text>
<line x1="22.15" y1="542.16" x2="24.35" y2="542.16" stroke="#444" stroke-width="0.9"/>
<text x="21.35" y="544.18" font-size="5.6" text-anchor="end" fill="#222222" stroke="#222222" stroke-width="0.12" textLength="8.6" lengthAdjust="spacingAndGlyphs">2.8</text>
<line x1="342.3" y1="674.28" x2="344.5" y2="674.28" stroke="#444" stroke-width="0.9"/>
<text x="345.3" y="676.3" font-size="5.6" text-anchor="start" fill="#963a5c" stroke="#963a5c" stroke-width="0.12" textLength="8.6" lengthAdjust="spacingAndGlyphs">0.4</text>
<line x1="342.3" y1="652.36" x2="344.5" y2="652.36" stroke="#444" stroke-width="0.9"/>
<text x="345.3" y="654.38" font-size="5.6" text-anchor="start" fill="#963a5c" stroke="#963a5c" stroke-width="0.12" textLength="8.6" lengthAdjust="spacingAndGlyphs">0.8</text>
<line x1="342.3" y1="630.44" x2="344.5" y2="630.44" stroke="#444" stroke-width="0.9"/>
<text x="345.3" y="632.46" font-size="5.6" text-anchor="start" fill="#963a5c" stroke="#963a5c" stroke-width="0.12" textLength="8.6" lengthAdjust="spacingAndGlyphs">1.2</text>
<line x1="342.3" y1="608.52" x2="344.5" y2="608.52" stroke="#444" stroke-width="0.9"/>
<text x="345.3" y="610.54" font-size="5.6" text-anchor="start" fill="#963a5c" stroke="#963a5c" stroke-width="0.12" textLength="8.6" lengthAdjust="spacingAndGlyphs">1.6</text>
<line x1="342.3" y1="586.6" x2="344.5" y2="586.6" stroke="#444" stroke-width="0.9"/>
<text x="345.3" y="588.62" font-size="5.6" text-anchor="start" fill="#963a5c" stroke="#963a5c" stroke-width="0.12" textLength="8.6" lengthAdjust="spacingAndGlyphs">2.0</text>
<line x1="342.3" y1="564.68" x2="344.5" y2="564.68" stroke="#444" stroke-width="0.9"/>
<text x="345.3" y="566.7" font-size="5.6" text-anchor="start" fill="#963a5c" stroke="#963a5c" stroke-width="0.12" textLength="8.6" lengthAdjust="spacingAndGlyphs">2.4</text>
<line x1="342.3" y1="542.76" x2="344.5" y2="542.76" stroke="#444" stroke-width="0.9"/>
<text x="345.3" y="544.78" font-size="5.6" text-anchor="start" fill="#963a5c" stroke="#963a5c" stroke-width="0.12" textLength="8.6" lengthAdjust="spacingAndGlyphs">2.8</text>
<line x1="24.5" y1="696.5" x2="24.5" y2="698.7" stroke="#444" stroke-width="0.9"/>
<text x="24.5" y="704.4" font-size="5.6" text-anchor="middle" fill="#222222" stroke="#222222" stroke-width="0.12" textLength="3.2" lengthAdjust="spacingAndGlyphs">0</text>
<line x1="88.1" y1="696.5" x2="88.1" y2="698.7" stroke="#444" stroke-width="0.9"/>
<text x="88.1" y="704.4" font-size="5.6" text-anchor="middle" fill="#222222" stroke="#222222" stroke-width="0.12" textLength="6.4" lengthAdjust="spacingAndGlyphs">20</text>
<line x1="151.7" y1="696.5" x2="151.7" y2="698.7" stroke="#444" stroke-width="0.9"/>
<text x="151.7" y="704.4" font-size="5.6" text-anchor="middle" fill="#222222" stroke="#222222" stroke-width="0.12" textLength="6.4" lengthAdjust="spacingAndGlyphs">40</text>
<line x1="215.3" y1="696.5" x2="215.3" y2="698.7" stroke="#444" stroke-width="0.9"/>
<text x="215.3" y="704.4" font-size="5.6" text-anchor="middle" fill="#222222" stroke="#222222" stroke-width="0.12" textLength="6.4" lengthAdjust="spacingAndGlyphs">60</text>
<line x1="278.9" y1="696.5" x2="278.9" y2="698.7" stroke="#444" stroke-width="0.9"/>
<text x="278.9" y="704.4" font-size="5.6" text-anchor="middle" fill="#222222" stroke="#222222" stroke-width="0.12" textLength="6.4" lengthAdjust="spacingAndGlyphs">80</text>
<line x1="342.5" y1="696.5" x2="342.5" y2="698.7" stroke="#444" stroke-width="0.9"/>
<text x="342.5" y="704.4" font-size="5.6" text-anchor="middle" fill="#222222" stroke="#222222" stroke-width="0.12" textLength="9.6" lengthAdjust="spacingAndGlyphs">100</text>
<text x="8.4" y="609.35" font-size="8.8" text-anchor="middle" fill="#222222" stroke="#222222" stroke-width="0.12" textLength="70" lengthAdjust="spacingAndGlyphs" transform="rotate(-90 8.4 609.35)">Protein RMSD (<tspan font-style="italic">Å</tspan>)</text>
<text x="359" y="609.35" font-size="8.8" text-anchor="middle" fill="#8c2d52" stroke="#8c2d52" stroke-width="0.15" textLength="69.5" lengthAdjust="spacingAndGlyphs" transform="rotate(90 359 609.35)">Ligand RMSD (<tspan font-style="italic">Å</tspan>)</text>
<text x="183.5" y="713.5" font-size="8.7" text-anchor="middle" fill="#222222" stroke="#222222" stroke-width="0.15" textLength="48.5" lengthAdjust="spacingAndGlyphs">Time (nsec)</text>
<line x1="144.4" y1="730.3" x2="148.8" y2="730.3" stroke="#52748f" stroke-width="1.6"/>
<text x="152.4" y="732.4" font-size="6" text-anchor="start" fill="#222222" textLength="7.3" lengthAdjust="spacingAndGlyphs">Cα</text>
<line x1="170" y1="730.3" x2="175" y2="730.3" stroke="#963a5c" stroke-width="1.6"/>
<text x="178.2" y="732.4" font-size="6" text-anchor="start" fill="#222222" textLength="42.8" lengthAdjust="spacingAndGlyphs">(Lig) fit on Prot</text>
<text x="26.6" y="517.6" font-size="17" text-anchor="start" fill="#000" stroke="#000" stroke-width="0.35" font-weight="bold">C</text>
<rect x="414.0" y="21.0" width="270.40" height="170.50" fill="none" stroke="#666666" stroke-width="1.1"/>
<line x1="411" y1="174.33" x2="414" y2="174.33" stroke="#444" stroke-width="0.8"/>
<text x="408.5" y="177.21" font-size="8.0" text-anchor="end" fill="#222222" stroke="#222222" stroke-width="0.1" textLength="11.9" lengthAdjust="spacingAndGlyphs">0.6</text>
<line x1="411" y1="156.66" x2="414" y2="156.66" stroke="#444" stroke-width="0.8"/>
<text x="408.5" y="159.54" font-size="8.0" text-anchor="end" fill="#222222" stroke="#222222" stroke-width="0.1" textLength="11.9" lengthAdjust="spacingAndGlyphs">1.2</text>
<line x1="411" y1="138.99" x2="414" y2="138.99" stroke="#444" stroke-width="0.8"/>
<text x="408.5" y="141.87" font-size="8.0" text-anchor="end" fill="#222222" stroke="#222222" stroke-width="0.1" textLength="11.9" lengthAdjust="spacingAndGlyphs">1.8</text>
<line x1="411" y1="121.32" x2="414" y2="121.32" stroke="#444" stroke-width="0.8"/>
<text x="408.5" y="124.2" font-size="8.0" text-anchor="end" fill="#222222" stroke="#222222" stroke-width="0.1" textLength="11.9" lengthAdjust="spacingAndGlyphs">2.4</text>
<line x1="411" y1="103.65" x2="414" y2="103.65" stroke="#444" stroke-width="0.8"/>
<text x="408.5" y="106.53" font-size="8.0" text-anchor="end" fill="#222222" stroke="#222222" stroke-width="0.1" textLength="11.9" lengthAdjust="spacingAndGlyphs">3.0</text>
<line x1="411" y1="85.98" x2="414" y2="85.98" stroke="#444" stroke-width="0.8"/>
<text x="408.5" y="88.86" font-size="8.0" text-anchor="end" fill="#222222" stroke="#222222" stroke-width="0.1" textLength="11.9" lengthAdjust="spacingAndGlyphs">3.6</text>
<line x1="411" y1="68.31" x2="414" y2="68.31" stroke="#444" stroke-width="0.8"/>
<text x="408.5" y="71.19" font-size="8.0" text-anchor="end" fill="#222222" stroke="#222222" stroke-width="0.1" textLength="11.9" lengthAdjust="spacingAndGlyphs">4.2</text>
<line x1="411" y1="50.64" x2="414" y2="50.64" stroke="#444" stroke-width="0.8"/>
<text x="408.5" y="53.52" font-size="8.0" text-anchor="end" fill="#222222" stroke="#222222" stroke-width="0.1" textLength="11.9" lengthAdjust="spacingAndGlyphs">4.8</text>
<line x1="411" y1="32.97" x2="414" y2="32.97" stroke="#444" stroke-width="0.8"/>
<text x="408.5" y="35.85" font-size="8.0" text-anchor="end" fill="#222222" stroke="#222222" stroke-width="0.1" textLength="11.9" lengthAdjust="spacingAndGlyphs">5.4</text>
<line x1="414" y1="191.5" x2="414" y2="194.5" stroke="#444" stroke-width="0.8"/>
<text x="414" y="202.9" font-size="8.0" text-anchor="middle" fill="#222222" stroke="#222222" stroke-width="0.1" textLength="4.55" lengthAdjust="spacingAndGlyphs">0</text>
<line x1="444.39" y1="191.5" x2="444.39" y2="194.5" stroke="#444" stroke-width="0.8"/>
<text x="444.39" y="202.9" font-size="8.0" text-anchor="middle" fill="#222222" stroke="#222222" stroke-width="0.1" textLength="13.65" lengthAdjust="spacingAndGlyphs">100</text>
<line x1="474.78" y1="191.5" x2="474.78" y2="194.5" stroke="#444" stroke-width="0.8"/>
<text x="474.78" y="202.9" font-size="8.0" text-anchor="middle" fill="#222222" stroke="#222222" stroke-width="0.1" textLength="13.65" lengthAdjust="spacingAndGlyphs">200</text>
<line x1="505.17" y1="191.5" x2="505.17" y2="194.5" stroke="#444" stroke-width="0.8"/>
<text x="505.17" y="202.9" font-size="8.0" text-anchor="middle" fill="#222222" stroke="#222222" stroke-width="0.1" textLength="13.65" lengthAdjust="spacingAndGlyphs">300</text>
<line x1="535.56" y1="191.5" x2="535.56" y2="194.5" stroke="#444" stroke-width="0.8"/>
<text x="535.56" y="202.9" font-size="8.0" text-anchor="middle" fill="#222222" stroke="#222222" stroke-width="0.1" textLength="13.65" lengthAdjust="spacingAndGlyphs">400</text>
<line x1="565.95" y1="191.5" x2="565.95" y2="194.5" stroke="#444" stroke-width="0.8"/>
<text x="565.95" y="202.9" font-size="8.0" text-anchor="middle" fill="#222222" stroke="#222222" stroke-width="0.1" textLength="13.65" lengthAdjust="spacingAndGlyphs">500</text>
<line x1="596.34" y1="191.5" x2="596.34" y2="194.5" stroke="#444" stroke-width="0.8"/>
<text x="596.34" y="202.9" font-size="8.0" text-anchor="middle" fill="#222222" stroke="#222222" stroke-width="0.1" textLength="13.65" lengthAdjust="spacingAndGlyphs">600</text>
<line x1="626.73" y1="191.5" x2="626.73" y2="194.5" stroke="#444" stroke-width="0.8"/>
<text x="626.73" y="202.9" font-size="8.0" text-anchor="middle" fill="#222222" stroke="#222222" stroke-width="0.1" textLength="13.65" lengthAdjust="spacingAndGlyphs">700</text>
<line x1="657.12" y1="191.5" x2="657.12" y2="194.5" stroke="#444" stroke-width="0.8"/>
<text x="657.12" y="202.9" font-size="8.0" text-anchor="middle" fill="#222222" stroke="#222222" stroke-width="0.1" textLength="13.65" lengthAdjust="spacingAndGlyphs">800</text>
<text x="391.6" y="106.25" font-size="12" text-anchor="middle" fill="#222222" stroke="#222222" stroke-width="0.08" textLength="52" lengthAdjust="spacingAndGlyphs" transform="rotate(-90 391.6 106.25)">RMSF (<tspan font-style="italic">Å</tspan>)</text>
<text x="549.3" y="216.1" font-size="12.2" text-anchor="middle" fill="#222222" stroke="#222222" stroke-width="0.1" textLength="83.8" lengthAdjust="spacingAndGlyphs">Residue Index</text>
<line x1="524.3" y1="228.5" x2="530.8" y2="228.5" stroke="#52748f" stroke-width="2.8"/>
<text x="535.8" y="231.3" font-size="8.4" text-anchor="start" fill="#222222" stroke="#222222" stroke-width="0.25" textLength="36.2" lengthAdjust="spacingAndGlyphs">C-alphas</text>
<text x="416.2" y="12.8" font-size="17.3" text-anchor="start" fill="#000" stroke="#000" stroke-width="0.35" font-weight="bold">D</text>
<rect x="414.0" y="272.6" width="270.40" height="170.70" fill="none" stroke="#666666" stroke-width="1.1"/>
<line x1="411" y1="422.38" x2="414" y2="422.38" stroke="#444" stroke-width="0.8"/>
<text x="408.5" y="425.26" font-size="8.0" text-anchor="end" fill="#222222" stroke="#222222" stroke-width="0.1" textLength="11.9" lengthAdjust="spacingAndGlyphs">0.8</text>
<line x1="411" y1="401.26" x2="414" y2="401.26" stroke="#444" stroke-width="0.8"/>
<text x="408.5" y="404.14" font-size="8.0" text-anchor="end" fill="#222222" stroke="#222222" stroke-width="0.1" textLength="11.9" lengthAdjust="spacingAndGlyphs">1.6</text>
<line x1="411" y1="380.14" x2="414" y2="380.14" stroke="#444" stroke-width="0.8"/>
<text x="408.5" y="383.02" font-size="8.0" text-anchor="end" fill="#222222" stroke="#222222" stroke-width="0.1" textLength="11.9" lengthAdjust="spacingAndGlyphs">2.4</text>
<line x1="411" y1="359.02" x2="414" y2="359.02" stroke="#444" stroke-width="0.8"/>
<text x="408.5" y="361.9" font-size="8.0" text-anchor="end" fill="#222222" stroke="#222222" stroke-width="0.1" textLength="11.9" lengthAdjust="spacingAndGlyphs">3.2</text>
<line x1="411" y1="337.9" x2="414" y2="337.9" stroke="#444" stroke-width="0.8"/>
<text x="408.5" y="340.78" font-size="8.0" text-anchor="end" fill="#222222" stroke="#222222" stroke-width="0.1" textLength="11.9" lengthAdjust="spacingAndGlyphs">4.0</text>
<line x1="411" y1="316.78" x2="414" y2="316.78" stroke="#444" stroke-width="0.8"/>
<text x="408.5" y="319.66" font-size="8.0" text-anchor="end" fill="#222222" stroke="#222222" stroke-width="0.1" textLength="11.9" lengthAdjust="spacingAndGlyphs">4.8</text>
<line x1="411" y1="295.66" x2="414" y2="295.66" stroke="#444" stroke-width="0.8"/>
<text x="408.5" y="298.54" font-size="8.0" text-anchor="end" fill="#222222" stroke="#222222" stroke-width="0.1" textLength="11.9" lengthAdjust="spacingAndGlyphs">5.6</text>
<line x1="411" y1="274.54" x2="414" y2="274.54" stroke="#444" stroke-width="0.8"/>
<text x="408.5" y="277.42" font-size="8.0" text-anchor="end" fill="#222222" stroke="#222222" stroke-width="0.1" textLength="11.9" lengthAdjust="spacingAndGlyphs">6.4</text>
<line x1="414" y1="443.3" x2="414" y2="446.3" stroke="#444" stroke-width="0.8"/>
<text x="414" y="454.7" font-size="8.0" text-anchor="middle" fill="#222222" stroke="#222222" stroke-width="0.1" textLength="4.55" lengthAdjust="spacingAndGlyphs">0</text>
<line x1="466.9" y1="443.3" x2="466.9" y2="446.3" stroke="#444" stroke-width="0.8"/>
<text x="466.9" y="454.7" font-size="8.0" text-anchor="middle" fill="#222222" stroke="#222222" stroke-width="0.1" textLength="9.1" lengthAdjust="spacingAndGlyphs">50</text>
<line x1="519.8" y1="443.3" x2="519.8" y2="446.3" stroke="#444" stroke-width="0.8"/>
<text x="519.8" y="454.7" font-size="8.0" text-anchor="middle" fill="#222222" stroke="#222222" stroke-width="0.1" textLength="13.65" lengthAdjust="spacingAndGlyphs">100</text>
<line x1="572.7" y1="443.3" x2="572.7" y2="446.3" stroke="#444" stroke-width="0.8"/>
<text x="572.7" y="454.7" font-size="8.0" text-anchor="middle" fill="#222222" stroke="#222222" stroke-width="0.1" textLength="13.65" lengthAdjust="spacingAndGlyphs">150</text>
<line x1="625.6" y1="443.3" x2="625.6" y2="446.3" stroke="#444" stroke-width="0.8"/>
<text x="625.6" y="454.7" font-size="8.0" text-anchor="middle" fill="#222222" stroke="#222222" stroke-width="0.1" textLength="13.65" lengthAdjust="spacingAndGlyphs">200</text>
<line x1="678.5" y1="443.3" x2="678.5" y2="446.3" stroke="#444" stroke-width="0.8"/>
<text x="678.5" y="454.7" font-size="8.0" text-anchor="middle" fill="#222222" stroke="#222222" stroke-width="0.1" textLength="13.65" lengthAdjust="spacingAndGlyphs">250</text>
<text x="391.6" y="357.95" font-size="12" text-anchor="middle" fill="#222222" stroke="#222222" stroke-width="0.08" textLength="52" lengthAdjust="spacingAndGlyphs" transform="rotate(-90 391.6 357.95)">RMSF (<tspan font-style="italic">Å</tspan>)</text>
<text x="549.3" y="467.9" font-size="12.2" text-anchor="middle" fill="#222222" stroke="#222222" stroke-width="0.1" textLength="83.8" lengthAdjust="spacingAndGlyphs">Residue Index</text>
<line x1="524.3" y1="480.3" x2="530.8" y2="480.3" stroke="#52748f" stroke-width="2.8"/>
<text x="535.8" y="483.1" font-size="8.4" text-anchor="start" fill="#222222" stroke="#222222" stroke-width="0.25" textLength="36.2" lengthAdjust="spacingAndGlyphs">C-alphas</text>
<text x="416.2" y="265.1" font-size="17.3" text-anchor="start" fill="#000" stroke="#000" stroke-width="0.35" font-weight="bold">E</text>
<rect x="414.0" y="524.0" width="270.40" height="171.30" fill="none" stroke="#666666" stroke-width="1.1"/>
<line x1="411" y1="677.1" x2="414" y2="677.1" stroke="#444" stroke-width="0.8"/>
<text x="408.5" y="679.98" font-size="8.0" text-anchor="end" fill="#222222" stroke="#222222" stroke-width="0.1" textLength="11.9" lengthAdjust="spacingAndGlyphs">0.5</text>
<line x1="411" y1="659" x2="414" y2="659" stroke="#444" stroke-width="0.8"/>
<text x="408.5" y="661.88" font-size="8.0" text-anchor="end" fill="#222222" stroke="#222222" stroke-width="0.1" textLength="11.9" lengthAdjust="spacingAndGlyphs">1.0</text>
<line x1="411" y1="640.9" x2="414" y2="640.9" stroke="#444" stroke-width="0.8"/>
<text x="408.5" y="643.78" font-size="8.0" text-anchor="end" fill="#222222" stroke="#222222" stroke-width="0.1" textLength="11.9" lengthAdjust="spacingAndGlyphs">1.5</text>
<line x1="411" y1="622.8" x2="414" y2="622.8" stroke="#444" stroke-width="0.8"/>
<text x="408.5" y="625.68" font-size="8.0" text-anchor="end" fill="#222222" stroke="#222222" stroke-width="0.1" textLength="11.9" lengthAdjust="spacingAndGlyphs">2.0</text>
<line x1="411" y1="604.7" x2="414" y2="604.7" stroke="#444" stroke-width="0.8"/>
<text x="408.5" y="607.58" font-size="8.0" text-anchor="end" fill="#222222" stroke="#222222" stroke-width="0.1" textLength="11.9" lengthAdjust="spacingAndGlyphs">2.5</text>
<line x1="411" y1="586.6" x2="414" y2="586.6" stroke="#444" stroke-width="0.8"/>
<text x="408.5" y="589.48" font-size="8.0" text-anchor="end" fill="#222222" stroke="#222222" stroke-width="0.1" textLength="11.9" lengthAdjust="spacingAndGlyphs">3.0</text>
<line x1="411" y1="568.5" x2="414" y2="568.5" stroke="#444" stroke-width="0.8"/>
<text x="408.5" y="571.38" font-size="8.0" text-anchor="end" fill="#222222" stroke="#222222" stroke-width="0.1" textLength="11.9" lengthAdjust="spacingAndGlyphs">3.5</text>
<line x1="411" y1="550.4" x2="414" y2="550.4" stroke="#444" stroke-width="0.8"/>
<text x="408.5" y="553.28" font-size="8.0" text-anchor="end" fill="#222222" stroke="#222222" stroke-width="0.1" textLength="11.9" lengthAdjust="spacingAndGlyphs">4.0</text>
<line x1="411" y1="532.3" x2="414" y2="532.3" stroke="#444" stroke-width="0.8"/>
<text x="408.5" y="535.18" font-size="8.0" text-anchor="end" fill="#222222" stroke="#222222" stroke-width="0.1" textLength="11.9" lengthAdjust="spacingAndGlyphs">4.5</text>
<line x1="414" y1="695.3" x2="414" y2="698.3" stroke="#444" stroke-width="0.8"/>
<text x="414" y="706.7" font-size="8.0" text-anchor="middle" fill="#222222" stroke="#222222" stroke-width="0.1" textLength="4.55" lengthAdjust="spacingAndGlyphs">0</text>
<line x1="456.2" y1="695.3" x2="456.2" y2="698.3" stroke="#444" stroke-width="0.8"/>
<text x="456.2" y="706.7" font-size="8.0" text-anchor="middle" fill="#222222" stroke="#222222" stroke-width="0.1" textLength="9.1" lengthAdjust="spacingAndGlyphs">50</text>
<line x1="498.4" y1="695.3" x2="498.4" y2="698.3" stroke="#444" stroke-width="0.8"/>
<text x="498.4" y="706.7" font-size="8.0" text-anchor="middle" fill="#222222" stroke="#222222" stroke-width="0.1" textLength="13.65" lengthAdjust="spacingAndGlyphs">100</text>
<line x1="540.6" y1="695.3" x2="540.6" y2="698.3" stroke="#444" stroke-width="0.8"/>
<text x="540.6" y="706.7" font-size="8.0" text-anchor="middle" fill="#222222" stroke="#222222" stroke-width="0.1" textLength="13.65" lengthAdjust="spacingAndGlyphs">150</text>
<line x1="582.8" y1="695.3" x2="582.8" y2="698.3" stroke="#444" stroke-width="0.8"/>
<text x="582.8" y="706.7" font-size="8.0" text-anchor="middle" fill="#222222" stroke="#222222" stroke-width="0.1" textLength="13.65" lengthAdjust="spacingAndGlyphs">200</text>
<line x1="625" y1="695.3" x2="625" y2="698.3" stroke="#444" stroke-width="0.8"/>
<text x="625" y="706.7" font-size="8.0" text-anchor="middle" fill="#222222" stroke="#222222" stroke-width="0.1" textLength="13.65" lengthAdjust="spacingAndGlyphs">250</text>
<line x1="667.2" y1="695.3" x2="667.2" y2="698.3" stroke="#444" stroke-width="0.8"/>
<text x="667.2" y="706.7" font-size="8.0" text-anchor="middle" fill="#222222" stroke="#222222" stroke-width="0.1" textLength="13.65" lengthAdjust="spacingAndGlyphs">300</text>
<text x="391.6" y="609.65" font-size="12" text-anchor="middle" fill="#222222" stroke="#222222" stroke-width="0.08" textLength="52" lengthAdjust="spacingAndGlyphs" transform="rotate(-90 391.6 609.65)">RMSF (<tspan font-style="italic">Å</tspan>)</text>
<text x="549.3" y="719.9" font-size="12.2" text-anchor="middle" fill="#222222" stroke="#222222" stroke-width="0.1" textLength="83.8" lengthAdjust="spacingAndGlyphs">Residue Index</text>
<line x1="524.3" y1="732.3" x2="530.8" y2="732.3" stroke="#52748f" stroke-width="2.8"/>
<text x="535.8" y="735.1" font-size="8.4" text-anchor="start" fill="#222222" stroke="#222222" stroke-width="0.25" textLength="36.2" lengthAdjust="spacingAndGlyphs">C-alphas</text>
<text x="416.2" y="517.5" font-size="17.3" text-anchor="start" fill="#000" stroke="#000" stroke-width="0.35" font-weight="bold">F</text>
</svg>
</body></html>
